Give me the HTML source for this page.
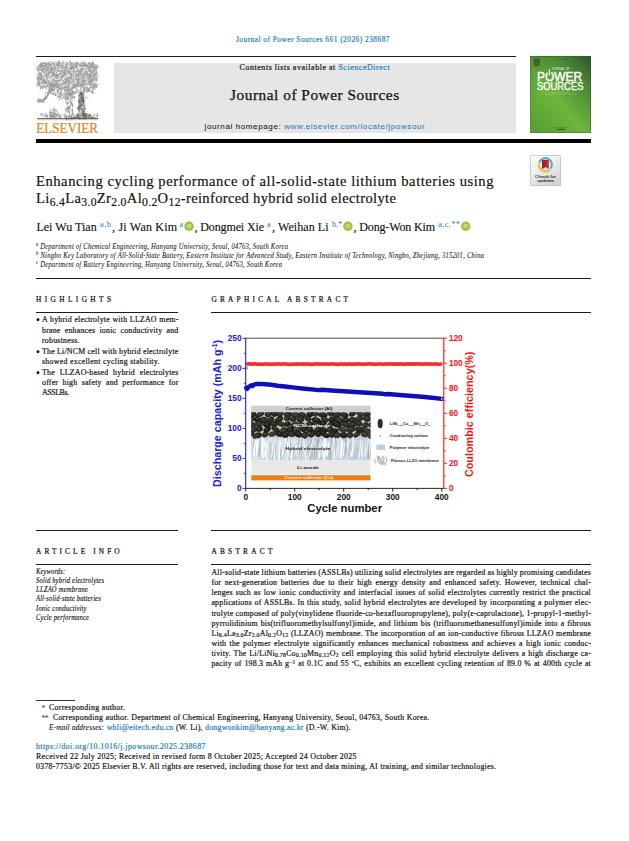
<!DOCTYPE html>
<html>
<head>
<meta charset="utf-8">
<title>Journal of Power Sources 661 (2026) 238687</title>
<style>
html,body{margin:0;padding:0;background:#fff;}
body{width:629px;height:841px;position:relative;overflow:hidden;color:#111;font-family:"Liberation Serif",serif;}
.l{position:absolute;white-space:nowrap;-webkit-text-stroke:0.18px;}
.n{font-family:"Liberation Sans",sans-serif;}
.r{position:absolute;background:#1b1b1b;}
.g{position:absolute;left:0;top:0;}
.orc{display:inline-block;width:0.86em;height:0.86em;border-radius:50%;background:#a6ce39;vertical-align:-0.09em;margin:0 0 0 0.12em;position:relative;}
.orc:after{content:"iD";position:absolute;left:0;top:0;width:100%;height:100%;font:bold 0.5em/1.75em "Liberation Sans",sans-serif;color:#fff;text-align:center;letter-spacing:0;}
</style>
</head>
<body>
<div class="r" style="left:36px;top:55.7px;width:480px;height:0.8px;background:#1b1b1b"></div>
<div class="r" style="left:114px;top:62.8px;width:402px;height:70.2px;background:#e6e6e6"></div>
<div class="r" style="left:36px;top:139.2px;width:555px;height:3.4px;background:#000"></div>
<div class="r" style="left:36px;top:278.0px;width:555.0px;height:0.7px;background:#1b1b1b"></div>
<div class="r" style="left:36px;top:312.0px;width:142.3px;height:0.9px;background:#1b1b1b"></div>
<div class="r" style="left:211.4px;top:312.0px;width:379.6px;height:0.9px;background:#1b1b1b"></div>
<div class="r" style="left:36px;top:529.8px;width:142.3px;height:0.9px;background:#1b1b1b"></div>
<div class="r" style="left:211.4px;top:529.8px;width:379.6px;height:0.9px;background:#1b1b1b"></div>
<div class="r" style="left:36px;top:564.0px;width:142.3px;height:0.9px;background:#1b1b1b"></div>
<div class="r" style="left:211.4px;top:564.0px;width:379.6px;height:0.9px;background:#1b1b1b"></div>
<div class="r" style="left:36px;top:699.9px;width:38.5px;height:0.5px;background:#333"></div>
<svg class="g" width="629" height="841" viewBox="0 0 629 841" font-family="'Liberation Sans', sans-serif">
<g><rect x="251.3" y="405.7" width="119.19999999999999" height="6.6" fill="#cfcfcf"/>
<rect x="251.3" y="412.3" width="119.19999999999999" height="25.4" fill="#c9c99a"/>
<rect x="251.3" y="437.7" width="119.19999999999999" height="22.2" fill="#b4cde8"/>
<rect x="251.3" y="459.9" width="119.19999999999999" height="14.5" fill="#e9e9e9"/>
<rect x="251.3" y="475.2" width="119.19999999999999" height="5.2" fill="#f07d14"/>
<clipPath id="cp1"><rect x="251.3" y="412.3" width="119.19999999999999" height="26.6"/></clipPath>
<g clip-path="url(#cp1)"><ellipse cx="252.9" cy="414.5" rx="3.2" ry="2.9" transform="rotate(-34 252.9 414.5)" fill="#262626" stroke="#0c0c0c" stroke-width="0.35"/><ellipse cx="252.3" cy="413.8" rx="1.5" ry="1.0" transform="rotate(-34 252.9 414.5)" fill="#4a4a4a" opacity="0.7"/><ellipse cx="260.1" cy="414.2" rx="4.5" ry="2.5" transform="rotate(-33 260.1 414.2)" fill="#303030" stroke="#0c0c0c" stroke-width="0.35"/><ellipse cx="259.5" cy="413.5" rx="2.0" ry="0.9" transform="rotate(-33 260.1 414.2)" fill="#4a4a4a" opacity="0.7"/><ellipse cx="268.5" cy="413.8" rx="3.7" ry="3.0" transform="rotate(-30 268.5 413.8)" fill="#2e2e2e" stroke="#0c0c0c" stroke-width="0.35"/><ellipse cx="267.9" cy="413.1" rx="1.7" ry="1.1" transform="rotate(-30 268.5 413.8)" fill="#4a4a4a" opacity="0.7"/><ellipse cx="274.8" cy="413.8" rx="3.1" ry="2.8" transform="rotate(-36 274.8 413.8)" fill="#1f1f1f" stroke="#0c0c0c" stroke-width="0.35"/><ellipse cx="274.2" cy="413.1" rx="1.4" ry="1.0" transform="rotate(-36 274.8 413.8)" fill="#4a4a4a" opacity="0.7"/><ellipse cx="280.3" cy="414.0" rx="3.5" ry="2.4" transform="rotate(-31 280.3 414.0)" fill="#2e2e2e" stroke="#0c0c0c" stroke-width="0.35"/><ellipse cx="279.7" cy="413.3" rx="1.6" ry="0.9" transform="rotate(-31 280.3 414.0)" fill="#4a4a4a" opacity="0.7"/><ellipse cx="287.9" cy="414.5" rx="3.9" ry="2.9" transform="rotate(-10 287.9 414.5)" fill="#2b2b2b" stroke="#0c0c0c" stroke-width="0.35"/><ellipse cx="287.3" cy="413.8" rx="1.8" ry="1.0" transform="rotate(-10 287.9 414.5)" fill="#4a4a4a" opacity="0.7"/><ellipse cx="295.3" cy="415.0" rx="4.0" ry="2.7" transform="rotate(3 295.3 415.0)" fill="#383838" stroke="#0c0c0c" stroke-width="0.35"/><ellipse cx="294.7" cy="414.3" rx="1.8" ry="1.0" transform="rotate(3 295.3 415.0)" fill="#4a4a4a" opacity="0.7"/><ellipse cx="302.4" cy="414.8" rx="3.7" ry="2.6" transform="rotate(24 302.4 414.8)" fill="#303030" stroke="#0c0c0c" stroke-width="0.35"/><ellipse cx="301.8" cy="414.1" rx="1.7" ry="0.9" transform="rotate(24 302.4 414.8)" fill="#4a4a4a" opacity="0.7"/><ellipse cx="310.0" cy="414.3" rx="3.5" ry="2.7" transform="rotate(-13 310.0 414.3)" fill="#1f1f1f" stroke="#0c0c0c" stroke-width="0.35"/><ellipse cx="309.4" cy="413.6" rx="1.6" ry="1.0" transform="rotate(-13 310.0 414.3)" fill="#4a4a4a" opacity="0.7"/><ellipse cx="315.4" cy="413.7" rx="3.2" ry="2.7" transform="rotate(21 315.4 413.7)" fill="#383838" stroke="#0c0c0c" stroke-width="0.35"/><ellipse cx="314.8" cy="413.0" rx="1.4" ry="0.9" transform="rotate(21 315.4 413.7)" fill="#4a4a4a" opacity="0.7"/><ellipse cx="322.9" cy="415.0" rx="4.5" ry="2.4" transform="rotate(5 322.9 415.0)" fill="#262626" stroke="#0c0c0c" stroke-width="0.35"/><ellipse cx="322.3" cy="414.3" rx="2.0" ry="0.8" transform="rotate(5 322.9 415.0)" fill="#4a4a4a" opacity="0.7"/><ellipse cx="330.8" cy="413.5" rx="3.6" ry="2.7" transform="rotate(24 330.8 413.5)" fill="#2b2b2b" stroke="#0c0c0c" stroke-width="0.35"/><ellipse cx="330.2" cy="412.8" rx="1.6" ry="1.0" transform="rotate(24 330.8 413.5)" fill="#4a4a4a" opacity="0.7"/><ellipse cx="337.0" cy="414.8" rx="3.8" ry="2.9" transform="rotate(-35 337.0 414.8)" fill="#2e2e2e" stroke="#0c0c0c" stroke-width="0.35"/><ellipse cx="336.4" cy="414.1" rx="1.7" ry="1.0" transform="rotate(-35 337.0 414.8)" fill="#4a4a4a" opacity="0.7"/><ellipse cx="344.3" cy="415.2" rx="4.1" ry="2.7" transform="rotate(17 344.3 415.2)" fill="#262626" stroke="#0c0c0c" stroke-width="0.35"/><ellipse cx="343.7" cy="414.5" rx="1.8" ry="0.9" transform="rotate(17 344.3 415.2)" fill="#4a4a4a" opacity="0.7"/><ellipse cx="352.6" cy="413.5" rx="3.7" ry="2.5" transform="rotate(-31 352.6 413.5)" fill="#262626" stroke="#0c0c0c" stroke-width="0.35"/><ellipse cx="352.0" cy="412.8" rx="1.7" ry="0.9" transform="rotate(-31 352.6 413.5)" fill="#4a4a4a" opacity="0.7"/><ellipse cx="360.0" cy="413.6" rx="3.4" ry="2.7" transform="rotate(30 360.0 413.6)" fill="#383838" stroke="#0c0c0c" stroke-width="0.35"/><ellipse cx="359.4" cy="412.9" rx="1.5" ry="0.9" transform="rotate(30 360.0 413.6)" fill="#4a4a4a" opacity="0.7"/><ellipse cx="366.6" cy="414.5" rx="3.4" ry="2.4" transform="rotate(-6 366.6 414.5)" fill="#2e2e2e" stroke="#0c0c0c" stroke-width="0.35"/><ellipse cx="366.0" cy="413.8" rx="1.6" ry="0.8" transform="rotate(-6 366.6 414.5)" fill="#4a4a4a" opacity="0.7"/><ellipse cx="373.3" cy="413.7" rx="3.6" ry="3.1" transform="rotate(37 373.3 413.7)" fill="#303030" stroke="#0c0c0c" stroke-width="0.35"/><ellipse cx="372.7" cy="413.0" rx="1.6" ry="1.1" transform="rotate(37 373.3 413.7)" fill="#4a4a4a" opacity="0.7"/><ellipse cx="251.0" cy="419.0" rx="3.0" ry="3.0" transform="rotate(-25 251.0 419.0)" fill="#303030" stroke="#0c0c0c" stroke-width="0.35"/><ellipse cx="250.4" cy="418.3" rx="1.4" ry="1.1" transform="rotate(-25 251.0 419.0)" fill="#4a4a4a" opacity="0.7"/><ellipse cx="257.4" cy="419.8" rx="3.6" ry="2.8" transform="rotate(36 257.4 419.8)" fill="#1f1f1f" stroke="#0c0c0c" stroke-width="0.35"/><ellipse cx="256.8" cy="419.1" rx="1.6" ry="1.0" transform="rotate(36 257.4 419.8)" fill="#4a4a4a" opacity="0.7"/><ellipse cx="263.8" cy="420.1" rx="4.0" ry="3.0" transform="rotate(-3 263.8 420.1)" fill="#2e2e2e" stroke="#0c0c0c" stroke-width="0.35"/><ellipse cx="263.2" cy="419.4" rx="1.8" ry="1.0" transform="rotate(-3 263.8 420.1)" fill="#4a4a4a" opacity="0.7"/><ellipse cx="270.6" cy="419.7" rx="3.6" ry="2.7" transform="rotate(-32 270.6 419.7)" fill="#2b2b2b" stroke="#0c0c0c" stroke-width="0.35"/><ellipse cx="270.0" cy="419.0" rx="1.6" ry="0.9" transform="rotate(-32 270.6 419.7)" fill="#4a4a4a" opacity="0.7"/><ellipse cx="278.9" cy="419.6" rx="4.6" ry="2.7" transform="rotate(-31 278.9 419.6)" fill="#2b2b2b" stroke="#0c0c0c" stroke-width="0.35"/><ellipse cx="278.3" cy="418.9" rx="2.1" ry="0.9" transform="rotate(-31 278.9 419.6)" fill="#4a4a4a" opacity="0.7"/><ellipse cx="287.2" cy="418.5" rx="3.2" ry="2.4" transform="rotate(-11 287.2 418.5)" fill="#303030" stroke="#0c0c0c" stroke-width="0.35"/><ellipse cx="286.6" cy="417.8" rx="1.5" ry="0.8" transform="rotate(-11 287.2 418.5)" fill="#4a4a4a" opacity="0.7"/><ellipse cx="293.1" cy="419.1" rx="3.2" ry="2.5" transform="rotate(-12 293.1 419.1)" fill="#2b2b2b" stroke="#0c0c0c" stroke-width="0.35"/><ellipse cx="292.5" cy="418.4" rx="1.5" ry="0.9" transform="rotate(-12 293.1 419.1)" fill="#4a4a4a" opacity="0.7"/><ellipse cx="300.4" cy="419.0" rx="3.8" ry="3.2" transform="rotate(-2 300.4 419.0)" fill="#303030" stroke="#0c0c0c" stroke-width="0.35"/><ellipse cx="299.8" cy="418.3" rx="1.7" ry="1.1" transform="rotate(-2 300.4 419.0)" fill="#4a4a4a" opacity="0.7"/><ellipse cx="308.1" cy="418.7" rx="3.5" ry="2.5" transform="rotate(26 308.1 418.7)" fill="#2b2b2b" stroke="#0c0c0c" stroke-width="0.35"/><ellipse cx="307.5" cy="418.0" rx="1.6" ry="0.9" transform="rotate(26 308.1 418.7)" fill="#4a4a4a" opacity="0.7"/><ellipse cx="316.3" cy="420.2" rx="4.5" ry="2.6" transform="rotate(15 316.3 420.2)" fill="#1f1f1f" stroke="#0c0c0c" stroke-width="0.35"/><ellipse cx="315.7" cy="419.5" rx="2.0" ry="0.9" transform="rotate(15 316.3 420.2)" fill="#4a4a4a" opacity="0.7"/><ellipse cx="324.8" cy="419.4" rx="4.0" ry="2.4" transform="rotate(28 324.8 419.4)" fill="#303030" stroke="#0c0c0c" stroke-width="0.35"/><ellipse cx="324.2" cy="418.7" rx="1.8" ry="0.8" transform="rotate(28 324.8 419.4)" fill="#4a4a4a" opacity="0.7"/><ellipse cx="332.0" cy="419.7" rx="3.4" ry="2.8" transform="rotate(0 332.0 419.7)" fill="#1f1f1f" stroke="#0c0c0c" stroke-width="0.35"/><ellipse cx="331.4" cy="419.0" rx="1.5" ry="1.0" transform="rotate(0 332.0 419.7)" fill="#4a4a4a" opacity="0.7"/><ellipse cx="339.0" cy="420.0" rx="4.6" ry="3.1" transform="rotate(24 339.0 420.0)" fill="#2e2e2e" stroke="#0c0c0c" stroke-width="0.35"/><ellipse cx="338.4" cy="419.3" rx="2.1" ry="1.1" transform="rotate(24 339.0 420.0)" fill="#4a4a4a" opacity="0.7"/><ellipse cx="345.9" cy="420.4" rx="3.3" ry="2.7" transform="rotate(18 345.9 420.4)" fill="#262626" stroke="#0c0c0c" stroke-width="0.35"/><ellipse cx="345.3" cy="419.7" rx="1.5" ry="1.0" transform="rotate(18 345.9 420.4)" fill="#4a4a4a" opacity="0.7"/><ellipse cx="352.2" cy="420.0" rx="3.3" ry="2.8" transform="rotate(-12 352.2 420.0)" fill="#2e2e2e" stroke="#0c0c0c" stroke-width="0.35"/><ellipse cx="351.6" cy="419.3" rx="1.5" ry="1.0" transform="rotate(-12 352.2 420.0)" fill="#4a4a4a" opacity="0.7"/><ellipse cx="358.8" cy="418.9" rx="4.5" ry="2.6" transform="rotate(-22 358.8 418.9)" fill="#303030" stroke="#0c0c0c" stroke-width="0.35"/><ellipse cx="358.2" cy="418.2" rx="2.0" ry="0.9" transform="rotate(-22 358.8 418.9)" fill="#4a4a4a" opacity="0.7"/><ellipse cx="367.0" cy="418.4" rx="3.8" ry="3.2" transform="rotate(9 367.0 418.4)" fill="#2e2e2e" stroke="#0c0c0c" stroke-width="0.35"/><ellipse cx="366.4" cy="417.7" rx="1.7" ry="1.1" transform="rotate(9 367.0 418.4)" fill="#4a4a4a" opacity="0.7"/><ellipse cx="374.7" cy="419.2" rx="4.0" ry="3.1" transform="rotate(-30 374.7 419.2)" fill="#2e2e2e" stroke="#0c0c0c" stroke-width="0.35"/><ellipse cx="374.1" cy="418.5" rx="1.8" ry="1.1" transform="rotate(-30 374.7 419.2)" fill="#4a4a4a" opacity="0.7"/><ellipse cx="252.2" cy="425.2" rx="3.3" ry="3.0" transform="rotate(-13 252.2 425.2)" fill="#2e2e2e" stroke="#0c0c0c" stroke-width="0.35"/><ellipse cx="251.6" cy="424.5" rx="1.5" ry="1.1" transform="rotate(-13 252.2 425.2)" fill="#4a4a4a" opacity="0.7"/><ellipse cx="258.9" cy="423.9" rx="3.6" ry="3.2" transform="rotate(18 258.9 423.9)" fill="#303030" stroke="#0c0c0c" stroke-width="0.35"/><ellipse cx="258.3" cy="423.2" rx="1.6" ry="1.1" transform="rotate(18 258.9 423.9)" fill="#4a4a4a" opacity="0.7"/><ellipse cx="266.9" cy="424.8" rx="3.9" ry="2.7" transform="rotate(12 266.9 424.8)" fill="#1f1f1f" stroke="#0c0c0c" stroke-width="0.35"/><ellipse cx="266.3" cy="424.1" rx="1.8" ry="1.0" transform="rotate(12 266.9 424.8)" fill="#4a4a4a" opacity="0.7"/><ellipse cx="273.7" cy="423.9" rx="4.1" ry="2.6" transform="rotate(4 273.7 423.9)" fill="#2b2b2b" stroke="#0c0c0c" stroke-width="0.35"/><ellipse cx="273.1" cy="423.2" rx="1.8" ry="0.9" transform="rotate(4 273.7 423.9)" fill="#4a4a4a" opacity="0.7"/><ellipse cx="281.0" cy="423.9" rx="4.2" ry="2.4" transform="rotate(20 281.0 423.9)" fill="#303030" stroke="#0c0c0c" stroke-width="0.35"/><ellipse cx="280.4" cy="423.2" rx="1.9" ry="0.8" transform="rotate(20 281.0 423.9)" fill="#4a4a4a" opacity="0.7"/><ellipse cx="287.5" cy="424.1" rx="3.3" ry="2.5" transform="rotate(-17 287.5 424.1)" fill="#1f1f1f" stroke="#0c0c0c" stroke-width="0.35"/><ellipse cx="286.9" cy="423.4" rx="1.5" ry="0.9" transform="rotate(-17 287.5 424.1)" fill="#4a4a4a" opacity="0.7"/><ellipse cx="294.6" cy="425.1" rx="3.9" ry="3.1" transform="rotate(-35 294.6 425.1)" fill="#383838" stroke="#0c0c0c" stroke-width="0.35"/><ellipse cx="294.0" cy="424.4" rx="1.7" ry="1.1" transform="rotate(-35 294.6 425.1)" fill="#4a4a4a" opacity="0.7"/><ellipse cx="302.1" cy="425.4" rx="4.3" ry="2.8" transform="rotate(26 302.1 425.4)" fill="#303030" stroke="#0c0c0c" stroke-width="0.35"/><ellipse cx="301.5" cy="424.7" rx="1.9" ry="1.0" transform="rotate(26 302.1 425.4)" fill="#4a4a4a" opacity="0.7"/><ellipse cx="309.8" cy="424.0" rx="3.8" ry="2.3" transform="rotate(-5 309.8 424.0)" fill="#2b2b2b" stroke="#0c0c0c" stroke-width="0.35"/><ellipse cx="309.2" cy="423.3" rx="1.7" ry="0.8" transform="rotate(-5 309.8 424.0)" fill="#4a4a4a" opacity="0.7"/><ellipse cx="315.9" cy="423.8" rx="3.2" ry="2.4" transform="rotate(10 315.9 423.8)" fill="#2b2b2b" stroke="#0c0c0c" stroke-width="0.35"/><ellipse cx="315.3" cy="423.1" rx="1.5" ry="0.8" transform="rotate(10 315.9 423.8)" fill="#4a4a4a" opacity="0.7"/><ellipse cx="322.9" cy="423.8" rx="3.8" ry="2.8" transform="rotate(23 322.9 423.8)" fill="#1f1f1f" stroke="#0c0c0c" stroke-width="0.35"/><ellipse cx="322.3" cy="423.1" rx="1.7" ry="1.0" transform="rotate(23 322.9 423.8)" fill="#4a4a4a" opacity="0.7"/><ellipse cx="330.5" cy="424.5" rx="3.3" ry="2.3" transform="rotate(-32 330.5 424.5)" fill="#2b2b2b" stroke="#0c0c0c" stroke-width="0.35"/><ellipse cx="329.9" cy="423.8" rx="1.5" ry="0.8" transform="rotate(-32 330.5 424.5)" fill="#4a4a4a" opacity="0.7"/><ellipse cx="337.4" cy="424.6" rx="4.5" ry="2.7" transform="rotate(9 337.4 424.6)" fill="#1f1f1f" stroke="#0c0c0c" stroke-width="0.35"/><ellipse cx="336.8" cy="423.9" rx="2.0" ry="0.9" transform="rotate(9 337.4 424.6)" fill="#4a4a4a" opacity="0.7"/><ellipse cx="345.4" cy="424.6" rx="3.4" ry="2.8" transform="rotate(25 345.4 424.6)" fill="#303030" stroke="#0c0c0c" stroke-width="0.35"/><ellipse cx="344.8" cy="423.9" rx="1.5" ry="1.0" transform="rotate(25 345.4 424.6)" fill="#4a4a4a" opacity="0.7"/><ellipse cx="352.5" cy="424.7" rx="4.4" ry="3.1" transform="rotate(-19 352.5 424.7)" fill="#303030" stroke="#0c0c0c" stroke-width="0.35"/><ellipse cx="351.9" cy="424.0" rx="2.0" ry="1.1" transform="rotate(-19 352.5 424.7)" fill="#4a4a4a" opacity="0.7"/><ellipse cx="359.1" cy="423.7" rx="3.2" ry="2.4" transform="rotate(-5 359.1 423.7)" fill="#303030" stroke="#0c0c0c" stroke-width="0.35"/><ellipse cx="358.5" cy="423.0" rx="1.4" ry="0.8" transform="rotate(-5 359.1 423.7)" fill="#4a4a4a" opacity="0.7"/><ellipse cx="365.4" cy="425.2" rx="3.3" ry="2.6" transform="rotate(-30 365.4 425.2)" fill="#2e2e2e" stroke="#0c0c0c" stroke-width="0.35"/><ellipse cx="364.8" cy="424.5" rx="1.5" ry="0.9" transform="rotate(-30 365.4 425.2)" fill="#4a4a4a" opacity="0.7"/><ellipse cx="371.7" cy="424.5" rx="3.6" ry="2.5" transform="rotate(-29 371.7 424.5)" fill="#2e2e2e" stroke="#0c0c0c" stroke-width="0.35"/><ellipse cx="371.1" cy="423.8" rx="1.6" ry="0.9" transform="rotate(-29 371.7 424.5)" fill="#4a4a4a" opacity="0.7"/><ellipse cx="253.1" cy="429.1" rx="3.8" ry="3.2" transform="rotate(27 253.1 429.1)" fill="#383838" stroke="#0c0c0c" stroke-width="0.35"/><ellipse cx="252.5" cy="428.4" rx="1.7" ry="1.1" transform="rotate(27 253.1 429.1)" fill="#4a4a4a" opacity="0.7"/><ellipse cx="259.2" cy="429.0" rx="3.6" ry="2.7" transform="rotate(-11 259.2 429.0)" fill="#262626" stroke="#0c0c0c" stroke-width="0.35"/><ellipse cx="258.6" cy="428.3" rx="1.6" ry="0.9" transform="rotate(-11 259.2 429.0)" fill="#4a4a4a" opacity="0.7"/><ellipse cx="267.2" cy="429.5" rx="3.9" ry="2.7" transform="rotate(-39 267.2 429.5)" fill="#1f1f1f" stroke="#0c0c0c" stroke-width="0.35"/><ellipse cx="266.6" cy="428.8" rx="1.7" ry="0.9" transform="rotate(-39 267.2 429.5)" fill="#4a4a4a" opacity="0.7"/><ellipse cx="275.6" cy="429.3" rx="4.5" ry="2.4" transform="rotate(33 275.6 429.3)" fill="#2b2b2b" stroke="#0c0c0c" stroke-width="0.35"/><ellipse cx="275.0" cy="428.6" rx="2.0" ry="0.8" transform="rotate(33 275.6 429.3)" fill="#4a4a4a" opacity="0.7"/><ellipse cx="283.9" cy="430.3" rx="3.4" ry="3.1" transform="rotate(-25 283.9 430.3)" fill="#383838" stroke="#0c0c0c" stroke-width="0.35"/><ellipse cx="283.3" cy="429.6" rx="1.5" ry="1.1" transform="rotate(-25 283.9 430.3)" fill="#4a4a4a" opacity="0.7"/><ellipse cx="290.4" cy="429.9" rx="4.1" ry="3.2" transform="rotate(-8 290.4 429.9)" fill="#1f1f1f" stroke="#0c0c0c" stroke-width="0.35"/><ellipse cx="289.8" cy="429.2" rx="1.8" ry="1.1" transform="rotate(-8 290.4 429.9)" fill="#4a4a4a" opacity="0.7"/><ellipse cx="298.1" cy="430.2" rx="4.1" ry="2.4" transform="rotate(-35 298.1 430.2)" fill="#383838" stroke="#0c0c0c" stroke-width="0.35"/><ellipse cx="297.5" cy="429.5" rx="1.9" ry="0.8" transform="rotate(-35 298.1 430.2)" fill="#4a4a4a" opacity="0.7"/><ellipse cx="304.5" cy="429.3" rx="3.4" ry="2.3" transform="rotate(-33 304.5 429.3)" fill="#1f1f1f" stroke="#0c0c0c" stroke-width="0.35"/><ellipse cx="303.9" cy="428.6" rx="1.5" ry="0.8" transform="rotate(-33 304.5 429.3)" fill="#4a4a4a" opacity="0.7"/><ellipse cx="310.0" cy="429.5" rx="3.1" ry="3.1" transform="rotate(-4 310.0 429.5)" fill="#1f1f1f" stroke="#0c0c0c" stroke-width="0.35"/><ellipse cx="309.4" cy="428.8" rx="1.4" ry="1.1" transform="rotate(-4 310.0 429.5)" fill="#4a4a4a" opacity="0.7"/><ellipse cx="317.4" cy="430.2" rx="4.5" ry="2.9" transform="rotate(-37 317.4 430.2)" fill="#2b2b2b" stroke="#0c0c0c" stroke-width="0.35"/><ellipse cx="316.8" cy="429.5" rx="2.0" ry="1.0" transform="rotate(-37 317.4 430.2)" fill="#4a4a4a" opacity="0.7"/><ellipse cx="324.0" cy="430.1" rx="3.4" ry="2.5" transform="rotate(35 324.0 430.1)" fill="#1f1f1f" stroke="#0c0c0c" stroke-width="0.35"/><ellipse cx="323.4" cy="429.4" rx="1.5" ry="0.9" transform="rotate(35 324.0 430.1)" fill="#4a4a4a" opacity="0.7"/><ellipse cx="330.0" cy="429.5" rx="3.5" ry="2.8" transform="rotate(-26 330.0 429.5)" fill="#2b2b2b" stroke="#0c0c0c" stroke-width="0.35"/><ellipse cx="329.4" cy="428.8" rx="1.6" ry="1.0" transform="rotate(-26 330.0 429.5)" fill="#4a4a4a" opacity="0.7"/><ellipse cx="335.2" cy="430.8" rx="3.1" ry="2.3" transform="rotate(0 335.2 430.8)" fill="#1f1f1f" stroke="#0c0c0c" stroke-width="0.35"/><ellipse cx="334.6" cy="430.1" rx="1.4" ry="0.8" transform="rotate(0 335.2 430.8)" fill="#4a4a4a" opacity="0.7"/><ellipse cx="342.4" cy="429.7" rx="4.5" ry="2.4" transform="rotate(26 342.4 429.7)" fill="#383838" stroke="#0c0c0c" stroke-width="0.35"/><ellipse cx="341.8" cy="429.0" rx="2.0" ry="0.8" transform="rotate(26 342.4 429.7)" fill="#4a4a4a" opacity="0.7"/><ellipse cx="350.9" cy="429.2" rx="4.4" ry="3.2" transform="rotate(-15 350.9 429.2)" fill="#303030" stroke="#0c0c0c" stroke-width="0.35"/><ellipse cx="350.3" cy="428.5" rx="2.0" ry="1.1" transform="rotate(-15 350.9 429.2)" fill="#4a4a4a" opacity="0.7"/><ellipse cx="359.5" cy="429.6" rx="4.3" ry="2.9" transform="rotate(11 359.5 429.6)" fill="#262626" stroke="#0c0c0c" stroke-width="0.35"/><ellipse cx="358.9" cy="428.9" rx="1.9" ry="1.0" transform="rotate(11 359.5 429.6)" fill="#4a4a4a" opacity="0.7"/><ellipse cx="366.9" cy="430.6" rx="4.3" ry="2.3" transform="rotate(10 366.9 430.6)" fill="#383838" stroke="#0c0c0c" stroke-width="0.35"/><ellipse cx="366.3" cy="429.9" rx="2.0" ry="0.8" transform="rotate(10 366.9 430.6)" fill="#4a4a4a" opacity="0.7"/><ellipse cx="374.6" cy="430.1" rx="3.1" ry="3.1" transform="rotate(30 374.6 430.1)" fill="#262626" stroke="#0c0c0c" stroke-width="0.35"/><ellipse cx="374.0" cy="429.4" rx="1.4" ry="1.1" transform="rotate(30 374.6 430.1)" fill="#4a4a4a" opacity="0.7"/><ellipse cx="250.9" cy="433.8" rx="3.1" ry="2.5" transform="rotate(-18 250.9 433.8)" fill="#262626" stroke="#0c0c0c" stroke-width="0.35"/><ellipse cx="250.3" cy="433.1" rx="1.4" ry="0.9" transform="rotate(-18 250.9 433.8)" fill="#4a4a4a" opacity="0.7"/><ellipse cx="257.3" cy="435.7" rx="4.6" ry="2.8" transform="rotate(-20 257.3 435.7)" fill="#262626" stroke="#0c0c0c" stroke-width="0.35"/><ellipse cx="256.7" cy="435.0" rx="2.1" ry="1.0" transform="rotate(-20 257.3 435.7)" fill="#4a4a4a" opacity="0.7"/><ellipse cx="265.3" cy="434.4" rx="3.3" ry="2.6" transform="rotate(-33 265.3 434.4)" fill="#2e2e2e" stroke="#0c0c0c" stroke-width="0.35"/><ellipse cx="264.7" cy="433.7" rx="1.5" ry="0.9" transform="rotate(-33 265.3 434.4)" fill="#4a4a4a" opacity="0.7"/><ellipse cx="272.5" cy="434.0" rx="3.8" ry="2.3" transform="rotate(-19 272.5 434.0)" fill="#383838" stroke="#0c0c0c" stroke-width="0.35"/><ellipse cx="271.9" cy="433.3" rx="1.7" ry="0.8" transform="rotate(-19 272.5 434.0)" fill="#4a4a4a" opacity="0.7"/><ellipse cx="279.4" cy="434.0" rx="3.6" ry="2.6" transform="rotate(10 279.4 434.0)" fill="#1f1f1f" stroke="#0c0c0c" stroke-width="0.35"/><ellipse cx="278.8" cy="433.3" rx="1.6" ry="0.9" transform="rotate(10 279.4 434.0)" fill="#4a4a4a" opacity="0.7"/><ellipse cx="285.2" cy="435.0" rx="3.2" ry="3.1" transform="rotate(23 285.2 435.0)" fill="#262626" stroke="#0c0c0c" stroke-width="0.35"/><ellipse cx="284.6" cy="434.3" rx="1.5" ry="1.1" transform="rotate(23 285.2 435.0)" fill="#4a4a4a" opacity="0.7"/><ellipse cx="291.5" cy="434.1" rx="3.8" ry="2.6" transform="rotate(9 291.5 434.1)" fill="#2e2e2e" stroke="#0c0c0c" stroke-width="0.35"/><ellipse cx="290.9" cy="433.4" rx="1.7" ry="0.9" transform="rotate(9 291.5 434.1)" fill="#4a4a4a" opacity="0.7"/><ellipse cx="298.2" cy="434.1" rx="4.0" ry="3.0" transform="rotate(25 298.2 434.1)" fill="#1f1f1f" stroke="#0c0c0c" stroke-width="0.35"/><ellipse cx="297.6" cy="433.4" rx="1.8" ry="1.0" transform="rotate(25 298.2 434.1)" fill="#4a4a4a" opacity="0.7"/><ellipse cx="305.2" cy="435.2" rx="3.9" ry="3.0" transform="rotate(-39 305.2 435.2)" fill="#2e2e2e" stroke="#0c0c0c" stroke-width="0.35"/><ellipse cx="304.6" cy="434.5" rx="1.8" ry="1.1" transform="rotate(-39 305.2 435.2)" fill="#4a4a4a" opacity="0.7"/><ellipse cx="312.5" cy="434.1" rx="4.1" ry="2.5" transform="rotate(-38 312.5 434.1)" fill="#262626" stroke="#0c0c0c" stroke-width="0.35"/><ellipse cx="311.9" cy="433.4" rx="1.8" ry="0.9" transform="rotate(-38 312.5 434.1)" fill="#4a4a4a" opacity="0.7"/><ellipse cx="319.0" cy="433.8" rx="3.6" ry="2.7" transform="rotate(-36 319.0 433.8)" fill="#1f1f1f" stroke="#0c0c0c" stroke-width="0.35"/><ellipse cx="318.4" cy="433.1" rx="1.6" ry="0.9" transform="rotate(-36 319.0 433.8)" fill="#4a4a4a" opacity="0.7"/><ellipse cx="325.6" cy="435.3" rx="3.8" ry="2.3" transform="rotate(24 325.6 435.3)" fill="#1f1f1f" stroke="#0c0c0c" stroke-width="0.35"/><ellipse cx="325.0" cy="434.6" rx="1.7" ry="0.8" transform="rotate(24 325.6 435.3)" fill="#4a4a4a" opacity="0.7"/><ellipse cx="331.5" cy="434.7" rx="3.1" ry="2.8" transform="rotate(20 331.5 434.7)" fill="#2b2b2b" stroke="#0c0c0c" stroke-width="0.35"/><ellipse cx="330.9" cy="434.0" rx="1.4" ry="1.0" transform="rotate(20 331.5 434.7)" fill="#4a4a4a" opacity="0.7"/><ellipse cx="337.0" cy="435.1" rx="3.4" ry="3.0" transform="rotate(-22 337.0 435.1)" fill="#383838" stroke="#0c0c0c" stroke-width="0.35"/><ellipse cx="336.4" cy="434.4" rx="1.5" ry="1.0" transform="rotate(-22 337.0 435.1)" fill="#4a4a4a" opacity="0.7"/><ellipse cx="343.6" cy="435.3" rx="3.6" ry="2.7" transform="rotate(15 343.6 435.3)" fill="#1f1f1f" stroke="#0c0c0c" stroke-width="0.35"/><ellipse cx="343.0" cy="434.6" rx="1.6" ry="1.0" transform="rotate(15 343.6 435.3)" fill="#4a4a4a" opacity="0.7"/><ellipse cx="349.9" cy="435.1" rx="3.3" ry="2.8" transform="rotate(-13 349.9 435.1)" fill="#2e2e2e" stroke="#0c0c0c" stroke-width="0.35"/><ellipse cx="349.3" cy="434.4" rx="1.5" ry="1.0" transform="rotate(-13 349.9 435.1)" fill="#4a4a4a" opacity="0.7"/><ellipse cx="357.0" cy="434.3" rx="3.9" ry="2.3" transform="rotate(-35 357.0 434.3)" fill="#2e2e2e" stroke="#0c0c0c" stroke-width="0.35"/><ellipse cx="356.4" cy="433.6" rx="1.8" ry="0.8" transform="rotate(-35 357.0 434.3)" fill="#4a4a4a" opacity="0.7"/><ellipse cx="364.6" cy="434.4" rx="3.3" ry="2.7" transform="rotate(17 364.6 434.4)" fill="#383838" stroke="#0c0c0c" stroke-width="0.35"/><ellipse cx="364.0" cy="433.7" rx="1.5" ry="1.0" transform="rotate(17 364.6 434.4)" fill="#4a4a4a" opacity="0.7"/><ellipse cx="370.8" cy="435.8" rx="3.2" ry="3.1" transform="rotate(-24 370.8 435.8)" fill="#383838" stroke="#0c0c0c" stroke-width="0.35"/><ellipse cx="370.2" cy="435.1" rx="1.4" ry="1.1" transform="rotate(-24 370.8 435.8)" fill="#4a4a4a" opacity="0.7"/></g>
<clipPath id="cp2"><rect x="251.3" y="437.7" width="119.19999999999999" height="22.2"/></clipPath>
<g clip-path="url(#cp2)" fill="none"><path d="M248.3 441.7 L248.0 455.2" stroke="#f4f4f4" stroke-width="1.10"/><path d="M248.8 442.5 L252.1 460.6" stroke="#fff" stroke-width="0.59"/><path d="M249.4 436.9 L253.0 456.1" stroke="#e0e0e0" stroke-width="0.67"/><path d="M249.8 439.5 L248.7 455.7" stroke="#f4f4f4" stroke-width="0.51"/><path d="M250.1 439.2 L250.0 459.2" stroke="#fff" stroke-width="0.75"/><path d="M250.6 438.3 L247.6 459.1" stroke="#fff" stroke-width="1.00"/><path d="M251.0 441.0 L254.4 455.6" stroke="#fff" stroke-width="0.65"/><path d="M251.4 442.1 L250.5 460.5" stroke="#f4f4f4" stroke-width="0.95"/><path d="M252.1 436.4 L250.3 457.0" stroke="#c4c4c4" stroke-width="1.06"/><path d="M252.5 439.6 L250.7 459.9" stroke="#fff" stroke-width="0.97"/><path d="M253.0 441.3 L249.3 458.6" stroke="#e0e0e0" stroke-width="0.83"/><path d="M253.7 441.1 L250.1 458.3" stroke="#a8a8a8" stroke-width="0.58"/><path d="M254.4 442.4 L254.3 457.7" stroke="#fff" stroke-width="0.78"/><path d="M254.9 441.2 L253.3 455.1" stroke="#fff" stroke-width="0.74"/><path d="M255.3 440.7 L255.2 460.3" stroke="#c4c4c4" stroke-width="0.60"/><path d="M255.7 439.5 L259.0 459.7" stroke="#fff" stroke-width="1.10"/><path d="M256.3 437.3 L253.4 460.5" stroke="#fff" stroke-width="0.83"/><path d="M256.8 441.7 L255.7 459.8" stroke="#fff" stroke-width="0.95"/><path d="M257.3 439.7 L256.6 458.7" stroke="#fff" stroke-width="0.95"/><path d="M257.8 438.5 L258.4 456.9" stroke="#e0e0e0" stroke-width="0.88"/><path d="M258.5 437.9 L256.2 459.5" stroke="#f4f4f4" stroke-width="0.89"/><path d="M259.0 441.7 L257.5 455.2" stroke="#fff" stroke-width="0.52"/><path d="M259.7 439.3 L262.8 457.5" stroke="#fff" stroke-width="0.54"/><path d="M260.4 439.7 L263.8 458.2" stroke="#f4f4f4" stroke-width="0.65"/><path d="M260.8 439.7 L258.0 456.9" stroke="#a8a8a8" stroke-width="0.93"/><path d="M261.4 439.2 L263.5 457.7" stroke="#fff" stroke-width="0.50"/><path d="M261.8 436.3 L262.4 456.7" stroke="#fff" stroke-width="0.88"/><path d="M262.4 441.3 L261.9 460.4" stroke="#fff" stroke-width="0.81"/><path d="M262.9 437.6 L262.0 457.4" stroke="#fff" stroke-width="0.82"/><path d="M263.7 438.2 L261.9 456.0" stroke="#fff" stroke-width="0.79"/><path d="M264.1 442.7 L262.1 456.8" stroke="#fff" stroke-width="0.53"/><path d="M264.6 440.5 L267.6 460.5" stroke="#fff" stroke-width="0.90"/><path d="M265.3 436.2 L263.1 459.0" stroke="#f4f4f4" stroke-width="0.72"/><path d="M265.8 438.0 L261.8 455.9" stroke="#fff" stroke-width="0.62"/><path d="M266.5 441.7 L265.0 459.6" stroke="#fff" stroke-width="0.66"/><path d="M267.2 440.4 L264.1 457.3" stroke="#fff" stroke-width="0.79"/><path d="M267.9 440.2 L264.4 455.5" stroke="#fff" stroke-width="0.63"/><path d="M268.7 436.4 L265.8 460.6" stroke="#f4f4f4" stroke-width="0.77"/><path d="M269.3 436.8 L267.8 460.5" stroke="#fff" stroke-width="0.70"/><path d="M269.7 441.2 L273.2 460.8" stroke="#c4c4c4" stroke-width="0.94"/><path d="M270.4 439.1 L274.3 460.3" stroke="#fff" stroke-width="0.67"/><path d="M270.9 436.9 L274.6 455.2" stroke="#fff" stroke-width="0.73"/><path d="M271.6 441.6 L270.1 460.5" stroke="#c4c4c4" stroke-width="0.78"/><path d="M272.1 437.4 L275.4 458.8" stroke="#f4f4f4" stroke-width="0.52"/><path d="M272.6 441.4 L275.1 460.8" stroke="#fff" stroke-width="0.78"/><path d="M273.3 437.4 L269.8 460.6" stroke="#e0e0e0" stroke-width="0.70"/><path d="M273.7 440.3 L277.4 459.4" stroke="#c4c4c4" stroke-width="0.91"/><path d="M274.4 441.1 L272.8 457.4" stroke="#a8a8a8" stroke-width="0.88"/><path d="M275.2 437.6 L271.4 458.1" stroke="#f4f4f4" stroke-width="1.07"/><path d="M275.7 439.0 L273.7 458.0" stroke="#f4f4f4" stroke-width="0.61"/><path d="M276.3 441.8 L278.3 456.4" stroke="#e0e0e0" stroke-width="0.64"/><path d="M277.0 441.5 L276.7 457.4" stroke="#e0e0e0" stroke-width="0.62"/><path d="M277.7 436.5 L275.7 460.8" stroke="#e0e0e0" stroke-width="0.83"/><path d="M278.1 436.7 L277.5 460.6" stroke="#e0e0e0" stroke-width="0.55"/><path d="M278.5 441.0 L278.5 458.3" stroke="#fff" stroke-width="0.58"/><path d="M279.0 437.6 L282.2 457.8" stroke="#a8a8a8" stroke-width="0.90"/><path d="M279.4 438.1 L282.2 457.6" stroke="#fff" stroke-width="0.65"/><path d="M279.9 437.3 L279.4 459.6" stroke="#fff" stroke-width="1.03"/><path d="M280.5 438.8 L279.1 455.0" stroke="#e0e0e0" stroke-width="0.82"/><path d="M281.1 439.2 L277.9 460.8" stroke="#fff" stroke-width="0.78"/><path d="M281.8 442.4 L284.5 460.8" stroke="#fff" stroke-width="0.64"/><path d="M282.1 441.8 L282.9 459.8" stroke="#fff" stroke-width="0.72"/><path d="M282.8 437.8 L282.4 456.3" stroke="#fff" stroke-width="0.56"/><path d="M283.4 437.5 L284.4 458.8" stroke="#fff" stroke-width="0.53"/><path d="M284.2 441.1 L280.5 455.5" stroke="#a8a8a8" stroke-width="0.51"/><path d="M284.6 437.3 L286.1 459.1" stroke="#fff" stroke-width="0.52"/><path d="M285.2 438.9 L285.1 456.2" stroke="#c4c4c4" stroke-width="0.83"/><path d="M285.8 437.1 L282.5 456.8" stroke="#f4f4f4" stroke-width="1.09"/><path d="M286.4 436.4 L285.8 456.5" stroke="#fff" stroke-width="0.75"/><path d="M286.8 441.6 L288.9 457.1" stroke="#f4f4f4" stroke-width="0.94"/><path d="M287.2 442.3 L283.2 458.5" stroke="#a8a8a8" stroke-width="0.55"/><path d="M287.8 441.4 L286.7 460.2" stroke="#fff" stroke-width="0.83"/><path d="M288.4 436.6 L291.7 457.3" stroke="#fff" stroke-width="0.94"/><path d="M288.8 437.1 L287.6 460.0" stroke="#fff" stroke-width="0.57"/><path d="M289.4 442.8 L291.8 459.8" stroke="#fff" stroke-width="1.00"/><path d="M289.7 438.2 L293.0 457.4" stroke="#c4c4c4" stroke-width="0.73"/><path d="M290.4 441.8 L291.4 460.0" stroke="#a8a8a8" stroke-width="1.01"/><path d="M291.0 437.4 L291.9 458.2" stroke="#e0e0e0" stroke-width="0.63"/><path d="M291.5 438.7 L291.7 460.3" stroke="#fff" stroke-width="1.08"/><path d="M292.2 442.2 L289.8 455.9" stroke="#c4c4c4" stroke-width="0.52"/><path d="M292.9 440.2 L289.8 457.7" stroke="#c4c4c4" stroke-width="0.97"/><path d="M293.5 437.7 L292.0 458.7" stroke="#fff" stroke-width="0.77"/><path d="M294.0 440.3 L290.2 458.1" stroke="#fff" stroke-width="0.77"/><path d="M294.6 441.9 L297.2 456.1" stroke="#f4f4f4" stroke-width="0.56"/><path d="M295.0 436.6 L294.5 458.3" stroke="#e0e0e0" stroke-width="0.89"/><path d="M295.4 442.5 L292.4 459.1" stroke="#c4c4c4" stroke-width="0.81"/><path d="M295.8 438.6 L295.8 455.3" stroke="#fff" stroke-width="0.52"/><path d="M296.1 440.8 L297.1 460.3" stroke="#fff" stroke-width="1.09"/><path d="M296.7 442.4 L300.3 460.0" stroke="#a8a8a8" stroke-width="0.93"/><path d="M297.1 440.3 L299.8 459.5" stroke="#fff" stroke-width="1.04"/><path d="M297.6 437.0 L300.1 458.0" stroke="#f4f4f4" stroke-width="0.62"/><path d="M298.0 438.2 L298.1 460.8" stroke="#fff" stroke-width="0.74"/><path d="M298.7 438.3 L296.9 458.7" stroke="#a8a8a8" stroke-width="0.97"/><path d="M299.0 440.5 L299.3 458.8" stroke="#a8a8a8" stroke-width="0.77"/><path d="M299.6 442.3 L301.1 459.5" stroke="#e0e0e0" stroke-width="0.88"/><path d="M300.1 437.9 L302.5 455.1" stroke="#e0e0e0" stroke-width="0.59"/><path d="M300.6 437.6 L297.2 457.3" stroke="#fff" stroke-width="0.68"/><path d="M301.2 442.8 L299.6 455.8" stroke="#c4c4c4" stroke-width="1.04"/><path d="M301.8 437.6 L303.8 459.3" stroke="#c4c4c4" stroke-width="0.76"/><path d="M302.4 436.9 L305.5 459.6" stroke="#c4c4c4" stroke-width="0.53"/><path d="M302.7 438.1 L303.3 457.9" stroke="#e0e0e0" stroke-width="0.63"/><path d="M303.3 437.4 L304.0 457.3" stroke="#f4f4f4" stroke-width="0.60"/><path d="M303.7 441.0 L306.1 458.3" stroke="#fff" stroke-width="0.88"/><path d="M304.4 438.8 L306.6 459.4" stroke="#fff" stroke-width="0.53"/><path d="M305.0 440.2 L308.2 457.5" stroke="#e0e0e0" stroke-width="1.06"/><path d="M305.7 442.3 L303.7 460.7" stroke="#e0e0e0" stroke-width="0.52"/><path d="M306.1 442.4 L303.4 460.4" stroke="#e0e0e0" stroke-width="0.83"/><path d="M306.8 437.4 L304.0 457.4" stroke="#e0e0e0" stroke-width="0.89"/><path d="M307.3 439.6 L308.3 460.6" stroke="#c4c4c4" stroke-width="0.53"/><path d="M308.1 441.0 L310.3 461.0" stroke="#a8a8a8" stroke-width="0.76"/><path d="M308.8 440.6 L305.4 459.9" stroke="#fff" stroke-width="0.66"/><path d="M309.4 442.2 L306.4 455.4" stroke="#a8a8a8" stroke-width="0.66"/><path d="M309.7 440.8 L310.8 456.9" stroke="#e0e0e0" stroke-width="1.08"/><path d="M310.2 442.3 L313.6 460.5" stroke="#e0e0e0" stroke-width="0.51"/><path d="M310.7 441.2 L308.6 455.3" stroke="#c4c4c4" stroke-width="1.05"/><path d="M311.1 440.2 L310.2 458.7" stroke="#a8a8a8" stroke-width="0.88"/><path d="M311.7 442.9 L313.0 458.2" stroke="#a8a8a8" stroke-width="0.82"/><path d="M312.1 442.7 L308.3 459.6" stroke="#fff" stroke-width="0.97"/><path d="M312.6 440.0 L313.3 460.0" stroke="#fff" stroke-width="0.52"/><path d="M313.0 438.4 L316.4 460.1" stroke="#fff" stroke-width="0.52"/><path d="M313.4 436.3 L314.5 460.6" stroke="#fff" stroke-width="0.54"/><path d="M314.0 441.7 L312.9 456.1" stroke="#c4c4c4" stroke-width="0.54"/><path d="M314.7 442.6 L318.0 460.4" stroke="#fff" stroke-width="0.62"/><path d="M315.0 442.4 L318.6 456.5" stroke="#fff" stroke-width="1.00"/><path d="M315.6 436.7 L313.9 460.4" stroke="#a8a8a8" stroke-width="0.89"/><path d="M316.1 437.8 L314.8 458.9" stroke="#fff" stroke-width="0.53"/><path d="M316.8 441.4 L320.0 457.4" stroke="#f4f4f4" stroke-width="1.01"/><path d="M317.4 438.9 L313.6 458.4" stroke="#a8a8a8" stroke-width="0.56"/><path d="M317.9 440.0 L314.3 456.7" stroke="#a8a8a8" stroke-width="0.55"/><path d="M318.6 436.0 L315.9 459.8" stroke="#a8a8a8" stroke-width="0.95"/><path d="M318.9 436.7 L317.7 456.8" stroke="#a8a8a8" stroke-width="0.61"/><path d="M319.5 441.8 L318.3 459.4" stroke="#fff" stroke-width="0.67"/><path d="M319.9 439.5 L321.5 460.3" stroke="#c4c4c4" stroke-width="0.96"/><path d="M320.5 439.9 L324.4 460.4" stroke="#fff" stroke-width="0.71"/><path d="M321.0 442.2 L320.1 460.5" stroke="#c4c4c4" stroke-width="0.52"/><path d="M321.4 442.3 L319.5 458.0" stroke="#f4f4f4" stroke-width="1.09"/><path d="M322.0 436.9 L325.6 457.4" stroke="#c4c4c4" stroke-width="0.95"/><path d="M322.6 438.3 L321.4 460.1" stroke="#a8a8a8" stroke-width="0.77"/><path d="M323.2 439.2 L321.8 456.9" stroke="#fff" stroke-width="0.85"/><path d="M323.6 442.2 L323.3 459.6" stroke="#fff" stroke-width="0.66"/><path d="M324.2 440.3 L326.9 456.7" stroke="#fff" stroke-width="0.93"/><path d="M324.8 437.7 L323.6 455.3" stroke="#fff" stroke-width="1.09"/><path d="M325.5 442.7 L322.3 460.4" stroke="#f4f4f4" stroke-width="0.59"/><path d="M325.9 438.1 L324.3 459.4" stroke="#fff" stroke-width="0.88"/><path d="M326.3 438.7 L323.9 460.8" stroke="#f4f4f4" stroke-width="1.01"/><path d="M326.8 442.9 L324.6 459.2" stroke="#fff" stroke-width="0.59"/><path d="M327.4 441.2 L326.6 455.6" stroke="#f4f4f4" stroke-width="0.92"/><path d="M328.0 441.9 L329.2 457.0" stroke="#c4c4c4" stroke-width="1.03"/><path d="M328.6 442.0 L330.2 456.9" stroke="#c4c4c4" stroke-width="0.57"/><path d="M329.2 440.9 L327.2 455.6" stroke="#fff" stroke-width="0.97"/><path d="M329.8 437.8 L330.8 458.5" stroke="#f4f4f4" stroke-width="0.51"/><path d="M330.5 440.6 L330.6 455.8" stroke="#c4c4c4" stroke-width="0.70"/><path d="M330.8 442.4 L333.5 460.4" stroke="#fff" stroke-width="0.83"/><path d="M331.3 442.6 L333.5 457.9" stroke="#fff" stroke-width="1.01"/><path d="M331.8 439.3 L329.4 460.9" stroke="#a8a8a8" stroke-width="1.00"/><path d="M332.4 442.6 L331.6 459.7" stroke="#c4c4c4" stroke-width="0.61"/><path d="M332.9 441.1 L336.4 457.3" stroke="#c4c4c4" stroke-width="0.53"/><path d="M333.4 436.1 L332.6 458.5" stroke="#f4f4f4" stroke-width="0.88"/><path d="M334.0 436.8 L334.6 459.2" stroke="#f4f4f4" stroke-width="1.06"/><path d="M334.5 441.6 L332.3 458.6" stroke="#fff" stroke-width="0.60"/><path d="M335.3 441.6 L331.8 459.8" stroke="#c4c4c4" stroke-width="0.84"/><path d="M335.7 438.5 L339.4 457.2" stroke="#a8a8a8" stroke-width="0.98"/><path d="M336.2 441.3 L340.2 457.1" stroke="#a8a8a8" stroke-width="1.00"/><path d="M336.7 437.9 L339.5 458.7" stroke="#fff" stroke-width="1.09"/><path d="M337.3 441.6 L337.2 456.2" stroke="#fff" stroke-width="0.65"/><path d="M337.8 439.0 L337.6 457.2" stroke="#c4c4c4" stroke-width="1.04"/><path d="M338.2 438.7 L336.6 460.5" stroke="#e0e0e0" stroke-width="1.04"/><path d="M338.9 441.8 L336.0 457.2" stroke="#fff" stroke-width="0.89"/><path d="M339.3 438.1 L335.9 457.4" stroke="#e0e0e0" stroke-width="0.59"/><path d="M339.8 438.4 L342.0 460.1" stroke="#f4f4f4" stroke-width="0.98"/><path d="M340.2 440.3 L343.3 456.3" stroke="#c4c4c4" stroke-width="1.04"/><path d="M340.7 438.1 L341.8 458.0" stroke="#fff" stroke-width="0.82"/><path d="M341.4 442.2 L340.9 457.7" stroke="#fff" stroke-width="0.75"/><path d="M342.1 439.9 L341.9 458.1" stroke="#fff" stroke-width="0.92"/><path d="M342.5 440.2 L339.8 456.6" stroke="#fff" stroke-width="1.00"/><path d="M343.1 440.7 L343.6 456.0" stroke="#fff" stroke-width="0.76"/><path d="M343.8 437.3 L345.2 458.8" stroke="#c4c4c4" stroke-width="0.52"/><path d="M344.4 442.5 L345.9 459.0" stroke="#fff" stroke-width="0.81"/><path d="M344.9 436.2 L348.1 456.7" stroke="#c4c4c4" stroke-width="0.58"/><path d="M345.3 438.4 L346.6 456.3" stroke="#e0e0e0" stroke-width="0.96"/><path d="M345.8 439.0 L345.3 457.7" stroke="#a8a8a8" stroke-width="0.67"/><path d="M346.3 438.3 L346.2 455.1" stroke="#a8a8a8" stroke-width="0.80"/><path d="M347.0 441.5 L348.2 459.0" stroke="#fff" stroke-width="0.93"/><path d="M347.4 436.6 L351.2 455.0" stroke="#f4f4f4" stroke-width="0.93"/><path d="M348.1 436.3 L348.5 459.2" stroke="#fff" stroke-width="0.53"/><path d="M348.8 441.4 L348.6 460.6" stroke="#e0e0e0" stroke-width="1.05"/><path d="M349.4 440.4 L350.3 456.8" stroke="#e0e0e0" stroke-width="1.03"/><path d="M349.8 440.4 L346.1 457.2" stroke="#fff" stroke-width="0.56"/><path d="M350.2 441.4 L346.5 455.5" stroke="#c4c4c4" stroke-width="0.51"/><path d="M350.9 438.2 L348.0 456.7" stroke="#a8a8a8" stroke-width="0.68"/><path d="M351.4 439.0 L350.0 457.1" stroke="#fff" stroke-width="0.80"/><path d="M352.0 441.4 L354.6 458.5" stroke="#c4c4c4" stroke-width="1.05"/><path d="M352.5 438.7 L348.6 457.4" stroke="#c4c4c4" stroke-width="1.09"/><path d="M353.0 436.7 L352.3 457.1" stroke="#fff" stroke-width="1.04"/><path d="M353.6 436.1 L353.1 457.0" stroke="#a8a8a8" stroke-width="0.55"/><path d="M354.3 436.1 L351.4 456.7" stroke="#fff" stroke-width="0.77"/><path d="M355.0 438.6 L358.4 456.5" stroke="#c4c4c4" stroke-width="1.01"/><path d="M355.6 440.4 L352.3 456.7" stroke="#f4f4f4" stroke-width="0.90"/><path d="M356.3 436.4 L359.6 460.8" stroke="#fff" stroke-width="0.51"/><path d="M356.9 436.6 L359.5 459.1" stroke="#c4c4c4" stroke-width="0.86"/><path d="M357.7 440.3 L360.4 459.1" stroke="#e0e0e0" stroke-width="0.94"/><path d="M358.2 442.8 L355.5 460.3" stroke="#c4c4c4" stroke-width="0.60"/><path d="M358.9 441.4 L358.7 458.3" stroke="#fff" stroke-width="0.97"/><path d="M359.5 436.4 L357.8 455.2" stroke="#c4c4c4" stroke-width="0.98"/><path d="M360.0 441.1 L363.0 460.9" stroke="#fff" stroke-width="0.86"/><path d="M360.5 442.2 L359.9 458.7" stroke="#c4c4c4" stroke-width="0.73"/><path d="M361.2 439.2 L359.1 456.9" stroke="#fff" stroke-width="0.66"/><path d="M361.7 441.7 L362.4 455.7" stroke="#fff" stroke-width="0.67"/><path d="M362.1 442.9 L365.2 460.1" stroke="#a8a8a8" stroke-width="0.98"/><path d="M362.7 439.5 L364.9 457.8" stroke="#e0e0e0" stroke-width="0.83"/><path d="M363.3 441.3 L360.9 455.4" stroke="#fff" stroke-width="0.69"/><path d="M363.7 441.0 L362.9 455.4" stroke="#e0e0e0" stroke-width="0.95"/><path d="M364.4 436.6 L364.1 456.2" stroke="#a8a8a8" stroke-width="0.54"/><path d="M364.9 437.8 L365.1 456.0" stroke="#fff" stroke-width="0.79"/><path d="M365.5 437.3 L363.0 459.9" stroke="#c4c4c4" stroke-width="0.67"/><path d="M366.1 441.5 L364.9 455.9" stroke="#fff" stroke-width="0.53"/><path d="M366.8 436.7 L365.8 457.2" stroke="#a8a8a8" stroke-width="0.55"/><path d="M367.3 438.0 L363.5 457.4" stroke="#fff" stroke-width="0.52"/><path d="M368.0 439.4 L371.0 457.6" stroke="#fff" stroke-width="1.06"/><path d="M368.5 439.1 L365.3 457.4" stroke="#e0e0e0" stroke-width="1.08"/><path d="M368.9 437.4 L365.2 459.9" stroke="#fff" stroke-width="0.52"/><path d="M369.3 440.9 L368.3 458.1" stroke="#a8a8a8" stroke-width="1.05"/><path d="M369.7 438.8 L370.5 460.3" stroke="#fff" stroke-width="0.65"/><path d="M370.3 442.7 L371.4 457.0" stroke="#f4f4f4" stroke-width="0.61"/><path d="M370.9 437.6 L369.9 456.7" stroke="#fff" stroke-width="0.52"/><path d="M371.4 442.3 L370.2 455.6" stroke="#a8a8a8" stroke-width="1.05"/><path d="M371.9 441.2 L372.0 456.4" stroke="#f4f4f4" stroke-width="0.53"/><path d="M372.3 442.6 L374.3 456.9" stroke="#fff" stroke-width="0.85"/><path d="M372.8 439.3 L374.0 458.8" stroke="#f4f4f4" stroke-width="0.57"/><path d="M373.3 437.7 L370.7 460.1" stroke="#c4c4c4" stroke-width="1.04"/></g>
<text x="308.9" y="410.4" font-size="3.9" font-weight="bold" fill="#222" text-anchor="middle" textLength="47" lengthAdjust="spacingAndGlyphs">Current collector (Al)</text>
<text x="311.9" y="427.4" font-size="4.4" font-weight="bold" fill="#e4e4e4" text-anchor="middle" textLength="37" lengthAdjust="spacingAndGlyphs">NCM cathode</text>
<text x="307.9" y="450.2" font-size="4.2" font-weight="bold" fill="#222" text-anchor="middle" textLength="45" lengthAdjust="spacingAndGlyphs">Hybrid electrolyte</text>
<text x="307.9" y="468.8" font-size="4.2" font-weight="bold" fill="#222" text-anchor="middle" textLength="22" lengthAdjust="spacingAndGlyphs">Li anode</text>
<text x="308.9" y="479.2" font-size="3.9" font-weight="bold" fill="#fff3e0" text-anchor="middle" textLength="49" lengthAdjust="spacingAndGlyphs">Current collector (Cu)</text>
<ellipse cx="380.2" cy="423.6" rx="2.3" ry="4.6" fill="#2b2b2b" stroke="#111" stroke-width="0.4"/>
<circle cx="380.2" cy="436" r="0.6" fill="#111"/>
<rect x="376.4" y="444.6" width="8.6" height="5.2" fill="#b4cde8"/>
<path d="M377.6 458.9 l-0.3 3.6" stroke="#888" stroke-width="0.5"/><path d="M382.4 455.8 l-1.2 3.6" stroke="#888" stroke-width="0.5"/><path d="M377.8 456.9 l1.2 3.6" stroke="#888" stroke-width="0.5"/><path d="M381.4 459.0 l-0.2 3.6" stroke="#aaa" stroke-width="0.5"/><path d="M377.5 456.4 l1.0 3.6" stroke="#888" stroke-width="0.5"/><path d="M383.9 459.8 l-1.0 3.6" stroke="#999" stroke-width="0.5"/><path d="M378.4 455.6 l0.9 3.6" stroke="#888" stroke-width="0.5"/><path d="M382.0 461.4 l-0.3 3.6" stroke="#888" stroke-width="0.5"/><path d="M379.5 460.6 l-0.1 3.6" stroke="#aaa" stroke-width="0.5"/><path d="M385.6 456.0 l-0.9 3.6" stroke="#aaa" stroke-width="0.5"/><path d="M377.8 459.8 l0.7 3.6" stroke="#bbb" stroke-width="0.5"/><path d="M379.9 460.8 l0.2 3.6" stroke="#888" stroke-width="0.5"/><path d="M381.9 461.3 l0.4 3.6" stroke="#999" stroke-width="0.5"/><path d="M385.3 461.8 l0.4 3.6" stroke="#aaa" stroke-width="0.5"/><path d="M383.3 457.5 l0.1 3.6" stroke="#999" stroke-width="0.5"/><path d="M383.5 456.8 l0.8 3.6" stroke="#bbb" stroke-width="0.5"/><path d="M378.2 455.8 l0.8 3.6" stroke="#888" stroke-width="0.5"/><path d="M375.7 460.6 l-0.2 3.6" stroke="#aaa" stroke-width="0.5"/><path d="M374.9 458.2 l-0.2 3.6" stroke="#999" stroke-width="0.5"/><path d="M375.2 459.4 l-1.1 3.6" stroke="#bbb" stroke-width="0.5"/><path d="M381.5 461.4 l-0.5 3.6" stroke="#aaa" stroke-width="0.5"/><path d="M387.1 457.4 l-1.0 3.6" stroke="#999" stroke-width="0.5"/><path d="M386.5 461.7 l-0.5 3.6" stroke="#bbb" stroke-width="0.5"/><path d="M376.6 455.7 l0.9 3.6" stroke="#bbb" stroke-width="0.5"/><path d="M379.1 456.3 l0.9 3.6" stroke="#888" stroke-width="0.5"/><path d="M380.4 458.8 l0.3 3.6" stroke="#999" stroke-width="0.5"/><path d="M382.4 461.5 l0.0 3.6" stroke="#888" stroke-width="0.5"/><path d="M382.5 460.1 l1.0 3.6" stroke="#888" stroke-width="0.5"/><path d="M386.8 458.8 l0.1 3.6" stroke="#999" stroke-width="0.5"/><path d="M384.5 461.8 l-0.4 3.6" stroke="#888" stroke-width="0.5"/><path d="M382.3 459.5 l-1.1 3.6" stroke="#bbb" stroke-width="0.5"/><path d="M380.4 459.8 l-0.4 3.6" stroke="#bbb" stroke-width="0.5"/><path d="M383.8 455.5 l-1.1 3.6" stroke="#999" stroke-width="0.5"/><path d="M386.6 457.0 l-0.1 3.6" stroke="#bbb" stroke-width="0.5"/>
<text x="389.8" y="424.9" font-size="3.5" font-weight="bold" fill="#222" text-anchor="start" textLength="40" lengthAdjust="spacingAndGlyphs">LiNi<tspan font-size="2.4" dy="0.8">0.78</tspan><tspan dy="-0.8">Co</tspan><tspan font-size="2.4" dy="0.8">0.10</tspan><tspan dy="-0.8">Mn</tspan><tspan font-size="2.4" dy="0.8">0.12</tspan><tspan dy="-0.8">O</tspan><tspan font-size="2.4" dy="0.8">2</tspan></text>
<text x="389.8" y="437.3" font-size="3.5" font-weight="bold" fill="#222" text-anchor="start" textLength="38" lengthAdjust="spacingAndGlyphs">Conducting carbon</text>
<text x="389.8" y="448.6" font-size="3.5" font-weight="bold" fill="#222" text-anchor="start" textLength="39.5" lengthAdjust="spacingAndGlyphs">Polymer electrolyte</text>
<text x="390.9" y="461.6" font-size="3.5" font-weight="bold" fill="#222" text-anchor="start" textLength="48" lengthAdjust="spacingAndGlyphs">Fibrous LLZO membrane</text>
<path d="M246.7 364.1 L441.7 364.1" stroke="#ff6a6a" stroke-width="2.6"/>
<g fill="none" stroke="#f02222" stroke-width="0.62"><circle cx="246.2" cy="368.0" r="1.4"/><circle cx="247.2" cy="363.9" r="1.4"/><circle cx="248.1" cy="363.8" r="1.4"/><circle cx="249.1" cy="363.7" r="1.4"/><circle cx="250.1" cy="363.9" r="1.4"/><circle cx="251.1" cy="363.7" r="1.4"/><circle cx="252.1" cy="364.5" r="1.4"/><circle cx="253.0" cy="364.1" r="1.4"/><circle cx="254.0" cy="363.7" r="1.4"/><circle cx="255.0" cy="364.0" r="1.4"/><circle cx="256.0" cy="363.8" r="1.4"/><circle cx="257.0" cy="364.4" r="1.4"/><circle cx="257.9" cy="364.1" r="1.4"/><circle cx="258.9" cy="364.3" r="1.4"/><circle cx="259.9" cy="364.1" r="1.4"/><circle cx="260.9" cy="364.0" r="1.4"/><circle cx="261.9" cy="364.5" r="1.4"/><circle cx="262.8" cy="364.4" r="1.4"/><circle cx="263.8" cy="364.3" r="1.4"/><circle cx="264.8" cy="363.7" r="1.4"/><circle cx="265.8" cy="363.9" r="1.4"/><circle cx="266.8" cy="364.4" r="1.4"/><circle cx="267.8" cy="363.8" r="1.4"/><circle cx="268.7" cy="364.4" r="1.4"/><circle cx="269.7" cy="364.0" r="1.4"/><circle cx="270.7" cy="364.4" r="1.4"/><circle cx="271.7" cy="364.5" r="1.4"/><circle cx="272.6" cy="363.8" r="1.4"/><circle cx="273.6" cy="364.4" r="1.4"/><circle cx="274.6" cy="364.4" r="1.4"/><circle cx="275.6" cy="363.7" r="1.4"/><circle cx="276.6" cy="363.8" r="1.4"/><circle cx="277.6" cy="364.3" r="1.4"/><circle cx="278.5" cy="363.7" r="1.4"/><circle cx="279.5" cy="364.1" r="1.4"/><circle cx="280.5" cy="364.0" r="1.4"/><circle cx="281.5" cy="364.4" r="1.4"/><circle cx="282.4" cy="363.7" r="1.4"/><circle cx="283.4" cy="363.9" r="1.4"/><circle cx="284.4" cy="363.7" r="1.4"/><circle cx="285.4" cy="363.8" r="1.4"/><circle cx="286.4" cy="364.3" r="1.4"/><circle cx="287.3" cy="364.2" r="1.4"/><circle cx="288.3" cy="364.4" r="1.4"/><circle cx="289.3" cy="364.4" r="1.4"/><circle cx="290.3" cy="364.5" r="1.4"/><circle cx="291.3" cy="364.3" r="1.4"/><circle cx="292.2" cy="364.0" r="1.4"/><circle cx="293.2" cy="364.5" r="1.4"/><circle cx="294.2" cy="364.0" r="1.4"/><circle cx="295.2" cy="364.2" r="1.4"/><circle cx="296.2" cy="364.3" r="1.4"/><circle cx="297.1" cy="363.8" r="1.4"/><circle cx="298.1" cy="364.1" r="1.4"/><circle cx="299.1" cy="364.3" r="1.4"/><circle cx="300.1" cy="364.1" r="1.4"/><circle cx="301.1" cy="363.9" r="1.4"/><circle cx="302.1" cy="364.5" r="1.4"/><circle cx="303.0" cy="363.7" r="1.4"/><circle cx="304.0" cy="364.5" r="1.4"/><circle cx="305.0" cy="363.9" r="1.4"/><circle cx="306.0" cy="363.8" r="1.4"/><circle cx="306.9" cy="364.5" r="1.4"/><circle cx="307.9" cy="363.9" r="1.4"/><circle cx="308.9" cy="364.2" r="1.4"/><circle cx="309.9" cy="364.0" r="1.4"/><circle cx="310.9" cy="364.5" r="1.4"/><circle cx="311.9" cy="364.5" r="1.4"/><circle cx="312.8" cy="364.4" r="1.4"/><circle cx="313.8" cy="363.7" r="1.4"/><circle cx="314.8" cy="364.4" r="1.4"/><circle cx="315.8" cy="363.9" r="1.4"/><circle cx="316.8" cy="363.7" r="1.4"/><circle cx="317.7" cy="363.7" r="1.4"/><circle cx="318.7" cy="364.2" r="1.4"/><circle cx="319.7" cy="364.2" r="1.4"/><circle cx="320.7" cy="364.1" r="1.4"/><circle cx="321.6" cy="363.9" r="1.4"/><circle cx="322.6" cy="364.4" r="1.4"/><circle cx="323.6" cy="363.9" r="1.4"/><circle cx="324.6" cy="363.8" r="1.4"/><circle cx="325.6" cy="363.8" r="1.4"/><circle cx="326.5" cy="364.5" r="1.4"/><circle cx="327.5" cy="363.7" r="1.4"/><circle cx="328.5" cy="364.5" r="1.4"/><circle cx="329.5" cy="364.2" r="1.4"/><circle cx="330.5" cy="364.0" r="1.4"/><circle cx="331.4" cy="363.7" r="1.4"/><circle cx="332.4" cy="364.2" r="1.4"/><circle cx="333.4" cy="363.7" r="1.4"/><circle cx="334.4" cy="364.1" r="1.4"/><circle cx="335.4" cy="364.3" r="1.4"/><circle cx="336.3" cy="364.3" r="1.4"/><circle cx="337.3" cy="364.4" r="1.4"/><circle cx="338.3" cy="364.5" r="1.4"/><circle cx="339.3" cy="364.4" r="1.4"/><circle cx="340.3" cy="363.9" r="1.4"/><circle cx="341.2" cy="363.7" r="1.4"/><circle cx="342.2" cy="364.4" r="1.4"/><circle cx="343.2" cy="364.5" r="1.4"/><circle cx="344.2" cy="363.7" r="1.4"/><circle cx="345.2" cy="364.1" r="1.4"/><circle cx="346.1" cy="364.2" r="1.4"/><circle cx="347.1" cy="364.3" r="1.4"/><circle cx="348.1" cy="364.0" r="1.4"/><circle cx="349.1" cy="363.8" r="1.4"/><circle cx="350.1" cy="364.1" r="1.4"/><circle cx="351.0" cy="364.2" r="1.4"/><circle cx="352.0" cy="364.5" r="1.4"/><circle cx="353.0" cy="363.7" r="1.4"/><circle cx="354.0" cy="364.5" r="1.4"/><circle cx="355.0" cy="364.1" r="1.4"/><circle cx="355.9" cy="363.8" r="1.4"/><circle cx="356.9" cy="364.4" r="1.4"/><circle cx="357.9" cy="363.9" r="1.4"/><circle cx="358.9" cy="363.7" r="1.4"/><circle cx="359.9" cy="364.0" r="1.4"/><circle cx="360.8" cy="363.9" r="1.4"/><circle cx="361.8" cy="364.5" r="1.4"/><circle cx="362.8" cy="364.2" r="1.4"/><circle cx="363.8" cy="364.4" r="1.4"/><circle cx="364.8" cy="363.8" r="1.4"/><circle cx="365.8" cy="364.3" r="1.4"/><circle cx="366.7" cy="364.1" r="1.4"/><circle cx="367.7" cy="363.7" r="1.4"/><circle cx="368.7" cy="363.8" r="1.4"/><circle cx="369.7" cy="363.7" r="1.4"/><circle cx="370.6" cy="364.1" r="1.4"/><circle cx="371.6" cy="364.1" r="1.4"/><circle cx="372.6" cy="363.9" r="1.4"/><circle cx="373.6" cy="364.1" r="1.4"/><circle cx="374.6" cy="364.3" r="1.4"/><circle cx="375.5" cy="364.2" r="1.4"/><circle cx="376.5" cy="364.4" r="1.4"/><circle cx="377.5" cy="364.2" r="1.4"/><circle cx="378.5" cy="363.7" r="1.4"/><circle cx="379.5" cy="363.7" r="1.4"/><circle cx="380.4" cy="364.0" r="1.4"/><circle cx="381.4" cy="364.1" r="1.4"/><circle cx="382.4" cy="364.2" r="1.4"/><circle cx="383.4" cy="364.5" r="1.4"/><circle cx="384.4" cy="364.3" r="1.4"/><circle cx="385.4" cy="363.9" r="1.4"/><circle cx="386.3" cy="363.8" r="1.4"/><circle cx="387.3" cy="364.2" r="1.4"/><circle cx="388.3" cy="363.9" r="1.4"/><circle cx="389.3" cy="363.9" r="1.4"/><circle cx="390.2" cy="363.9" r="1.4"/><circle cx="391.2" cy="364.0" r="1.4"/><circle cx="392.2" cy="363.9" r="1.4"/><circle cx="393.2" cy="364.2" r="1.4"/><circle cx="394.2" cy="363.9" r="1.4"/><circle cx="395.1" cy="364.3" r="1.4"/><circle cx="396.1" cy="364.1" r="1.4"/><circle cx="397.1" cy="363.9" r="1.4"/><circle cx="398.1" cy="363.9" r="1.4"/><circle cx="399.1" cy="364.3" r="1.4"/><circle cx="400.0" cy="363.7" r="1.4"/><circle cx="401.0" cy="364.0" r="1.4"/><circle cx="402.0" cy="364.0" r="1.4"/><circle cx="403.0" cy="364.5" r="1.4"/><circle cx="404.0" cy="364.1" r="1.4"/><circle cx="404.9" cy="364.3" r="1.4"/><circle cx="405.9" cy="364.0" r="1.4"/><circle cx="406.9" cy="364.1" r="1.4"/><circle cx="407.9" cy="363.8" r="1.4"/><circle cx="408.9" cy="364.0" r="1.4"/><circle cx="409.9" cy="363.8" r="1.4"/><circle cx="410.8" cy="364.2" r="1.4"/><circle cx="411.8" cy="364.0" r="1.4"/><circle cx="412.8" cy="363.9" r="1.4"/><circle cx="413.8" cy="363.8" r="1.4"/><circle cx="414.8" cy="364.2" r="1.4"/><circle cx="415.7" cy="363.8" r="1.4"/><circle cx="416.7" cy="363.8" r="1.4"/><circle cx="417.7" cy="363.9" r="1.4"/><circle cx="418.7" cy="363.7" r="1.4"/><circle cx="419.6" cy="363.7" r="1.4"/><circle cx="420.6" cy="364.1" r="1.4"/><circle cx="421.6" cy="364.1" r="1.4"/><circle cx="422.6" cy="364.4" r="1.4"/><circle cx="423.6" cy="363.8" r="1.4"/><circle cx="424.5" cy="363.7" r="1.4"/><circle cx="425.5" cy="364.1" r="1.4"/><circle cx="426.5" cy="363.9" r="1.4"/><circle cx="427.5" cy="363.9" r="1.4"/><circle cx="428.5" cy="363.9" r="1.4"/><circle cx="429.4" cy="364.4" r="1.4"/><circle cx="430.4" cy="363.9" r="1.4"/><circle cx="431.4" cy="364.0" r="1.4"/><circle cx="432.4" cy="364.0" r="1.4"/><circle cx="433.4" cy="364.2" r="1.4"/><circle cx="434.4" cy="364.0" r="1.4"/><circle cx="435.3" cy="363.9" r="1.4"/><circle cx="436.3" cy="364.0" r="1.4"/><circle cx="437.3" cy="363.9" r="1.4"/><circle cx="438.3" cy="364.5" r="1.4"/><circle cx="439.2" cy="364.4" r="1.4"/><circle cx="440.2" cy="364.2" r="1.4"/><circle cx="441.2" cy="364.0" r="1.4"/></g>
<path d="M246.2 387.9 L247.2 388.8 L248.1 387.3 L249.6 386.4 L251.6 385.2 L252.6 386.1 L254.0 384.6 L256.5 384.0 L260.4 383.9 L265.3 384.2 L271.2 384.8 L277.6 385.7 L284.9 386.5 L294.7 387.6 L304.5 388.7 L314.3 389.6 L318.2 390.1 L322.1 389.8 L331.4 390.5 L343.7 391.3 L363.3 392.5 L382.9 393.8 L385.4 394.3 L387.8 394.0 L402.5 395.2 L422.1 396.8 L434.4 398.0 L441.7 398.9" fill="none" stroke="#0d10b6" stroke-width="4.4" stroke-linecap="round" stroke-linejoin="round"/>
<circle cx="441.7" cy="398.9" r="0.9" fill="#dfe2ff"/>
<path d="M245.7 338.2 H443.8" stroke="#222" stroke-width="0.8"/>
<path d="M245.7 488.4 H443.8" stroke="#111" stroke-width="0.9"/>
<path d="M245.7 337.8 V488.79999999999995" stroke="#2020d8" stroke-width="1.1"/>
<path d="M443.8 337.8 V488.79999999999995" stroke="#ff1010" stroke-width="1.1"/>
<path d="M245.7 488.40 h-3.2 M245.7 473.40 h-1.8 M245.7 458.40 h-3.2 M245.7 443.40 h-1.8 M245.7 428.40 h-3.2 M245.7 413.40 h-1.8 M245.7 398.40 h-3.2 M245.7 383.40 h-1.8 M245.7 368.40 h-3.2 M245.7 353.40 h-1.8 M245.7 338.40 h-3.2" stroke="#2020d8" stroke-width="0.9"/>
<path d="M443.8 488.40 h3.2 M443.8 475.88 h1.8 M443.8 463.37 h3.2 M443.8 450.85 h1.8 M443.8 438.33 h3.2 M443.8 425.81 h1.8 M443.8 413.30 h3.2 M443.8 400.78 h1.8 M443.8 388.26 h3.2 M443.8 375.75 h1.8 M443.8 363.23 h3.2 M443.8 350.71 h1.8 M443.8 338.20 h3.2" stroke="#ff1010" stroke-width="0.9"/>
<path d="M245.70 488.4 v3.2 M270.20 488.4 v1.8 M294.70 488.4 v3.2 M319.20 488.4 v1.8 M343.70 488.4 v3.2 M368.20 488.4 v1.8 M392.70 488.4 v3.2 M417.20 488.4 v1.8 M441.70 488.4 v3.2" stroke="#111" stroke-width="0.9"/>
<text x="241.6" y="491.4" font-size="8.3" font-weight="bold" fill="#2020d8" text-anchor="end">0</text>
<text x="241.6" y="461.4" font-size="8.3" font-weight="bold" fill="#2020d8" text-anchor="end">50</text>
<text x="241.6" y="431.4" font-size="8.3" font-weight="bold" fill="#2020d8" text-anchor="end">100</text>
<text x="241.6" y="401.4" font-size="8.3" font-weight="bold" fill="#2020d8" text-anchor="end">150</text>
<text x="241.6" y="371.4" font-size="8.3" font-weight="bold" fill="#2020d8" text-anchor="end">200</text>
<text x="241.6" y="341.4" font-size="8.3" font-weight="bold" fill="#2020d8" text-anchor="end">250</text>
<text x="448.9" y="491.4" font-size="8.3" font-weight="bold" fill="#ff1010">0</text>
<text x="448.9" y="466.4" font-size="8.3" font-weight="bold" fill="#ff1010">20</text>
<text x="448.9" y="441.3" font-size="8.3" font-weight="bold" fill="#ff1010">40</text>
<text x="448.9" y="416.3" font-size="8.3" font-weight="bold" fill="#ff1010">60</text>
<text x="448.9" y="391.3" font-size="8.3" font-weight="bold" fill="#ff1010">80</text>
<text x="448.9" y="366.2" font-size="8.3" font-weight="bold" fill="#ff1010">100</text>
<text x="448.9" y="341.2" font-size="8.3" font-weight="bold" fill="#ff1010">120</text>
<text x="245.7" y="500.1" font-size="8.3" font-weight="bold" fill="#111" text-anchor="middle">0</text>
<text x="294.7" y="500.1" font-size="8.3" font-weight="bold" fill="#111" text-anchor="middle">100</text>
<text x="343.7" y="500.1" font-size="8.3" font-weight="bold" fill="#111" text-anchor="middle">200</text>
<text x="392.7" y="500.1" font-size="8.3" font-weight="bold" fill="#111" text-anchor="middle">300</text>
<text x="441.7" y="500.1" font-size="8.3" font-weight="bold" fill="#111" text-anchor="middle">400</text>
<text x="344.7" y="511.6" font-size="11.3" font-weight="bold" fill="#111" text-anchor="middle">Cycle number</text>
<text transform="translate(220.7 413.5) rotate(-90)" font-size="10.5" font-weight="bold" fill="#2020d8" text-anchor="middle" textLength="147" lengthAdjust="spacingAndGlyphs">Discharge capacity (mAh g<tspan font-size="6.5" dy="-3.6">-1</tspan><tspan dy="3.6">)</tspan></text>
<text transform="translate(473.4 414.3) rotate(-90)" font-size="10.4" font-weight="bold" fill="#ff1010" text-anchor="middle" textLength="125.5" lengthAdjust="spacingAndGlyphs">Coulombic efficiency(%)</text></g>
<g><path d="M40.6 70.3 l-0.3 -0.1 l1.1 -0.0 l0.2 0.9 M66.2 65.4 l-0.7 0.5 l-0.6 0.8 l0.2 -0.5 M50.3 83.5 l-0.7 1.0 l0.6 -1.1 l-0.2 -0.6 M44.8 63.8 l1.2 -1.2 l0.3 -0.0 l0.6 -0.5 M92.3 90.1 l-0.4 0.5 l1.0 0.9 l-0.2 0.7 M49.4 78.0 l0.5 0.9 l0.3 -0.4 l0.8 -0.6 M74.0 87.9 l0.2 -0.5 l0.7 -1.2 l-0.9 -0.1 M57.8 65.6 l-0.0 -1.2 l0.8 -1.1 l0.7 -0.8 M54.1 89.8 l-0.5 -0.3 l0.9 1.0 l-0.7 0.9 M67.2 81.2 l0.5 0.5 l0.9 -1.2 l0.3 0.8 M91.5 67.5 l-0.3 -0.2 l1.1 0.1 l0.5 -0.7 M71.6 75.9 l0.0 0.5 l-0.8 -1.1 l-1.0 -1.2 M71.6 69.7 l-0.6 -1.0 l0.6 -0.8 l1.1 -0.9 M81.9 71.4 l-0.6 0.3 l0.6 0.5 l-0.8 -0.6 M62.5 72.2 l-0.5 0.6 l0.8 -0.8 l0.4 0.2 M83.8 74.8 l-0.3 -1.0 l0.5 0.2 l1.0 1.1 M93.1 78.9 l-0.7 1.2 l0.6 0.0 l-1.0 0.8 M72.6 92.4 l0.7 0.1 l0.8 0.2 l-0.8 0.6 M85.3 65.7 l-1.0 0.3 l-0.9 0.6 l0.4 -0.6 M55.5 83.1 l-0.0 -0.2 l1.1 0.4 l0.7 -1.0 M80.8 66.1 l-1.2 -0.8 l-0.8 0.5 l0.7 -0.1 M38.3 78.0 l-0.5 -0.2 l0.1 1.2 l0.4 -1.1 M93.6 85.9 l1.2 0.7 l0.4 0.3 l-1.2 -0.4 M91.0 64.4 l1.2 -0.6 l-0.2 0.9 l-0.4 1.1 M41.4 73.2 l0.6 -1.2 l0.7 -0.9 l1.0 0.3 M52.0 89.4 l-0.0 -0.7 l0.2 -0.0 l-1.2 0.2 M89.5 78.2 l-0.4 1.2 l0.3 -1.2 l-0.2 0.4 M60.6 97.1 l-1.0 -1.1 l0.6 0.7 l-0.9 -0.6 M66.8 80.9 l-0.7 1.1 l-0.7 0.7 l-0.4 0.5 M93.0 72.7 l-0.1 -0.4 l-0.6 -1.2 l-0.4 1.0 M61.0 74.6 l0.1 -0.9 l-1.2 0.7 l0.4 -1.2 M46.6 67.0 l-1.1 -0.1 l1.0 -1.1 l-0.3 0.7 M52.6 71.7 l0.8 0.8 l0.7 1.2 l-1.0 1.1 M55.5 65.0 l-0.4 0.6 l-0.7 0.6 l0.1 0.5 M60.4 97.0 l0.1 -1.2 l0.6 0.4 l1.0 -1.1 M94.2 68.2 l-0.8 -0.1 l0.1 -1.1 l1.2 0.6 M42.3 63.9 l-1.0 -0.8 l-0.3 0.9 l0.3 1.0 M77.0 70.7 l0.8 0.0 l-1.0 0.7 l-1.2 1.1 M85.8 66.6 l0.1 -1.2 l-1.0 -0.5 l1.2 0.4 M89.0 64.2 l0.1 0.4 l-0.2 1.0 l-0.7 1.2 M66.1 83.1 l-0.7 -0.4 l-0.8 -0.4 l0.2 0.0 M81.7 84.1 l-0.3 0.5 l-0.2 0.3 l0.1 1.2 M66.6 80.9 l0.8 -1.0 l0.7 -0.7 l-0.8 0.1 M74.1 67.0 l0.5 -0.3 l1.1 0.5 l-0.5 0.9 M81.4 72.4 l0.4 -0.5 l0.2 -0.6 l-1.1 -1.2 M44.2 65.9 l-0.5 -0.2 l0.7 0.4 l0.1 -0.0 M78.9 75.5 l0.2 -0.4 l-0.7 1.1 l-1.0 1.1 M57.0 75.5 l-1.1 -0.3 l0.6 0.1 l-0.4 0.4 M63.6 64.2 l-1.1 -1.1 l0.8 1.2 l-0.2 0.4 M74.7 76.4 l-0.8 -0.9 l0.2 0.3 l-0.2 0.2 M84.0 92.0 l1.1 0.3 l-0.0 -0.3 l-0.4 -1.2 M74.7 98.6 l-1.0 -0.7 l1.2 -1.1 l-1.0 0.5 M51.3 90.3 l1.1 0.3 l-0.4 -1.2 l0.8 0.6 M64.3 74.3 l0.3 -1.0 l0.6 0.3 l0.1 0.4 M91.8 87.4 l1.0 1.2 l0.4 -1.0 l-1.1 -0.1 M89.7 70.4 l0.8 1.0 l0.9 0.5 l-1.2 1.0 M51.1 81.2 l1.2 1.1 l0.3 -1.2 l0.6 1.1 M51.8 66.9 l-0.3 1.1 l0.4 0.3 l-0.7 -1.2 M93.8 66.5 l-0.5 0.6 l0.7 0.5 l1.1 -0.8 M72.1 95.5 l1.2 0.8 l0.4 1.2 l-0.9 -0.2 M71.3 67.4 l-0.7 1.1 l-0.3 -0.6 l0.4 0.9 M37.9 69.5 l-0.8 0.1 l-0.4 -1.2 l-1.2 -1.2 M88.8 83.0 l1.2 -1.1 l-1.0 -1.2 l-0.1 0.8 M46.0 75.6 l1.0 -0.3 l0.4 -0.3 l-0.2 0.3 M62.5 65.3 l-0.1 1.0 l0.7 -0.7 l-1.1 0.3 M87.0 71.4 l-0.6 0.1 l-0.5 -0.8 l0.6 0.6 M61.4 86.8 l1.0 0.7 l-0.9 -0.6 l-0.1 0.2 M60.0 83.8 l0.2 0.3 l0.5 1.2 l0.1 0.3 M41.9 65.0 l1.1 0.8 l-0.5 -0.1 l-0.7 0.2 M38.2 78.3 l0.3 0.6 l0.5 -0.9 l-0.4 0.3 M40.9 79.5 l0.4 -0.9 l0.1 -0.2 l0.0 0.5 M44.8 68.8 l-1.0 -0.4 l-0.2 -0.0 l-0.3 1.0 M38.8 80.8 l1.1 -1.1 l-0.5 -0.4 l0.1 -1.0 M90.1 81.6 l0.8 -0.3 l-1.1 0.9 l-0.2 -0.2 M76.2 85.2 l0.4 -0.9 l1.1 1.2 l1.1 1.1 M77.1 66.2 l0.1 -0.1 l-0.6 1.0 l0.2 -0.9 M58.0 96.6 l0.6 -0.9 l-0.6 1.1 l-0.8 0.6 M43.2 63.9 l0.2 -1.1 l0.6 0.8 l0.8 -1.1 M74.4 86.4 l-0.3 -1.2 l0.8 0.3 l1.2 0.2 M71.6 74.4 l0.6 0.6 l-1.0 0.0 l-0.4 -1.1 M74.9 88.1 l-0.7 -1.2 l-0.5 1.0 l-0.5 -0.0 M68.7 72.5 l1.0 1.1 l0.7 0.8 l1.2 -0.9 M73.8 67.5 l-1.1 -0.1 l0.8 0.6 l-1.2 -1.0 M84.2 84.2 l0.9 0.5 l-0.5 -1.0 l-0.3 -0.7 M63.5 67.2 l-1.2 0.1 l0.1 0.5 l1.1 0.5 M83.3 95.6 l-0.5 0.1 l1.2 1.0 l0.2 0.3 M40.8 65.3 l1.0 0.3 l1.1 0.2 l0.1 -1.2 M54.7 72.6 l-0.3 -0.2 l0.6 0.5 l-0.8 1.1 M71.3 78.4 l-0.4 0.0 l0.2 1.0 l-0.7 -0.4 M66.9 79.1 l0.3 -0.6 l0.3 -0.1 l0.7 0.8 M66.2 70.0 l-0.7 -1.1 l0.3 -1.1 l-0.4 -0.3 M56.0 82.0 l0.1 -1.0 l-0.0 -0.6 l-0.5 1.1 M64.1 72.7 l-0.4 -1.1 l0.6 0.4 l1.0 0.8 M63.3 81.8 l-1.2 0.8 l-0.3 0.8 l-1.0 -0.2 M69.7 68.3 l1.2 0.1 l0.6 0.3 l-0.1 -0.8 M76.1 79.1 l0.2 0.7 l-0.3 -0.4 l-0.6 -0.5 M46.5 64.0 l0.6 0.4 l1.1 -0.9 l-1.0 0.1 M41.4 67.3 l-0.3 0.2 l0.4 -0.6 l0.3 -0.6 M82.6 70.2 l0.7 -0.4 l-0.6 0.3 l-0.9 -0.8 M65.1 68.9 l-1.0 0.7 l0.0 0.7 l0.3 0.2 M46.7 67.9 l0.6 0.3 l-0.2 -1.0 l-1.1 -0.1 M67.8 82.7 l-0.3 1.0 l-0.0 0.2 l-0.9 -0.3 M54.8 69.6 l0.3 -1.2 l-0.7 0.3 l-0.3 0.4 M55.1 68.2 l0.6 1.1 l0.6 -0.5 l-1.0 -0.8 M68.8 79.3 l0.0 -0.7 l0.7 -1.1 l-1.2 -0.4 M90.6 70.4 l-1.0 -0.2 l-0.7 -0.6 l1.2 0.5 M96.1 85.8 l0.6 -0.2 l1.2 -0.6 l0.6 -1.1 M91.8 91.8 l0.2 1.1 l0.7 -0.9 l-0.2 -0.3 M61.5 80.8 l-1.0 1.0 l-1.1 -0.7 l-0.4 -1.1 M79.2 80.1 l0.3 -1.0 l-0.3 0.2 l-0.4 0.9 M39.9 85.0 l1.0 -1.2 l-0.7 -1.0 l-0.3 1.0 M81.6 85.0 l-1.2 0.1 l1.1 0.1 l0.5 0.8 M43.8 82.6 l1.0 0.9 l-0.4 -0.0 l1.0 -0.0 M94.6 78.7 l0.4 -0.7 l0.3 -0.9 l0.9 -1.1 M58.0 89.7 l0.3 -0.9 l1.0 -0.7 l0.8 1.1 M37.7 83.6 l1.2 0.7 l0.9 0.0 l-0.9 -0.3 M41.2 77.5 l0.1 -0.8 l-0.8 0.4 l0.0 -0.2 M76.2 87.3 l0.0 -1.0 l0.6 -0.8 l-0.3 0.2 M63.7 93.7 l0.2 -0.2 l1.0 0.8 l-0.8 1.0 M94.7 76.7 l0.3 -1.0 l-1.0 -0.1 l0.5 -0.7 M93.3 79.1 l-1.0 0.5 l-1.1 0.1 l-0.4 1.1 M64.7 87.5 l0.2 -0.1 l-0.5 -0.3 l0.0 0.9 M64.9 89.6 l0.0 0.7 l1.2 -0.6 l-0.5 0.0 M50.3 83.9 l0.1 0.4 l-0.0 0.6 l0.4 -0.1 M53.5 94.4 l-0.5 -0.6 l0.7 0.4 l-0.9 0.5 M82.6 80.0 l-1.0 0.7 l0.4 0.4 l-0.9 1.2 M89.3 70.5 l-0.2 1.1 l0.2 0.1 l-0.3 -0.1 M52.9 79.2 l0.4 0.7 l-0.3 0.2 l-0.5 0.9 M72.1 90.6 l0.7 0.0 l0.9 0.8 l-0.2 -0.6 M87.5 91.9 l-0.7 -0.6 l0.6 -0.5 l1.0 0.0 M89.9 75.7 l0.5 1.0 l0.7 1.2 l-1.2 1.1 M38.8 76.2 l0.9 -1.2 l0.7 1.0 l0.8 0.6 M90.4 90.8 l-1.0 -0.6 l-0.0 0.6 l-1.1 1.0 M62.5 76.9 l0.5 1.0 l0.0 -1.1 l-1.2 -1.0 M66.3 97.3 l0.0 -0.6 l0.7 0.9 l-0.8 0.3 M44.4 72.7 l0.2 -0.4 l-0.4 -0.4 l-0.0 0.1 M97.2 79.2 l-0.2 -0.1 l0.5 -1.2 l-1.2 -0.5 M91.8 92.0 l-0.3 0.3 l1.2 1.0 l0.6 -0.3 M67.2 64.2 l0.6 -1.0 l-1.0 1.1 l-1.0 0.5 M76.2 63.1 l-1.2 1.0 l-0.5 -0.3 l0.7 0.1 M74.6 71.0 l-0.7 0.5 l0.4 1.2 l-0.0 -0.3 M86.3 80.2 l-0.9 0.9 l-0.8 0.5 l0.5 -1.0 M71.2 76.5 l0.9 -0.5 l-1.2 0.9 l1.1 -0.3 M69.7 70.7 l0.3 0.2 l-0.2 0.4 l-0.9 -0.5 M48.3 74.6 l-0.3 0.7 l-0.0 0.2 l0.8 0.4 M47.1 86.4 l0.4 -1.2 l-0.7 0.4 l-0.4 0.0 M37.2 69.7 l0.0 0.5 l0.8 0.8 l0.5 -0.6 M39.8 76.7 l-1.0 1.0 l-0.4 -0.8 l0.5 -0.9 M39.2 82.0 l0.4 1.2 l0.1 -0.1 l-0.5 1.2 M87.0 87.7 l-0.5 1.2 l0.1 0.4 l0.9 0.3 M63.5 97.8 l0.6 0.0 l0.3 1.0 l0.8 0.5 M48.3 62.9 l0.8 -0.6 l-0.8 0.6 l-0.4 0.7 M78.1 80.6 l-0.9 -0.1 l0.3 0.7 l1.0 0.8 M42.1 77.7 l-0.8 0.6 l-0.2 0.7 l-1.0 0.8 M66.2 73.2 l-0.1 -0.7 l-1.1 -0.2 l-1.0 -0.7 M84.2 80.9 l-0.1 0.3 l-0.6 1.1 l0.4 0.8 M59.1 84.2 l-0.6 0.7 l-0.5 0.0 l-0.9 -0.2 M91.4 63.6 l0.5 0.5 l0.5 0.3 l-0.9 0.1 M48.2 72.3 l0.8 -0.7 l0.9 0.5 l-0.2 0.5 M57.2 84.8 l-1.0 0.9 l0.9 0.7 l0.6 -0.8 M87.0 74.8 l0.5 1.2 l0.4 0.3 l0.3 -1.1 M44.7 80.1 l-0.7 -0.7 l0.0 1.2 l1.2 -0.7 M88.7 77.9 l0.2 -0.0 l0.7 -0.8 l-0.3 0.3 M69.6 73.4 l0.9 -0.2 l-0.7 0.7 l-0.3 -0.3 M63.2 84.6 l1.0 0.4 l-0.2 -0.8 l-1.1 0.2 M89.8 82.8 l-0.9 -0.6 l0.4 0.3 l1.0 -0.1 M39.8 65.3 l-0.4 -0.0 l-1.2 0.3 l1.0 -0.9 M64.1 76.7 l-0.8 -0.4 l1.1 -0.8 l-0.7 0.4 M71.5 69.6 l0.7 -0.5 l-0.4 0.2 l-0.1 -0.1 M54.8 88.2 l1.0 1.2 l1.1 1.2 l0.8 -1.0 M37.3 80.1 l0.4 -0.9 l-1.1 -1.0 l1.2 -1.1 M52.7 89.1 l0.6 0.8 l0.1 0.7 l-0.1 -1.1 M86.9 65.2 l-0.4 1.0 l-0.9 0.0 l1.2 0.1 M42.7 65.1 l-0.9 0.5 l-0.8 0.8 l0.3 -1.2 M83.8 85.9 l0.5 -1.1 l-1.0 0.8 l-0.4 0.5 M66.4 71.6 l0.7 -0.8 l-0.1 -1.0 l-0.8 -0.4 M60.3 92.7 l0.9 -1.1 l0.1 0.4 l-0.3 1.2 M73.2 85.2 l1.1 0.6 l-0.1 -0.1 l0.6 -1.1 M58.2 80.5 l0.2 1.2 l-0.3 -0.5 l0.7 -0.6 M90.8 81.2 l0.9 -1.1 l0.3 0.3 l0.6 -0.9 M55.4 95.7 l0.3 -0.5 l0.3 0.7 l-0.5 -0.7 M46.6 64.4 l0.5 0.6 l-0.7 0.5 l-1.1 -0.9 M70.4 77.5 l1.2 0.9 l0.0 0.8 l0.1 -0.8 M51.4 68.1 l0.2 0.9 l-0.7 1.1 l-0.3 -1.1 M59.7 63.0 l-0.7 -0.8 l0.0 -0.1 l0.3 1.0 M54.9 66.6 l-1.2 0.8 l-1.0 -0.5 l-0.2 1.0 M44.3 81.6 l0.9 -0.6 l0.1 -0.4 l-0.1 1.1 M92.3 72.9 l1.2 0.5 l0.2 0.7 l-0.9 1.2 M84.0 94.9 l-1.2 -0.6 l-0.9 -1.1 l0.1 -1.1 M51.2 70.9 l0.7 -1.1 l-0.0 1.2 l0.8 -0.9 M81.1 67.4 l-0.5 -0.9 l-0.1 -1.1 l-0.5 0.0 M89.4 84.6 l1.0 -0.4 l-0.8 0.5 l0.6 -0.2 M82.8 68.7 l-0.9 -0.2 l-1.2 1.2 l0.3 -0.4 M71.4 64.1 l-0.7 -1.1 l0.1 -0.7 l-1.2 -1.0 M96.4 68.9 l-0.5 -1.1 l1.1 -0.5 l-1.0 -0.2 M83.7 76.4 l0.2 -1.0 l0.4 -0.6 l0.8 1.0 M68.2 86.4 l-0.4 -0.3 l1.0 -1.2 l0.7 0.2 M52.9 73.2 l-0.2 -0.9 l1.1 0.5 l-1.2 1.2 M51.3 85.6 l-0.9 -0.9 l-0.4 -0.1 l0.7 1.1 M50.6 65.5 l0.6 -1.1 l1.0 1.2 l-1.1 -0.4 M45.2 83.2 l-0.2 -1.0 l0.5 -0.4 l0.0 -0.6 M83.9 88.8 l0.6 -0.3 l-0.4 1.1 l1.0 -0.7 M48.5 75.4 l-0.6 0.6 l-0.6 -0.5 l-0.1 -1.2 M68.3 63.5 l0.9 -1.1 l1.2 -1.0 l0.5 -0.4 M66.5 81.8 l-0.8 -0.8 l-0.9 1.2 l-1.2 -1.2 M78.8 78.6 l-0.9 -0.1 l0.0 0.7 l-0.5 1.1 M81.2 85.8 l0.7 -0.4 l1.1 -0.4 l1.1 0.2 M94.2 74.0 l1.0 0.4 l-0.3 1.1 l-0.2 -1.0 M93.1 76.4 l0.2 -0.3 l0.5 1.0 l-0.3 -0.7 M39.5 66.3 l1.1 -0.8 l1.0 1.1 l-0.1 0.0 M93.6 80.3 l-1.0 1.1 l-0.4 1.2 l-1.2 -0.3 M61.3 70.9 l0.7 0.7 l-0.5 -0.6 l0.0 0.6 M45.3 82.6 l0.2 1.0 l1.1 -0.4 l-0.9 0.4 M65.8 87.3 l0.8 0.4 l0.9 0.4 l0.4 -0.6 M65.4 79.9 l-0.6 0.2 l0.4 -0.8 l0.6 0.9 M68.8 84.2 l-0.2 0.1 l-0.3 0.2 l1.2 -0.7 M78.2 78.5 l1.2 1.0 l0.7 -1.1 l0.7 0.8 M84.8 64.3 l0.8 0.1 l-1.0 1.1 l-0.8 0.8 M52.8 73.8 l-1.0 -1.1 l-0.5 0.4 l0.3 -0.8 M97.1 66.7 l-0.1 -0.7 l-0.8 1.2 l0.9 -0.2 M50.7 76.9 l0.9 -0.6 l1.1 -0.6 l0.1 -0.8 M92.0 77.5 l0.2 -0.4 l-0.8 -0.2 l1.2 1.2 M40.6 64.7 l0.1 1.2 l1.1 -0.0 l-1.1 -1.1 M96.1 80.1 l0.1 -1.1 l-0.8 0.7 l1.2 -1.2 M85.2 90.2 l-0.5 -0.1 l1.0 -0.8 l1.1 -0.3 M57.5 75.5 l-0.8 0.2 l0.4 0.1 l-0.7 -0.1 M87.4 70.0 l0.8 -0.8 l-0.9 -0.7 l-0.4 -0.5 M84.1 69.0 l-0.9 0.3 l0.6 0.2 l-1.2 0.2 M90.6 80.1 l-1.1 0.6 l-0.4 -0.2 l1.0 -0.7 M72.0 64.4 l0.1 1.0 l0.2 0.8 l-1.2 -0.3 M57.6 70.8 l-1.0 -0.9 l-0.6 0.7 l-1.1 1.1 M91.4 76.2 l-0.8 -0.2 l-1.0 1.2 l-0.7 0.9 M44.9 76.1 l0.7 0.3 l1.2 -0.3 l0.9 -0.8 M68.3 71.5 l-0.1 -0.5 l0.6 -1.2 l0.0 -1.0 M37.7 70.5 l1.2 0.9 l1.0 -1.0 l-1.0 0.2 M44.0 87.0 l-0.8 0.8 l-0.1 0.3 l-0.7 -0.1 M64.2 82.0 l0.3 -0.5 l1.1 -1.0 l0.3 0.1 M76.1 74.7 l0.0 1.0 l0.3 0.5 l-0.0 -0.4 M69.1 83.3 l0.8 0.1 l-0.5 0.8 l-0.2 -0.5 M68.1 78.8 l-0.3 0.2 l-0.6 -0.4 l-0.8 0.6 M45.0 65.5 l1.1 -0.4 l-0.5 0.6 l0.9 -1.0 M82.9 64.7 l1.2 0.4 l1.1 1.1 l-0.9 -0.2 M75.8 77.2 l0.1 -0.5 l1.2 -1.0 l0.9 -0.5 M79.3 66.3 l0.8 -1.0 l0.7 -1.1 l0.9 -1.2 M90.6 71.1 l0.1 0.7 l0.0 1.0 l1.2 -1.0 M76.7 67.2 l-1.0 -0.7 l-0.4 -0.2 l1.2 -1.0 M45.8 74.7 l-0.9 -0.8 l-0.1 -0.7 l0.9 1.2 M56.2 74.5 l-0.5 0.9 l0.6 0.3 l1.2 -0.4 M49.7 86.7 l1.1 -0.2 l-0.9 1.1 l1.0 -0.5 M48.5 82.4 l-0.8 0.9 l1.0 -0.4 l-0.4 -0.9 M46.7 77.1 l-0.3 0.7 l0.7 -0.8 l-0.8 1.0 M49.8 84.7 l0.1 0.1 l-0.5 0.8 l0.7 -0.5 M45.7 81.9 l-0.0 0.1 l-0.5 0.1 l0.6 -0.0 M88.9 66.6 l0.8 -0.4 l0.5 0.9 l-0.9 -0.7 M92.4 66.7 l-0.1 -0.9 l0.5 0.3 l1.0 0.5 M66.2 64.7 l1.1 -1.1 l-0.2 0.3 l0.7 0.6 M40.5 75.4 l1.1 0.7 l-1.1 -1.1 l1.0 -0.2 M57.8 90.1 l-0.5 0.4 l-0.1 0.5 l0.2 1.1 M62.3 63.1 l-0.1 -1.2 l0.6 0.3 l0.4 -0.9 M95.9 68.8 l-0.1 0.3 l0.6 -0.7 l-0.3 -0.2 M52.3 85.2 l-0.4 0.3 l-0.5 -0.4 l1.0 1.2 M75.9 82.8 l-1.1 -1.2 l-1.0 -1.1 l-0.1 0.4 M96.6 69.3 l-1.1 -0.1 l-1.0 0.3 l-0.7 -0.9 M57.8 84.0 l0.2 -1.1 l-0.5 -0.3 l-0.7 0.9 M91.5 67.1 l1.1 -0.5 l-1.0 0.1 l-0.4 0.5 M77.3 86.1 l-0.9 -0.2 l-1.2 -0.3 l0.5 -0.0 M85.2 87.4 l1.1 0.4 l0.5 -0.0 l0.3 0.4 M92.6 85.5 l0.8 -1.2 l1.1 0.5 l1.1 -0.7 M63.2 73.4 l0.7 0.3 l1.1 1.0 l-0.6 0.9 M74.7 64.2 l0.2 1.1 l-0.8 -0.1 l-1.0 0.9 M90.7 75.7 l-0.4 1.0 l-0.2 -1.1 l-0.5 0.6 M87.2 64.8 l0.9 0.0 l-0.9 -0.6 l-1.0 -1.1 M43.1 86.4 l-0.8 0.6 l-0.8 -0.0 l0.9 -1.2 M64.8 71.4 l-0.6 -0.3 l-0.1 -0.5 l-0.5 -0.0 M43.3 81.9 l0.9 1.1 l0.8 -0.9 l0.9 -0.6 M49.4 64.0 l1.1 1.1 l-0.3 -0.4 l0.5 -0.5 M91.7 74.1 l0.6 1.1 l-1.1 -0.6 l-0.8 0.2 M93.5 76.4 l0.8 0.2 l-0.0 -1.0 l0.3 -1.2 M78.3 75.0 l0.1 -1.1 l0.8 0.7 l-0.8 -0.3 M95.1 73.9 l0.7 -0.2 l0.1 1.1 l0.1 1.2 M39.2 82.3 l-1.0 -0.7 l-0.9 0.2 l1.2 1.0 M48.1 74.4 l-0.7 -0.6 l-1.2 -0.3 l0.7 -0.5 M40.9 69.9 l0.4 0.5 l0.6 -0.2 l0.7 0.4 M89.6 63.5 l-0.5 -0.3 l-0.8 -0.4 l-0.3 0.9 M71.9 84.9 l1.1 -0.1 l-0.1 1.1 l0.9 -1.1 M82.6 81.2 l1.1 -0.7 l0.1 0.9 l-0.2 -0.8 M53.6 76.0 l0.3 0.3 l0.1 -0.5 l0.2 0.9 M37.7 79.4 l-0.2 -0.1 l0.3 -1.0 l0.1 0.9 M61.2 66.1 l-0.9 -0.6 l0.7 -0.8 l0.3 0.9 M50.7 76.6 l-0.3 -0.9 l-0.5 0.0 l0.3 -0.2 M96.4 70.3 l-0.3 1.2 l0.9 0.8 l-1.1 -0.7 M56.1 85.4 l-0.2 0.3 l-1.1 0.3 l-0.7 1.0 M93.3 69.8 l0.5 -0.5 l0.9 0.1 l0.6 -0.2 M53.3 63.2 l-0.3 -0.4 l0.9 0.3 l0.6 -0.1 M66.8 65.9 l0.8 0.5 l0.2 1.2 l-1.1 -1.1 M54.1 85.6 l-0.7 0.8 l0.5 1.1 l-0.5 -0.5 M90.7 67.8 l-0.7 0.4 l0.3 -0.0 l-0.4 0.6 M75.7 63.0 l0.8 0.4 l-0.2 0.9 l0.4 -0.6 M44.4 63.7 l-0.1 -0.9 l-0.4 -0.4 l1.0 0.1 M76.9 89.9 l1.1 -0.6 l-0.1 0.9 l0.4 0.2 M92.5 63.9 l-0.7 0.7 l0.3 0.5 l-0.3 -0.5 M88.7 74.8 l-0.0 0.8 l-0.3 0.0 l0.9 -0.6 M59.8 63.4 l-0.2 -0.5 l-0.6 -0.7 l-1.2 -1.1 M84.9 88.6 l-0.8 -0.3 l-0.4 0.7 l-0.3 0.8 M91.9 64.5 l0.7 -1.1 l1.1 0.1 l1.0 1.0 M48.9 65.5 l-0.4 1.2 l-0.7 -0.6 l0.2 0.1 M38.5 68.5 l0.7 -0.8 l-0.4 0.8 l0.8 0.8 M78.5 71.7 l-0.5 -0.3 l0.7 -0.3 l-0.3 0.4 M87.2 72.1 l1.0 1.0 l-1.1 1.2 l0.1 -0.3 M60.1 67.8 l0.7 -0.5 l-1.0 0.7 l-0.4 0.6 M37.7 85.1 l0.5 0.8 l0.9 -0.5 l0.1 1.1 M59.7 76.0 l1.2 1.2 l0.6 1.1 l-1.2 0.0 M53.0 84.2 l0.3 1.1 l0.4 1.2 l1.0 -0.2 M41.4 86.3 l-0.2 0.6 l-0.8 -0.9 l0.0 0.6 M56.7 81.6 l-0.6 -0.2 l-0.2 -0.4 l-0.9 -0.3 M51.8 71.3 l-0.8 0.9 l-1.0 0.7 l0.5 -1.0 M49.5 84.7 l-0.9 -1.1 l-0.9 0.3 l0.4 0.1 M73.3 68.9 l-1.1 -0.6 l-0.5 -0.2 l0.1 0.3 M73.7 73.5 l-1.0 -0.5 l0.6 -0.0 l1.0 1.0 M59.9 79.7 l-0.3 0.5 l-0.3 0.6 l0.8 -0.4 M70.4 66.6 l-0.2 0.9 l0.4 1.0 l0.4 1.2 M67.0 117.6 l-0.3 2.2 M69.2 108.2 l0.1 1.4 M67.5 96.9 l0.3 1.8 M67.7 107.4 l0.1 1.4 M72.4 109.9 l0.5 1.9 M71.0 92.8 l-0.3 2.5 M72.3 108.1 l-0.1 2.2 M70.8 89.5 l0.2 2.3 M72.1 104.6 l0.4 1.7 M68.1 106.0 l0.1 1.7 M68.5 117.8 l0.3 2.3 M72.2 95.1 l-0.2 1.8 M72.4 104.8 l0.3 1.8 M71.4 103.4 l0.5 1.4 M69.3 111.8 l0.0 2.0 M71.5 116.2 l0.4 2.4 M67.9 101.8 l0.4 1.3 M69.7 93.1 l-0.0 1.2 M70.5 106.1 l0.0 1.2 M69.8 106.1 l-0.5 2.4 M66.0 102.1 l0.2 1.5 M70.6 100.8 l0.3 1.4 M71.0 95.2 l-0.3 1.6 M65.8 111.5 l0.1 1.2 M70.2 98.3 l0.1 1.8 M66.6 94.9 l0.1 2.2 M72.0 91.1 l-0.1 2.4 M65.7 108.6 l-0.3 1.8 M71.8 98.5 l0.4 2.4 M67.8 98.0 l0.2 2.0 M66.3 116.7 l-0.4 2.1 M69.3 93.4 l0.4 1.5 M67.4 110.4 l0.2 1.8 M66.1 98.6 l-0.1 2.1 M68.6 106.9 l0.2 2.6 M69.4 89.9 l0.0 1.3 M70.9 102.2 l0.1 1.5 M70.4 117.4 l0.4 2.4 M67.5 88.6 l-0.5 2.1 M72.4 103.4 l0.4 1.9 M66.2 108.1 l0.3 1.4 M68.9 88.7 l-0.3 2.2 M68.2 92.5 l-0.8 0.8 l-0.4 -0.4 M66.9 92.0 l0.4 -0.1 l-0.7 0.2 M65.7 90.4 l0.5 0.1 l0.3 0.8 M64.9 90.2 l0.3 -0.0 l-0.7 -1.0 M64.0 89.3 l0.4 -0.4 l1.0 0.5 M62.3 89.2 l0.1 0.2 l0.9 -0.4 M61.2 88.7 l-0.5 0.1 l1.0 0.1 M60.1 88.5 l0.5 0.1 l-0.6 -0.5 M59.6 88.0 l-0.7 -0.3 l-0.8 -1.0 M58.5 86.8 l0.7 0.9 l-0.2 0.1 M56.7 86.3 l-0.2 -0.8 l0.9 -0.9 M56.3 86.0 l1.0 1.0 l1.0 1.0 M54.8 85.2 l-0.1 -0.4 l0.7 0.1 M54.3 85.0 l0.9 -0.3 l-0.8 -0.0 M53.2 84.2 l-0.2 0.8 l0.6 -0.5 M51.6 83.6 l0.6 0.0 l-0.9 -0.5 M68.5 90.1 l0.1 0.5 l-0.1 0.2 M69.8 89.0 l0.8 0.8 l-0.6 0.3 M71.3 88.4 l0.6 -0.2 l-0.7 0.1 M72.4 88.4 l0.9 -0.6 l0.6 -0.7 M73.5 88.4 l-0.5 0.5 l-0.6 -0.9 M73.4 87.6 l-0.9 0.1 l-0.1 -0.7 M75.1 86.5 l0.7 -0.6 l0.0 0.8 M76.4 85.9 l0.4 -0.6 l0.9 -0.7 M76.5 85.7 l-0.0 -0.1 l-0.2 -1.0 M78.3 85.4 l-0.4 0.7 l-0.4 -0.7 M78.5 84.1 l0.4 -0.9 l-0.8 0.5 M80.2 83.6 l-0.3 0.9 l0.8 -0.1 M81.2 84.1 l-0.1 0.0 l0.5 -0.3 M82.6 83.1 l0.0 0.2 l-0.4 1.0 M82.6 82.9 l-0.7 -0.0 l0.8 0.4 M84.1 81.7 l-0.2 -0.6 l-0.1 0.3 M67.4 94.7 l0.9 0.8 l-0.5 0.4 M66.9 95.2 l-0.1 -0.9 l0.3 -0.1 M65.0 95.0 l-0.4 -0.1 l0.8 0.4 M64.0 94.3 l-0.1 -0.1 l0.8 -0.1 M61.8 94.9 l-0.5 -0.7 l-0.6 -0.3 M60.6 94.1 l0.5 0.4 l-0.7 0.6 M59.7 93.7 l0.6 0.1 l-0.3 0.8 M58.3 93.6 l0.7 -1.0 l-0.1 -0.7 M55.7 94.1 l-0.8 -0.7 l-0.1 -0.2 M55.1 93.3 l0.3 0.8 l0.7 0.1 M53.0 94.2 l0.6 -0.1 l-0.2 -0.7 M52.2 93.9 l-0.9 -0.9 l-0.3 -0.4 M50.8 93.0 l0.5 0.6 l-0.3 0.3 M48.5 93.6 l0.7 0.5 l-0.8 0.5 M47.6 93.6 l0.5 0.8 l-0.9 -0.3 M45.8 93.0 l-0.3 -0.5 l0.1 0.8 M70.1 94.5 l-0.3 -0.8 l0.1 0.4 M71.7 93.6 l0.0 0.8 l-0.5 -0.7 M72.3 93.5 l0.6 0.7 l-0.6 -0.3 M73.7 93.3 l0.8 -0.8 l0.3 0.5 M74.9 93.1 l0.6 -0.8 l0.2 -0.8 M77.0 92.4 l-0.6 -0.9 l-0.9 0.8 M78.3 91.9 l-0.0 -0.3 l-0.3 0.3 M79.2 92.1 l0.8 0.7 l-0.2 0.6 M80.4 92.3 l0.5 -0.2 l0.9 0.3 M81.6 91.8 l-1.0 0.5 l0.4 0.3 M83.2 91.2 l0.7 0.6 l0.2 -1.0 M84.9 91.6 l-0.2 -0.1 l-0.8 -0.6 M86.4 90.9 l0.2 0.7 l0.8 0.8 M87.6 90.3 l0.7 0.4 l0.4 0.4 M88.1 89.8 l0.3 -0.8 l0.4 -0.6 M89.5 90.5 l-0.9 -0.5 l-0.2 0.4 M80.1 94.3 l0.1 1.6 M84.4 107.7 l-0.3 1.9 M79.8 117.2 l0.0 2.4 M84.2 117.4 l0.2 2.3 M79.0 101.8 l-0.3 2.4 M79.0 112.1 l0.2 1.8 M80.5 100.9 l-0.2 1.5 M79.6 95.5 l-0.2 1.4 M83.3 98.7 l0.2 1.9 M84.5 117.7 l-0.2 1.3 M79.9 114.7 l-0.3 1.1 M81.0 93.5 l0.0 1.5 M85.2 113.3 l0.2 1.2 M80.1 97.0 l0.1 1.1 M82.8 100.3 l-0.2 1.3 M78.6 104.2 l0.1 1.4 M86.4 117.3 l-0.1 1.3 M80.9 106.2 l-0.3 1.8 M79.4 101.5 l0.1 2.1 M83.1 102.3 l0.1 2.1 M83.2 107.5 l0.3 2.3 M80.6 97.9 l0.1 2.1 M83.7 103.6 l0.2 2.0 M82.4 94.5 l0.1 1.3 M83.0 96.2 l0.2 1.9 M77.9 107.5 l-0.1 2.2 M79.9 100.3 l-0.4 1.6 M80.9 92.7 l0.4 2.0 M81.8 111.3 l0.1 2.0 M78.4 114.5 l-0.3 2.2 M83.8 100.2 l-0.2 1.7 M79.3 101.3 l0.1 2.2 M86.5 114.3 l0.3 2.4 M82.2 95.1 l-0.3 1.2 M82.1 114.0 l0.1 1.4 M79.1 98.8 l0.0 1.8 M82.6 114.2 l0.2 1.8 M77.2 115.9 l0.1 2.2 M76.9 116.2 l-0.1 1.3 M81.2 97.0 l0.0 2.1 M81.7 109.0 l0.1 1.3 M82.5 105.1 l0.3 1.6 M84.6 115.0 l0.3 2.4 M83.2 115.9 l0.1 2.0 M85.4 114.8 l0.2 1.8 M82.7 117.2 l0.1 1.8 M81.2 111.8 l-0.1 1.4 M79.5 101.2 l0.1 1.3 M79.3 105.4 l-0.3 1.5 M79.7 100.3 l-0.1 1.2 M81.3 102.6 l-0.2 1.2 M80.8 92.5 l-0.3 1.6 M79.9 113.9 l0.3 1.5 M79.4 106.7 l0.2 2.3 M80.9 104.0 l0.2 1.7 M42.3 100.6 l-0.4 -0.2 l-0.9 -0.2 M50.7 89.5 l1.0 0.6 l0.4 0.8 M54.8 84.9 l-0.7 -0.5 l0.7 -0.5 M58.8 87.4 l0.2 1.1 l0.3 0.7 M43.8 101.6 l0.2 0.4 l0.1 0.4 M51.9 88.2 l0.9 0.1 l0.4 -0.2 M57.2 85.1 l0.8 -0.6 l-1.0 0.2 M41.0 100.8 l0.2 -0.7 l-0.9 -0.0 M51.6 87.1 l0.9 -0.2 l-0.8 -1.0 M37.2 100.7 l0.3 0.5 l-0.4 0.3 M41.0 100.4 l0.8 0.8 l0.8 1.0 M46.1 95.5 l0.2 1.0 l-0.6 -0.5 M46.0 97.3 l0.5 0.4 l0.2 -0.1 M45.7 98.2 l-0.6 0.4 l0.7 0.2 M50.7 87.1 l0.0 -0.9 l-0.4 -0.5 M50.8 91.0 l0.2 1.0 l0.9 -0.6 M40.3 101.8 l0.6 0.3 l0.8 -0.8 M49.1 92.3 l-0.9 -0.8 l0.7 0.6 M39.3 101.5 l-0.1 0.2 l-0.6 0.8 M42.8 100.0 l0.8 -0.7 l-0.5 -0.4 M52.6 86.4 l0.5 -0.5 l0.8 -0.1 M53.8 84.5 l0.1 -0.5 l-0.1 0.3 M45.6 97.0 l-0.5 -0.3 l-0.0 -0.7 M58.5 87.4 l-0.0 -0.5 l-1.0 0.5 M55.4 85.9 l-0.9 0.8 l0.0 -0.1 M47.0 96.4 l0.0 -0.3 l0.9 -0.1 M45.9 96.9 l0.2 0.6 l0.4 0.6 M39.5 101.8 l-0.6 -0.7 l0.7 0.4 M50.0 91.1 l0.5 0.2 l-0.7 -0.6 M50.4 89.8 l1.0 1.0 l-0.8 -0.5 M54.6 85.3 l0.8 -0.7 l0.3 0.7 M48.5 93.7 l-0.4 -1.1 l-1.0 -0.5 M51.0 89.0 l0.9 0.4 l-0.2 -0.9 M57.9 86.3 l-0.5 1.0 l-0.4 0.7 M50.4 92.2 l-0.6 -0.4 l0.8 0.7 M46.7 96.1 l0.7 -0.5 l0.1 -1.1 M42.5 100.7 l-0.1 1.0 l0.2 -0.7 M44.1 99.3 l-0.3 -1.0 l1.0 -0.6 M50.2 91.4 l1.0 -0.4 l-0.7 0.0 M38.8 101.8 l0.3 0.1 l-0.9 -0.1 M40.7 101.3 l0.3 -0.5 l-0.8 -0.2 M44.6 98.7 l0.2 0.1 l0.2 0.8 M50.8 89.6 l0.9 -0.1 l-0.4 0.0 M44.5 99.6 l0.1 0.5 l-1.0 -0.7 M47.9 94.5 l0.2 0.9 l0.2 0.3 M53.2 113.7 l-0.8 0.5 l0.6 0.1 M52.4 115.7 l1.0 1.0 l0.4 1.0 M51.7 115.6 l0.3 -0.3 l-0.5 -0.2 M52.7 111.0 l0.9 0.3 l-0.0 -0.9 M51.4 111.8 l-0.3 -0.3 l-0.6 0.8 M50.9 112.9 l-0.7 -0.4 l0.0 0.5 M55.1 110.5 l0.1 -0.9 l-0.2 -0.7 M55.4 110.9 l1.0 0.2 l0.5 0.0 M57.8 113.8 l-0.5 0.7 l-0.9 0.6 M54.5 115.3 l-0.6 0.7 l-0.5 -0.6 M54.2 117.2 l0.2 -0.2 l-1.0 0.1 M54.3 109.9 l-0.1 -0.3 l-0.6 0.4 M51.6 112.5 l-0.2 0.3 l-0.8 -0.1 M53.9 112.4 l-0.1 0.1 l-0.1 1.0 M56.2 111.0 l0.4 -0.4 l0.6 -0.4 M51.0 117.3 l-0.8 1.0 l0.0 0.5 M56.4 114.3 l0.9 -0.6 l0.1 -0.4 M54.0 113.1 l0.3 0.4 l0.6 0.8 M50.8 109.9 l-0.2 -0.6 l0.3 -0.0 M56.1 117.0 l-1.0 0.3 l0.4 -1.0 M57.1 115.2 l-0.5 -0.1 l0.5 -0.5 M55.0 116.9 l0.0 -0.9 l-0.9 -0.6 M54.5 114.1 l0.7 -0.5 l-0.9 0.5 M51.7 112.8 l-0.1 -0.8 l0.2 0.4 M52.6 115.0 l-0.2 -0.4 M59.5 118.1 l-0.2 -1.6 M76.1 115.2 l0.1 -0.8 M88.7 115.7 l-0.2 -0.8 M70.2 117.6 l0.3 -0.8 M59.8 115.0 l0.7 -0.5 M74.2 115.7 l-0.4 -1.3 M47.2 116.8 l-0.3 -1.4 M46.3 116.5 l-0.7 -0.9 M46.4 114.8 l-0.7 -1.8 M41.5 114.9 l-0.6 -1.5 M44.3 116.0 l-0.6 -0.4 M91.5 116.9 l0.8 -0.9 M85.4 115.5 l-0.5 -1.1 M47.3 118.5 l-0.1 -1.7 M46.2 116.2 l-0.5 -0.6 M46.7 116.1 l0.7 -1.0 M97.7 115.1 l-0.1 -1.7 M70.4 117.7 l-0.4 -1.5 M40.9 115.4 l0.7 -1.3 M51.5 116.1 l-0.6 -1.8 M72.9 114.9 l0.1 -1.4 M86.5 118.1 l0.6 -0.8 M70.9 115.7 l0.5 -1.1 M97.4 116.5 l0.5 -0.9 M95.5 115.2 l-0.8 -0.6 M47.1 114.7 l-0.8 -0.6 M50.5 116.7 l-0.5 -1.4 M73.6 118.6 l0.7 -1.2 M73.7 116.9 l-0.0 -0.8 M59.2 117.3 l-0.7 -1.4 M82.0 114.9 l0.3 -1.5 M52.1 116.8 l0.3 -1.7 M74.1 118.1 l0.2 -1.2 M58.8 115.5 l0.2 -1.3 M93.5 117.7 l-0.6 -0.9 M89.5 118.2 l1.7 0.3 M72.0 118.3 l0.8 0.3 M91.0 118.0 l1.7 -0.0 M80.6 116.0 l1.2 0.0 M76.4 118.2 l0.6 -0.3 M84.4 116.9 l1.8 -0.3 M80.3 118.1 l1.3 0.2 M90.5 117.1 l1.2 0.1 M74.2 117.1 l1.6 -0.2 M88.5 117.6 l0.9 -0.2 M88.1 116.6 l0.7 -0.3 M74.1 118.2 l1.5 -0.2 M83.9 114.0 l1.1 -0.5 M72.2 118.0 l0.9 0.2 M83.5 115.7 l0.9 0.3 M82.3 117.8 l0.7 -0.2 M85.5 115.9 l1.6 -0.3 M85.6 117.7 l0.6 -0.2 M85.0 117.2 l0.7 -0.0 M73.9 118.0 l0.8 0.2 M89.3 117.5 l1.4 -0.3 M82.6 116.7 l1.7 -0.4 M86.1 114.0 l0.9 0.1 M89.1 114.9 l1.5 0.1 M85.1 114.9 l1.2 -0.2 M78.9 116.1 l1.2 -0.1 M73.1 117.5 l1.7 -0.1 M83.5 114.4 l1.7 0.0 M83.7 113.6 l0.9 -0.1 M78.6 117.8 l1.6 -0.1 M77.2 117.0 l0.9 -0.3 M83.6 115.0 l1.7 -0.1" fill="none" stroke="#6f6f6f" stroke-width="0.55" stroke-linecap="round"/>
<path d="M80.2 74.3 l0.2 -1.0 l-1.0 -0.5 l-1.1 -1.2 M41.4 75.0 l-0.9 0.5 l-1.2 -0.1 l-0.0 0.5 M38.9 73.1 l-0.3 1.0 l1.2 0.4 l0.5 0.2 M90.0 84.0 l0.3 -1.0 l0.3 1.2 l0.9 0.6 M49.1 67.5 l0.5 1.1 l-0.6 -0.8 l-0.1 -0.6 M87.5 72.1 l-0.8 -0.6 l-0.4 0.5 l0.1 0.3 M83.3 77.3 l-0.2 1.0 l-0.3 -0.1 l-0.8 1.0 M87.2 75.4 l0.6 0.8 l0.4 0.5 l-0.7 1.0 M96.5 82.2 l0.0 0.3 l-1.2 1.2 l0.0 -0.2 M86.1 83.6 l1.1 -0.1 l1.1 0.8 l-0.2 -0.6 M82.2 77.7 l-0.4 -1.0 l0.9 0.9 l1.0 1.1 M58.2 86.5 l-0.7 1.1 l0.4 -0.4 l0.4 0.2 M69.3 77.1 l0.7 1.2 l-1.2 0.3 l0.6 -0.6 M61.1 64.4 l-0.6 -0.6 l-0.4 0.1 l-0.2 0.1 M88.9 66.2 l-0.3 1.1 l-0.3 1.2 l0.9 0.1 M80.8 73.6 l0.3 -0.2 l0.5 -1.1 l-0.5 -0.3 M87.6 87.5 l0.8 0.8 l1.0 1.1 l0.4 0.1 M40.6 67.8 l0.4 -1.2 l-0.3 0.5 l-0.7 0.2 M57.4 86.9 l0.1 -0.7 l-0.4 -0.5 l-1.0 0.5 M64.9 67.2 l0.2 -0.6 l1.0 1.2 l0.8 0.3 M51.1 84.0 l-0.1 -0.2 l0.7 1.1 l1.2 -0.9 M83.3 94.3 l-0.9 -0.2 l-1.2 0.1 l-1.0 -0.2 M57.0 67.4 l0.4 -1.2 l0.4 -0.9 l1.1 0.3 M59.5 74.6 l-0.6 0.9 l-0.6 0.9 l1.2 -0.1 M71.2 68.7 l1.0 -1.0 l0.7 -0.9 l0.1 1.1 M87.0 77.4 l-0.5 -0.1 l-0.5 -0.4 l-0.9 0.7 M55.7 94.7 l-0.8 0.9 l1.2 -0.7 l0.3 -0.8 M84.7 78.1 l0.5 -0.8 l-0.8 -0.7 l0.4 0.7 M59.3 87.3 l0.2 -0.7 l-0.5 1.1 l0.4 -0.6 M76.0 65.9 l0.1 -1.1 l0.2 -0.5 l-0.6 0.8 M93.3 84.4 l-0.8 0.1 l0.4 -0.4 l0.4 0.7 M41.7 83.4 l0.4 0.5 l1.2 0.3 l-0.5 -1.0 M47.3 80.8 l0.5 -0.3 l-0.6 -1.2 l-0.8 -0.6 M40.7 64.3 l-0.6 0.8 l0.9 -0.3 l1.0 -1.2 M44.5 81.5 l-0.9 -0.8 l-0.7 0.5 l-0.7 -1.2 M70.0 77.3 l0.3 0.2 l0.8 1.2 l-0.4 -0.4 M53.9 89.9 l-0.2 1.0 l0.8 0.9 l-0.8 -1.1 M83.6 63.3 l0.2 -0.4 l-0.1 1.1 l-0.0 0.7 M77.6 78.2 l0.0 -1.2 l0.3 -0.1 l0.2 0.2 M80.5 71.9 l0.9 -0.8 l-0.6 0.4 l-1.1 0.1 M85.2 80.9 l0.7 0.1 l1.0 0.7 l-0.9 -0.3 M92.0 63.4 l0.7 -1.0 l1.2 0.2 l-1.1 -0.7 M71.0 67.7 l-0.3 -0.5 l0.6 -0.6 l-0.3 -0.2 M65.8 75.9 l-0.5 0.1 l-0.8 -0.3 l-0.4 0.8 M55.7 81.2 l0.9 -0.7 l0.2 0.8 l1.1 0.4 M76.1 64.6 l0.1 1.1 l0.3 -1.2 l1.1 0.6 M82.1 78.2 l-0.8 -1.0 l0.5 -0.9 l0.6 0.4 M86.1 79.2 l1.1 -0.4 l0.8 0.5 l0.5 -0.3 M79.2 87.0 l1.1 -0.7 l-0.2 0.1 l0.8 -0.9 M92.9 79.6 l0.4 0.0 l-0.9 1.2 l-0.4 -0.9 M77.1 65.2 l-0.8 -0.3 l-0.4 -0.9 l1.1 0.4 M44.8 78.0 l-0.2 0.4 l-1.0 0.5 l0.3 1.1 M79.0 82.0 l-1.2 -1.1 l0.7 1.2 l0.8 -0.2 M81.3 87.9 l-0.5 -0.8 l-0.9 0.1 l0.1 0.2 M96.3 86.4 l-0.5 0.7 l1.2 -0.1 l0.3 0.9 M65.1 69.7 l-0.2 0.2 l0.1 -0.5 l-1.1 -0.2 M62.5 98.6 l-0.1 -0.8 l-1.2 -0.5 l-1.1 -0.6 M70.7 77.6 l0.3 -1.2 l-0.1 -1.0 l0.6 0.8 M66.1 86.5 l-0.5 -0.1 l-1.0 0.7 l-0.7 0.8 M86.9 73.9 l1.1 0.4 l-0.1 0.4 l0.4 -0.3 M50.3 87.0 l0.5 0.0 l-0.5 -0.6 l-0.8 0.4 M95.2 84.5 l-0.8 0.7 l-1.1 -0.9 l0.1 -0.6 M83.9 86.8 l-0.1 -0.2 l-1.0 -0.1 l1.1 1.0 M78.4 81.4 l0.6 -0.5 l0.6 1.1 l0.4 0.4 M45.8 63.4 l-0.6 0.2 l0.1 -0.0 l-0.8 0.3 M59.8 72.8 l0.1 -0.3 l-0.2 0.7 l0.3 0.8 M74.2 70.2 l0.6 -0.6 l-0.0 0.5 l-1.2 0.8 M58.8 71.1 l0.7 0.5 l1.1 -1.2 l-0.4 0.2 M83.6 80.9 l-0.2 1.0 l0.3 0.1 l-1.1 -0.9 M78.4 64.5 l-0.4 -0.4 l-0.6 -0.5 l-0.6 -1.2 M55.4 84.7 l-0.1 0.0 l-0.5 1.0 l0.6 0.3 M73.8 71.6 l1.2 -0.8 l-0.8 0.7 l-0.7 -0.8 M93.3 87.8 l-0.6 0.5 l-0.3 1.1 l0.4 -0.9 M41.4 64.2 l0.2 -0.7 l-0.8 -0.1 l-0.2 -1.1 M60.6 94.5 l0.1 -0.9 l-0.2 0.5 l0.2 0.4 M56.5 72.8 l-0.2 1.0 l0.8 -0.8 l-0.1 -0.1 M78.7 83.0 l-1.1 0.4 l-0.1 -1.0 l0.2 0.9 M66.2 67.5 l0.2 -0.9 l-0.4 -0.8 l1.2 -0.5 M65.4 73.8 l-0.2 -0.9 l-0.1 -0.8 l-1.1 -0.2 M84.7 81.1 l0.7 0.3 l-1.2 -0.1 l0.2 -0.5 M47.0 87.1 l-0.8 0.3 l-0.5 -0.5 l-0.5 -0.5 M79.1 83.9 l0.8 0.6 l0.9 1.2 l0.7 -1.0 M61.2 84.9 l-0.5 -0.6 l-0.5 1.1 l0.1 -0.3 M64.5 64.2 l-0.6 -1.1 l-0.5 -0.5 l-1.0 -1.2 M89.6 64.5 l0.2 -0.9 l-1.2 0.2 l1.0 -0.6 M61.6 80.2 l1.1 1.0 l0.8 -0.7 l-0.6 -0.1 M55.4 76.7 l0.8 1.2 l0.7 -0.9 l0.2 0.3 M40.7 66.2 l0.8 -0.9 l0.9 0.7 l0.6 0.9 M67.0 79.3 l1.1 0.4 l-1.0 0.6 l0.5 -0.4 M54.5 71.2 l-0.9 0.2 l-0.2 0.1 l1.0 -0.5 M47.8 78.6 l-0.6 -0.9 l-0.4 0.9 l0.8 -0.7 M50.0 70.0 l0.0 -0.4 l0.9 0.1 l-1.1 0.3 M57.7 66.1 l-0.6 -1.1 l0.1 -0.2 l1.1 -0.7 M72.4 72.1 l0.7 0.2 l-0.6 -1.1 l-0.8 0.4 M92.0 80.0 l0.8 0.8 l1.2 0.3 l1.1 0.3 M43.3 67.6 l0.4 0.1 l0.1 -0.7 l-0.9 -0.2 M77.7 83.5 l-0.2 1.2 l-0.0 -0.8 l0.0 -0.4 M42.4 62.9 l-0.4 1.2 l-0.1 0.0 l-0.8 -1.0 M76.3 66.4 l-0.8 -0.6 l0.7 -0.1 l-0.9 0.4 M75.3 66.9 l-0.9 0.1 l-0.5 0.6 l0.7 -0.0 M46.7 83.1 l0.7 0.7 l-0.7 0.0 l0.8 0.3 M44.6 80.0 l0.7 0.8 l0.6 1.2 l-0.1 -0.1 M85.4 73.0 l1.1 -0.4 l0.4 0.1 l0.3 1.1 M56.9 76.1 l-0.5 0.7 l-0.6 -0.8 l1.1 -0.7 M40.7 78.4 l-0.9 0.4 l-0.7 0.3 l-0.2 1.1 M75.6 91.8 l0.3 0.3 l-0.3 -0.7 l-0.2 0.5 M83.0 75.2 l-0.3 0.7 l-0.5 1.2 l-1.1 0.8 M90.9 84.2 l0.4 -0.4 l0.4 -0.7 l-0.0 -0.2 M80.4 77.1 l-0.8 0.0 l-0.1 -0.8 l-0.6 -0.8 M66.1 93.7 l0.6 -0.3 l-0.7 -0.2 l-0.9 -0.1 M48.8 63.0 l0.4 0.3 l0.1 1.2 l-0.0 -0.2 M65.6 86.8 l1.1 1.2 l-1.0 0.3 l0.3 0.6 M82.3 75.7 l-0.5 -1.2 l-0.1 0.7 l-1.1 0.1 M65.3 66.7 l0.1 -0.1 l0.8 -0.8 l0.3 -0.6 M46.2 70.8 l-1.1 -1.1 l-0.9 -1.2 l-0.0 0.0 M52.2 83.9 l-0.3 -0.1 l-0.7 0.9 l-1.2 -0.6 M41.1 87.3 l-1.2 0.9 l0.7 0.6 l-0.4 -0.0 M73.4 65.5 l-1.1 -0.8 l1.1 0.2 l0.2 -1.2 M59.7 69.2 l-1.2 -0.4 l-0.2 -1.2 l-0.4 -0.9 M78.6 74.3 l0.1 1.0 l0.8 -0.3 l0.9 -0.8 M57.8 74.5 l0.6 -0.2 l0.7 -0.9 l1.2 0.7 M55.7 74.9 l-0.6 -1.1 l1.0 0.4 l-0.6 0.6 M83.9 64.0 l-0.1 -1.1 l0.6 -1.1 l0.1 -1.2 M73.3 87.0 l-0.2 0.2 l1.1 0.2 l-1.2 -0.1 M93.2 79.1 l-0.4 1.0 l-1.2 1.0 l-1.2 0.6 M95.4 74.6 l0.1 -0.1 l0.8 -0.4 l-0.1 -1.1 M37.8 68.5 l-0.3 0.9 l0.9 -0.7 l0.6 -0.4 M83.9 87.2 l-1.0 0.3 l0.4 -0.6 l-0.1 -0.5 M66.9 77.9 l-0.7 0.1 l0.8 -0.9 l0.6 0.1 M93.6 71.0 l0.9 0.8 l0.3 0.0 l-0.5 -0.8 M38.4 82.5 l-0.7 0.6 l1.1 1.0 l-1.1 1.0 M93.7 67.9 l-0.3 0.8 l1.0 -0.8 l0.4 0.2 M69.7 86.8 l-0.6 0.2 l0.2 0.9 l-0.0 0.9 M87.5 90.1 l0.6 -0.9 l0.8 -0.2 l1.1 1.1 M60.7 62.9 l-1.2 1.1 l-0.6 0.4 l0.7 0.1 M90.1 77.8 l0.7 -0.0 l-0.9 0.1 l0.6 -0.8 M82.1 63.3 l-0.8 -0.7 l-0.3 -0.4 l-0.7 0.6 M67.8 88.8 l-0.1 1.1 l-0.1 1.1 l-0.5 0.0 M41.1 75.0 l-0.3 -0.3 l-0.2 -1.1 l-0.9 1.1 M46.3 64.3 l0.7 1.0 l-1.2 -0.8 l-0.9 0.5 M77.3 83.7 l0.7 1.2 l0.9 0.9 l1.2 -0.7 M82.0 67.9 l-0.5 0.7 l-0.7 0.8 l0.7 0.3 M54.3 72.8 l-0.0 1.0 l0.1 0.4 l-0.2 0.5 M52.6 75.8 l0.6 -1.1 l-1.0 -0.3 l-1.0 0.3 M44.1 69.5 l1.1 -0.8 l0.8 0.5 l0.1 -0.1 M77.3 62.9 l0.5 -0.4 l-0.8 0.0 l0.9 0.1 M70.7 74.5 l-0.9 -1.1 l-1.2 0.1 l-0.7 -1.2 M84.8 72.9 l0.5 0.7 l0.1 -0.4 l-1.2 -0.4 M56.6 65.3 l0.2 -1.1 l-0.1 -0.7 l-0.1 1.2 M90.1 63.2 l-0.6 -0.7 l0.4 -0.2 l-0.4 0.9 M78.7 72.4 l0.9 0.8 l1.0 0.5 l-0.2 1.1 M73.8 79.2 l-0.7 0.2 l0.4 -0.7 l0.7 -0.4 M53.0 70.7 l-0.6 -0.1 l-0.6 -0.7 l0.5 -1.1 M69.3 72.7 l-1.1 0.2 l0.0 0.2 l1.0 0.7 M47.7 80.2 l0.5 0.9 l-0.2 1.1 l-1.1 -0.7 M97.3 66.6 l0.8 -1.0 l0.0 -0.0 l0.7 1.0 M65.2 91.0 l-0.8 0.2 l0.4 1.2 l0.5 -0.5 M66.5 87.4 l1.2 -1.2 l0.2 1.1 l-0.5 -0.3 M41.6 86.5 l0.1 -0.6 l-0.7 0.7 l0.5 0.1 M64.1 78.7 l1.1 0.3 l-0.4 -0.5 l-0.3 0.7 M83.3 65.8 l-1.1 -0.5 l-0.8 0.8 l0.9 0.2 M67.3 87.7 l0.6 -0.6 l0.5 -0.8 l1.2 0.2 M74.9 76.1 l0.9 -0.3 l0.6 -0.4 l1.2 0.3 M77.2 82.7 l0.0 0.2 l1.2 -0.0 l0.6 1.0 M80.0 65.7 l0.1 0.5 l0.9 -0.7 l1.0 0.5 M63.2 75.4 l-1.0 0.8 l0.4 0.4 l0.6 -0.7 M65.6 96.7 l-0.2 0.8 l1.1 1.0 l-1.2 0.8 M67.6 87.0 l0.2 0.0 l-0.7 -0.4 l-0.3 -0.6 M58.5 78.3 l-0.3 0.3 l0.6 -0.2 l0.6 -0.7 M54.5 85.8 l1.2 1.2 l0.8 0.0 l-0.9 -0.0 M83.1 79.5 l0.4 -0.0 l-0.9 -0.0 l-0.2 0.4 M42.6 81.7 l-0.1 0.5 l0.4 -0.2 l0.3 0.3 M93.3 88.0 l0.4 0.3 l-0.1 -1.0 l0.2 -0.4 M61.5 70.6 l1.2 -0.2 l-1.0 -0.3 l-0.0 -0.6 M76.7 85.3 l0.3 0.1 l0.0 -0.9 l0.3 -1.0 M44.5 68.6 l-1.1 1.1 l-0.4 -0.5 l-1.1 -0.0 M79.5 70.5 l-1.1 0.7 l-0.5 0.0 l0.3 -0.7 M60.6 89.7 l1.1 -0.7 l0.1 0.9 l-0.7 0.9 M55.8 84.1 l-1.2 0.8 l0.6 -0.6 l-1.1 -1.1 M66.9 68.4 l0.3 -0.8 l-0.2 1.0 l-1.1 -0.3 M63.3 73.9 l-0.2 0.4 l0.1 0.2 l-0.7 -0.1 M87.3 86.7 l-1.1 -0.3 l0.2 0.7 l-0.2 -0.2 M89.4 66.6 l0.1 -0.7 l-0.3 1.1 l1.0 -0.8 M71.5 62.8 l-0.3 1.2 l-1.2 -0.0 l1.1 -0.4 M90.6 69.5 l-0.1 -0.2 l0.6 0.9 l-0.2 -1.0 M39.9 68.9 l0.6 0.3 l0.8 -0.7 l-1.2 -1.0 M66.0 78.5 l0.2 0.5 l-0.4 -0.2 l-0.4 -0.0 M71.9 87.2 l0.8 0.0 l-0.6 0.1 l1.2 -0.3 M56.0 83.9 l-1.2 1.0 l-0.5 0.6 l0.7 0.7 M56.7 63.7 l-0.1 0.7 l1.0 0.0 l-0.5 0.4 M95.8 85.5 l1.2 0.6 l-0.5 -0.1 l-0.1 -1.0 M76.4 80.6 l-0.2 -0.7 l-0.6 -1.1 l-0.3 0.8 M64.2 66.9 l-0.6 -0.7 l-0.8 0.6 l0.9 0.9 M70.5 65.9 l-0.2 -0.2 l0.8 -0.9 l-1.2 -1.1 M52.2 82.9 l-0.6 0.7 l0.2 0.6 l0.6 -0.9 M82.3 64.9 l0.3 -0.5 l-0.2 -0.6 l0.2 0.8 M72.3 67.7 l-1.2 -0.1 l1.1 1.1 l0.5 -0.7 M59.6 70.5 l-0.6 1.0 l0.8 -1.0 l-0.1 -0.1 M48.8 70.6 l-0.5 -0.0 l0.7 -0.3 l-0.2 -1.0 M96.5 73.2 l-0.5 0.8 l-1.0 -0.6 l0.6 0.8 M89.4 75.3 l1.1 -0.2 l-1.1 -0.3 l0.5 -0.7 M77.1 71.1 l-0.7 -0.3 l1.2 -1.0 l-1.1 1.2 M86.9 74.4 l0.2 -1.0 l-0.9 0.6 l-0.3 0.4 M67.6 78.0 l-0.2 0.4 l0.8 -1.0 l0.1 -0.8 M94.7 85.1 l-0.5 -0.3 l0.4 -1.1 l-0.5 -0.8 M84.4 63.3 l0.3 0.7 l-0.5 -0.5 l-1.1 -0.3 M48.2 71.5 l-0.7 -0.7 l-0.6 0.0 l-0.9 -0.1 M59.8 92.0 l1.0 0.8 l0.1 0.5 l-0.7 0.9 M57.9 91.2 l-0.6 1.0 l1.0 -0.9 l-1.1 0.6 M48.7 73.0 l-0.5 -0.1 l0.9 0.8 l0.0 -0.8 M64.6 74.1 l-0.6 0.4 l0.6 -0.1 l0.1 0.4 M48.9 63.8 l-0.0 0.5 l-0.8 -0.6 l-0.0 -1.0 M92.3 80.2 l0.5 0.8 l0.1 -0.9 l1.2 -0.4 M91.2 81.7 l0.8 1.0 l-1.2 -0.1 l-0.9 -0.5 M64.5 83.4 l0.8 -0.4 l-0.5 -0.8 l-0.7 0.4 M67.6 82.1 l1.0 -0.7 l-0.4 0.4 l-0.9 0.1 M38.2 67.3 l-0.5 -1.0 l0.0 1.0 l1.1 0.2 M92.9 72.3 l0.1 -1.2 l-0.3 -0.9 l0.2 1.2 M48.4 74.0 l-0.1 -0.8 l0.5 0.8 l-0.1 -1.1 M88.7 73.5 l-0.6 0.9 l-0.4 0.1 l-0.1 0.1 M86.4 68.6 l-0.9 -0.3 l0.7 0.8 l-0.8 0.5 M46.7 66.7 l-0.1 0.6 l1.0 1.2 l1.0 -1.0 M38.0 83.8 l-0.3 0.0 l-0.7 -0.2 l0.9 -0.6 M43.0 66.4 l0.3 -0.9 l-1.1 -0.9 l-1.1 0.7 M41.6 68.7 l1.0 -0.8 l0.3 1.1 l0.7 1.0 M78.2 96.4 l1.1 -0.5 l-0.8 -0.2 l1.1 1.0 M55.1 76.9 l1.2 -0.2 l0.0 0.7 l1.2 -1.0 M87.0 66.3 l-0.1 0.7 l0.9 0.3 l-0.4 -1.0 M49.3 73.3 l1.1 -1.1 l1.0 -1.0 l-0.5 -0.5 M41.6 79.9 l1.1 -0.6 l0.8 0.3 l-0.7 0.0 M53.8 74.7 l0.7 -0.2 l-1.0 -0.6 l1.2 0.7 M59.7 99.0 l-0.7 0.7 l-0.0 0.3 l1.1 -1.1 M54.3 65.2 l-0.5 -1.1 l-0.3 0.4 l0.1 -0.9 M46.0 88.0 l-0.1 -0.5 l-1.1 -0.2 l0.6 -1.2 M57.1 85.8 l0.0 -1.2 l1.0 -0.1 l-1.2 0.3 M92.6 64.7 l0.1 1.2 l1.2 0.6 l-0.7 -0.4 M69.1 72.6 l-1.2 -0.8 l0.8 0.2 l-0.1 1.0 M55.2 77.8 l0.5 0.3 l0.9 -0.0 l1.1 -1.2 M40.2 73.4 l-0.3 0.3 l-1.0 -0.2 l-0.6 0.3 M69.9 80.6 l1.0 1.1 l1.0 0.9 l-0.6 -1.2 M58.2 78.7 l0.5 0.7 l0.7 1.2 l0.6 -0.5 M56.9 78.3 l0.7 -0.6 l-1.0 0.5 l0.3 0.9 M68.6 71.5 l-1.2 -0.1 l-0.9 0.5 l-0.7 -1.2 M93.1 63.9 l-0.2 0.4 l-1.2 0.9 l1.0 -0.1 M72.5 81.5 l1.0 0.2 l-0.2 -1.1 l-1.2 -0.8 M46.5 69.0 l0.5 1.1 l0.3 0.7 l-1.0 -1.1 M72.9 83.4 l0.2 0.6 l0.7 -1.0 l0.0 -1.2 M90.0 87.9 l0.9 -1.2 l0.0 0.5 l-0.5 1.0 M62.4 86.5 l0.6 1.1 l-1.1 0.2 l-1.2 0.1 M44.8 65.5 l-0.1 0.7 l-0.4 0.1 l-1.2 0.1 M70.1 80.8 l-0.1 -0.2 l-1.1 -1.2 l-0.1 0.3 M42.1 70.1 l0.1 0.8 l0.5 0.3 l0.2 -0.7 M50.4 86.7 l-0.3 0.9 l-0.9 -1.1 l0.1 0.5 M86.7 84.7 l-1.2 -0.6 l0.4 -0.7 l-0.3 0.6 M81.8 87.6 l0.9 0.4 l0.8 0.5 l1.1 0.3 M80.7 64.8 l-0.1 0.4 l-0.9 0.7 l0.3 0.1 M53.2 85.9 l0.6 0.6 l-0.7 1.1 l0.3 0.2 M77.3 73.3 l-0.1 1.0 l0.8 -1.0 l0.7 0.1 M90.5 75.6 l-0.4 0.2 l0.4 -0.7 l0.4 -0.2 M48.2 74.8 l-0.5 -0.8 l1.1 -1.2 l-0.3 1.0 M73.3 67.7 l-0.7 -0.5 l-0.5 -1.1 l0.4 -0.0 M69.5 80.7 l-0.4 0.6 l-0.3 -1.2 l-0.3 0.5 M42.3 75.1 l-1.1 -0.9 l1.1 0.8 l1.1 0.3 M90.4 87.7 l0.1 0.3 l-0.7 -0.7 l-0.5 1.1 M47.5 67.7 l0.7 0.7 l-0.5 1.1 l0.1 1.0 M42.3 87.6 l1.0 0.5 l-0.8 0.3 l-0.8 -0.2 M71.2 63.7 l-0.2 0.2 l-0.9 0.3 l0.8 -0.5 M51.6 68.3 l-0.3 -0.2 l1.1 1.2 l1.0 -1.1 M75.5 63.4 l-0.2 -0.5 l0.0 0.0 l-0.2 -0.4 M54.3 64.1 l0.3 -0.6 l-1.2 1.0 l-0.2 0.1 M79.5 73.2 l0.9 -0.3 l0.5 1.2 l0.7 -0.9 M58.8 64.0 l1.2 0.9 l0.5 0.7 l-1.1 -0.4 M41.3 79.2 l0.7 -0.5 l-0.9 -0.8 l-0.1 1.1 M58.1 81.9 l-0.2 0.9 l1.1 0.9 l-0.6 -0.3 M52.2 74.9 l0.8 0.7 l-0.7 0.1 l1.0 0.1 M52.3 80.1 l-1.2 -0.8 l0.2 -1.0 l-0.3 -0.4 M92.5 91.5 l0.8 1.2 l1.2 0.3 l0.4 0.1 M51.2 85.3 l0.8 -0.7 l0.8 0.2 l-0.1 -0.3 M75.5 84.6 l0.2 0.9 l0.2 0.5 l-0.2 -0.9 M60.0 66.6 l-0.4 -0.3 l-0.0 -0.1 l-0.9 -1.0 M49.1 83.6 l-0.7 -0.1 l0.8 -0.7 l0.9 1.2 M63.5 89.3 l-0.8 -0.9 l-1.2 0.0 l-0.5 0.6 M70.6 93.4 l-0.2 1.1 l0.5 0.9 l-0.9 -0.7 M43.5 70.0 l-0.7 -0.1 l0.4 -0.1 l0.2 -0.3 M74.2 93.4 l-0.1 -1.1 l-0.9 -0.2 l-0.7 -1.2 M88.5 79.0 l-0.3 -0.4 l-0.5 -0.3 l-1.0 -1.0 M95.4 86.9 l0.2 -1.0 l0.7 0.4 l-0.3 1.2 M52.0 79.8 l0.6 -0.3 l1.0 -0.7 l0.9 1.0 M61.0 76.5 l0.3 1.2 l0.2 0.4 l0.4 0.5 M67.2 87.1 l0.0 -0.4 l0.8 -1.2 l0.9 -1.1 M93.6 85.2 l0.9 0.5 l0.8 0.9 l-0.9 0.3 M46.3 70.5 l0.4 -0.3 l-0.3 -1.1 l0.9 -1.0 M39.9 73.4 l0.3 -1.0 l-0.7 1.1 l1.2 0.4 M82.9 82.0 l-0.7 -0.7 l0.8 0.3 l-0.7 1.0 M48.7 65.0 l-0.0 -0.9 l0.7 0.7 l-1.1 0.4 M48.3 89.7 l0.3 -0.8 l-0.7 1.0 l0.5 -0.4 M77.5 64.0 l0.6 0.0 l1.2 -0.8 l-0.2 -0.1 M52.8 67.7 l0.4 0.8 l-1.2 0.4 l-0.6 0.2 M82.9 90.9 l0.2 -0.5 l1.0 0.1 l-0.5 1.1 M53.4 73.6 l-0.8 -0.7 l1.1 0.6 l1.2 -1.0 M89.2 90.4 l-0.7 0.1 l-0.8 0.4 l0.0 -1.0 M63.8 86.9 l1.1 -0.5 l0.9 0.3 l-0.5 1.0 M81.4 69.2 l-0.3 1.0 l-1.0 0.1 l0.7 1.0 M82.2 84.6 l-0.4 -0.8 l0.1 -0.1 l-0.7 -0.4 M64.0 73.0 l-1.2 -1.1 l0.8 0.2 l-0.1 1.2 M83.9 85.2 l-0.0 0.1 l1.1 -0.8 l-0.5 -0.0 M49.4 64.3 l-0.2 -0.5 l0.6 0.2 l0.8 -0.1 M80.8 88.6 l0.3 1.1 l-0.9 0.1 l1.0 0.7 M41.5 85.8 l1.1 0.1 l0.8 0.3 l-0.5 0.5 M91.2 63.0 l1.0 1.2 l0.3 -0.6 l0.8 -0.3 M76.2 66.9 l0.9 -1.0 l-0.9 1.0 l0.5 -0.2 M85.2 73.1 l-0.9 -0.5 l0.9 0.9 l-0.8 0.3 M58.0 74.9 l0.6 -0.6 l-0.3 0.0 l-0.1 1.0 M39.9 78.9 l0.5 0.7 l0.8 -1.1 l-0.0 -0.1 M82.0 94.3 l0.1 1.1 l0.3 0.2 l0.2 1.0 M82.9 63.4 l0.2 -1.2 l-1.1 0.2 l-0.1 0.3 M89.1 67.1 l-1.1 -0.2 l-1.1 -0.9 l0.4 0.7 M50.1 80.9 l0.5 0.5 l-1.0 -0.4 l-1.1 -1.1 M64.3 97.3 l0.1 -0.6 l-0.5 -0.6 l-0.4 0.6 M58.0 64.0 l0.1 -0.4 l-1.2 -1.1 l1.2 -0.6 M62.7 83.9 l-0.4 0.5 l1.0 -0.0 l1.1 0.2 M77.0 83.9 l0.5 -0.5 l1.0 -0.5 l0.9 0.7 M80.4 77.7 l0.6 0.6 l-0.3 1.0 l0.4 0.5 M54.6 67.7 l0.2 -0.1 l0.6 -0.3 l-0.7 0.0 M69.2 73.2 l0.3 -0.2 l0.5 1.1 l0.3 -1.2 M54.7 85.3 l0.3 0.1 l-0.8 0.2 l-0.8 -0.8 M90.3 75.3 l-0.9 -1.1 l0.1 -0.0 l0.2 -0.3 M61.5 76.9 l-0.0 -0.7 l1.0 -1.0 l0.5 0.9 M53.2 85.3 l-0.6 1.0 l1.2 -1.2 l0.6 1.0 M71.5 66.2 l-0.6 1.2 l-0.8 1.1 l1.2 -0.0 M63.2 92.5 l-1.1 -0.6 l-0.4 -1.2 l0.2 -0.2 M66.3 84.9 l-0.9 -1.1 l0.6 -1.1 l1.2 -1.1 M77.8 86.5 l-0.2 -1.1 l-0.2 -0.3 l1.0 1.1 M74.0 94.2 l0.3 -0.0 l-0.9 0.6 l1.2 -1.2 M42.3 82.0 l1.0 1.0 l-0.9 -0.3 l-0.5 0.2 M62.2 75.7 l0.8 -0.9 l-1.0 0.5 l0.4 -0.2 M76.4 79.5 l1.2 0.2 l-0.4 -0.9 l-0.6 -0.7 M47.3 86.8 l0.6 -0.9 l-1.0 -0.1 l1.1 -0.5 M48.7 72.2 l1.1 -1.2 l0.7 0.1 l0.4 -0.8 M54.0 70.5 l0.2 -0.6 l1.2 0.1 l1.0 0.5 M86.1 62.8 l-1.2 0.5 l-0.2 -0.1 l-0.4 -0.1 M71.9 67.0 l0.6 -0.1 l0.5 0.9 l0.5 1.0 M67.9 108.8 l0.3 1.3 M70.4 95.3 l-0.1 2.0 M72.0 109.4 l-0.3 1.6 M67.0 88.5 l-0.0 1.4 M66.8 91.4 l-0.1 1.7 M70.4 92.5 l-0.1 2.4 M72.7 111.4 l0.0 2.4 M68.8 91.5 l-0.2 2.4 M67.3 107.4 l-0.0 2.5 M65.5 116.7 l0.4 1.9 M71.4 116.2 l0.1 2.3 M72.5 112.8 l-0.1 2.1 M69.1 115.9 l0.3 1.8 M69.0 89.0 l-0.1 1.5 M67.9 102.3 l-0.2 1.6 M69.0 92.0 l-0.2 1.5 M69.3 95.7 l-0.4 2.4 M72.4 97.1 l-0.4 1.9 M72.9 117.9 l-0.0 1.3 M71.8 90.4 l0.2 1.6 M71.8 113.2 l-0.4 2.0 M66.9 117.2 l-0.1 2.3 M68.5 90.1 l0.3 1.2 M71.0 103.7 l-0.2 1.7 M68.2 97.2 l-0.1 2.3 M68.9 109.2 l-0.2 2.3 M66.9 92.0 l0.1 1.4 M70.0 111.5 l-0.4 1.4 M71.8 101.3 l-0.5 2.0 M67.1 93.0 l0.4 1.3 M70.5 92.8 l-0.2 2.0 M67.6 94.3 l0.3 1.6 M69.4 101.0 l-0.5 1.7 M66.7 115.0 l0.1 1.5 M69.0 111.4 l-0.3 1.2 M67.2 96.6 l-0.0 1.9 M70.1 116.6 l0.3 1.8 M71.2 88.3 l-0.2 1.2 M66.3 118.0 l-0.2 1.8 M64.9 114.0 l-0.1 2.2 M66.0 96.1 l0.1 1.4 M76.4 115.1 l0.3 2.3 M79.8 107.7 l0.3 1.7 M80.5 99.9 l0.4 2.4 M83.3 101.8 l0.3 2.2 M81.1 99.1 l-0.3 2.2 M79.6 95.2 l-0.0 1.1 M82.4 108.5 l-0.0 1.7 M80.3 94.7 l0.2 1.5 M78.1 116.4 l-0.3 1.8 M80.7 93.3 l0.0 2.3 M84.0 106.0 l0.0 1.1 M79.2 100.6 l-0.0 1.3 M79.7 95.9 l-0.4 2.1 M80.7 113.2 l-0.1 2.3 M85.8 116.8 l0.2 2.4 M81.7 96.0 l0.3 1.6 M79.7 103.4 l0.1 1.7 M79.0 110.0 l0.3 1.1 M79.6 117.4 l0.2 2.3 M85.9 115.5 l-0.1 1.2 M80.0 104.6 l0.2 2.1 M82.0 94.2 l-0.3 2.4 M81.0 93.1 l0.4 1.8 M81.4 102.2 l0.3 2.0 M83.2 111.5 l-0.4 2.0 M78.0 107.6 l-0.2 1.3 M84.6 107.6 l0.3 2.1 M78.6 111.7 l-0.2 2.1 M82.2 96.2 l-0.2 2.3 M84.0 105.3 l0.2 2.2 M80.3 96.3 l0.3 1.6 M83.7 111.1 l0.2 2.4 M84.0 116.9 l-0.2 1.0 M82.3 114.9 l0.2 1.3 M78.8 100.7 l0.4 1.6 M77.3 114.2 l0.0 1.0 M84.1 100.4 l-0.1 1.9 M77.6 117.3 l0.3 1.4 M85.5 107.9 l-0.0 1.7 M80.9 93.3 l-0.3 2.1 M82.8 111.8 l0.0 1.7 M78.4 116.9 l-0.1 1.4 M78.6 106.5 l0.1 1.9 M79.0 105.3 l-0.4 1.7 M82.7 92.9 l0.2 1.7 M80.6 94.4 l0.2 2.1 M80.9 115.4 l-0.0 1.7 M84.5 110.7 l-0.2 2.3 M81.9 108.6 l0.2 2.1 M79.8 103.7 l0.2 1.2 M78.5 100.5 l0.1 1.8 M80.8 107.4 l0.1 1.3 M81.1 93.3 l0.2 1.2 M82.0 105.6 l0.0 1.3 M79.3 106.9 l-0.3 1.1 M81.9 94.8 l0.3 1.3 M81.6 101.0 l0.4 1.3 M83.6 95.9 l-0.1 2.1 M83.1 92.6 l0.3 2.3 M81.0 106.1 l-0.3 1.6 M81.7 100.5 l0.1 1.1 M83.3 110.5 l-0.2 1.6 M80.6 102.1 l0.2 1.3 M83.0 94.4 l0.3 1.0 M39.5 101.9 l-0.3 -0.4 l0.2 0.2 M58.4 86.6 l-1.0 0.5 l0.5 -0.6 M50.3 92.4 l-0.5 -1.0 l0.9 0.8 M38.8 101.6 l-0.5 -0.1 l0.6 -1.1 M54.9 85.7 l0.7 -0.2 l0.3 -0.5 M48.0 94.0 l0.4 -1.0 l1.1 0.3 M49.2 92.2 l-0.4 -0.5 l0.7 1.1 M39.0 99.4 l-0.2 0.3 l0.2 1.0 M45.6 98.7 l-0.8 0.1 l-0.2 0.7 M45.6 98.5 l0.7 -1.0 l-0.2 0.7 M45.6 98.5 l-0.6 -0.5 l0.5 -0.2 M53.5 85.5 l-0.0 -0.6 l1.0 0.7 M43.8 99.2 l-0.3 -0.3 l-0.7 0.5 M49.7 91.8 l0.7 0.7 l-0.1 -0.1 M39.1 101.6 l0.4 0.4 l-0.8 -0.8 M53.0 85.4 l-0.1 -0.8 l0.6 -1.0 M58.6 87.9 l0.8 1.0 l0.2 0.4 M55.2 86.7 l0.8 0.9 l1.0 0.4 M54.8 84.9 l0.5 0.8 l0.5 0.8 M46.1 97.8 l-0.0 0.1 l0.6 0.1 M45.0 98.7 l-0.7 -0.1 l0.7 0.8 M39.2 100.3 l-0.8 -0.7 l0.7 -0.8 M38.6 99.5 l0.5 0.6 l0.0 -1.0 M41.2 100.2 l-1.0 -0.6 l0.7 -0.3 M49.1 91.3 l-0.8 0.2 l0.9 0.1 M42.4 100.6 l0.8 0.3 l-0.1 -0.5 M49.6 92.4 l1.0 0.7 l-0.1 -1.0 M53.3 85.7 l-0.3 -0.4 l-1.1 1.1 M42.0 102.3 l-0.5 -0.8 l-0.3 -0.3 M56.1 85.4 l0.6 0.3 l0.2 -0.5 M44.8 99.0 l-0.6 0.8 l-1.1 -0.4 M53.2 109.0 l0.9 -0.6 l0.1 -1.0 M50.2 111.3 l0.6 -0.4 l-0.9 0.3 M53.9 111.1 l-0.2 0.7 l-0.3 0.6 M53.3 112.7 l-0.2 -0.4 l0.3 -0.3 M51.8 116.2 l-0.9 0.4 l0.5 -0.8 M54.4 116.4 l-0.9 0.7 l-0.2 -0.7 M50.1 115.8 l-0.8 -1.0 l-0.4 -0.7 M52.8 117.4 l-0.8 -0.0 l-0.8 0.8 M56.6 113.9 l-0.7 -0.7 l-0.9 0.1 M55.0 114.5 l-0.2 -0.8 l0.8 0.2 M52.6 115.4 l0.9 -0.5 l0.5 -0.9 M50.2 111.9 l0.4 0.4 l-1.0 0.3 M55.4 112.7 l-0.9 1.0 l-0.4 0.7 M57.6 112.2 l0.4 0.2 l0.3 0.0 M49.4 112.6 l0.6 -0.6 l0.0 0.2 M53.6 112.5 l-0.3 -0.4 l0.6 -0.4 M51.3 113.4 l0.2 0.2 l-0.9 -0.3 M53.4 116.3 l-0.9 0.6 l0.8 -0.1 M54.9 110.0 l-0.8 -0.4 l-0.6 -0.7 M50.3 113.8 l0.6 0.8 l-0.1 0.3 M56.6 116.0 l-0.2 0.5 l-1.0 -0.3 M50.4 115.2 l0.8 -0.9 l0.8 0.8 M53.4 110.3 l-0.6 -0.3 l1.0 0.8 M55.4 114.5 l-0.7 0.8 l0.5 -0.1 M97.2 116.7 l-0.2 -1.6 M83.5 118.2 l0.3 -0.8 M68.5 116.9 l-0.1 -1.0 M88.6 116.0 l0.7 -1.4 M64.4 114.7 l-0.3 -0.7 M78.1 116.4 l-0.2 -1.4 M97.7 118.2 l-0.1 -1.3 M65.6 116.3 l0.3 -1.1 M85.5 115.6 l-0.5 -1.6 M89.2 118.5 l-0.5 -0.7 M89.5 115.2 l0.1 -0.7 M50.8 116.9 l-0.6 -0.9 M94.0 115.9 l-0.1 -1.0 M57.9 116.8 l0.4 -1.8 M80.5 118.5 l0.6 -1.4 M72.2 115.3 l0.4 -0.6 M60.5 117.4 l-0.2 -1.5 M93.9 115.1 l-0.0 -0.7 M66.8 118.1 l-0.3 -1.2 M44.1 115.4 l-0.7 -0.5 M61.4 117.7 l-0.4 -0.7 M49.6 117.6 l-0.0 -1.7 M42.4 114.6 l0.1 -1.5 M52.9 117.2 l0.4 -0.7 M44.9 117.6 l-0.5 -0.8 M86.1 116.2 l-0.3 -0.8 M56.3 116.9 l0.4 -0.9 M69.2 117.0 l-0.1 -0.8 M97.6 117.2 l-0.5 -1.3 M88.9 115.3 l0.2 -1.5 M69.4 115.7 l0.1 -1.7 M77.1 115.2 l0.5 -0.6 M95.2 118.2 l0.5 -1.3 M50.7 117.3 l0.7 -0.4 M55.6 117.5 l0.5 -1.1 M51.0 116.1 l0.0 -0.6 M92.5 118.2 l-0.2 -0.9 M83.7 116.7 l0.1 -0.5 M84.2 117.3 l0.6 -1.3 M65.7 116.7 l0.3 -1.2 M68.4 116.7 l0.0 -1.3" fill="none" stroke="#8c8c8c" stroke-width="0.55" stroke-linecap="round"/>
<path d="M64.3 83.5 l-0.8 0.0 l0.3 0.7 l-1.0 -0.5 M79.3 64.1 l0.3 0.8 l-1.1 -1.2 l0.9 0.2 M84.6 74.7 l0.4 -0.0 l0.4 -0.1 l-0.6 1.2 M78.8 70.5 l1.2 -0.3 l-1.1 0.3 l0.7 -0.6 M47.8 81.6 l0.4 -1.0 l-0.2 -0.7 l-0.6 1.2 M86.2 73.9 l1.2 0.3 l0.2 -1.1 l-0.9 -0.1 M47.4 68.3 l0.6 -0.9 l0.3 0.1 l0.5 -0.3 M60.3 90.1 l-0.1 0.1 l0.0 0.0 l-0.5 -1.0 M77.3 80.7 l0.4 -0.7 l-0.8 1.0 l0.4 -0.1 M91.7 74.8 l0.8 0.6 l-0.7 -0.7 l-0.7 1.1 M50.8 67.8 l-1.0 0.1 l0.3 -0.3 l-1.1 -0.8 M45.3 81.9 l1.1 -0.0 l1.1 -1.0 l-0.7 0.1 M66.8 75.2 l0.1 -1.0 l-0.2 -1.2 l-0.6 0.5 M74.5 82.7 l0.1 0.9 l0.3 0.9 l-0.7 0.6 M70.5 81.8 l-1.0 -0.8 l-0.9 -0.5 l0.4 0.2 M42.0 77.2 l0.3 -1.2 l0.5 0.9 l-0.8 -0.1 M56.6 82.7 l-0.2 0.6 l-1.1 -0.4 l-0.1 -1.2 M73.3 78.6 l0.2 -0.3 l-0.5 0.4 l0.2 -0.5 M85.8 70.9 l-1.1 -1.0 l0.8 1.0 l-0.9 1.1 M62.1 66.9 l-0.9 -0.1 l0.4 -0.1 l-0.6 0.2 M67.4 87.0 l0.9 -1.2 l-1.1 -0.6 l-0.2 0.3 M42.4 82.8 l0.1 0.3 l-0.3 -0.1 l-0.7 -0.4 M64.9 74.7 l0.8 -0.1 l0.8 -1.2 l-0.5 1.0 M91.1 73.1 l0.2 1.2 l0.4 0.8 l-1.1 0.1 M83.8 77.3 l-0.0 0.1 l0.6 0.5 l1.0 -0.2 M62.3 68.0 l0.5 -0.4 l-0.3 0.1 l-0.6 1.0 M48.4 76.0 l0.2 -0.7 l-0.8 -0.5 l-0.8 0.6 M89.9 77.5 l1.2 0.7 l0.7 0.7 l-1.1 1.1 M92.6 79.4 l-0.2 0.7 l-0.9 1.0 l0.8 -0.9 M82.4 85.7 l-1.2 0.8 l0.9 0.8 l-1.0 -0.6 M64.6 62.9 l1.0 -0.9 l0.3 1.1 l0.6 1.1 M83.2 83.3 l0.6 -0.4 l1.1 0.2 l0.6 -0.4 M87.7 66.0 l-0.8 -0.2 l0.8 0.2 l-1.0 -0.7 M45.8 67.2 l1.1 -0.9 l-0.7 -0.9 l0.5 -0.0 M51.9 82.7 l0.2 -0.8 l1.1 1.2 l0.5 1.1 M71.5 63.5 l-0.6 0.2 l0.5 -0.4 l1.1 -0.3 M65.4 77.9 l0.6 -0.0 l1.2 0.8 l0.9 -0.2 M63.1 83.7 l-0.2 -1.2 l1.0 -0.5 l0.3 -0.2 M70.1 87.1 l0.9 1.2 l0.6 0.9 l-0.3 0.1 M68.3 81.5 l0.2 0.7 l-1.0 -0.2 l0.4 0.1 M80.7 84.0 l0.3 0.3 l0.8 0.0 l0.6 0.9 M37.9 66.8 l0.3 -1.1 l-0.2 0.5 l0.8 0.6 M76.6 81.6 l0.5 0.8 l0.7 -1.1 l-0.2 -0.3 M38.6 80.9 l0.6 0.1 l1.2 -1.2 l-0.2 0.1 M39.7 75.4 l-0.1 -0.3 l0.9 -0.3 l0.7 -0.7 M57.7 69.4 l-0.2 0.2 l0.6 -0.1 l-0.0 0.3 M88.5 67.0 l-1.0 1.0 l-0.4 0.7 l0.0 -1.1 M60.6 71.4 l-1.2 -0.5 l-0.2 0.1 l-0.9 0.5 M52.3 89.7 l1.0 0.8 l0.1 -0.1 l-0.9 0.0 M58.2 66.3 l-1.1 -1.2 l0.3 0.2 l0.8 1.2 M54.6 87.6 l0.1 -0.4 l-0.9 0.7 l-0.3 0.7 M68.5 90.4 l-0.1 -0.6 l0.9 -0.5 l1.0 1.0 M71.4 72.3 l-0.3 -0.4 l1.0 -1.2 l0.5 -0.7 M91.4 74.3 l1.2 0.8 l-0.9 0.3 l-0.0 0.2 M59.1 73.2 l0.4 -0.3 l0.5 1.0 l0.6 0.9 M91.4 74.1 l-1.1 0.3 l-0.2 -0.0 l-0.4 -0.3 M75.7 76.3 l0.9 0.8 l0.2 -0.2 l0.5 0.3 M59.6 87.6 l0.4 1.2 l-0.1 0.5 l0.7 1.1 M52.8 72.7 l1.1 1.2 l-1.1 0.5 l-1.0 -1.1 M63.4 95.1 l-0.3 0.3 l0.7 1.2 l-0.3 0.5 M46.9 66.5 l-0.2 -0.9 l1.0 -0.6 l0.2 -0.6 M57.0 67.7 l-0.0 -0.2 l0.8 -0.3 l-1.1 0.1 M77.1 85.9 l1.2 -0.1 l0.8 0.6 l-0.8 -1.2 M92.9 63.4 l0.6 0.0 l-0.6 1.2 l0.3 -0.1 M47.1 66.5 l-1.2 -0.3 l-1.1 -1.0 l1.1 0.8 M74.5 75.4 l0.0 0.2 l-1.0 0.8 l0.5 -0.1 M92.1 66.7 l0.8 0.7 l0.0 1.2 l-1.1 0.9 M48.9 86.1 l0.1 1.2 l-0.3 0.8 l0.5 0.9 M95.1 87.2 l0.5 -0.8 l-0.9 0.5 l-0.1 -0.9 M74.1 75.9 l0.6 -0.3 l-0.5 -0.2 l-0.9 0.3 M64.5 81.5 l-0.7 0.2 l-0.5 0.9 l-0.5 0.9 M78.3 79.6 l0.3 -0.1 l-1.1 -0.2 l-0.5 -0.1 M95.7 73.5 l-1.2 -0.3 l0.2 0.9 l-0.3 -0.6 M84.1 66.4 l-1.0 -0.3 l-0.3 0.6 l0.4 -0.4 M37.5 86.2 l-1.1 -0.8 l0.0 -0.1 l0.4 -1.1 M49.9 63.3 l0.4 0.5 l1.2 -1.1 l-0.1 -0.2 M79.5 92.0 l0.7 -1.0 l-0.1 -1.2 l0.9 1.1 M77.4 81.6 l-0.6 -0.2 l-1.1 -0.7 l-0.1 0.1 M89.1 68.3 l0.3 1.2 l0.5 -1.0 l0.8 -0.7 M73.1 66.4 l-0.3 0.2 l-0.3 -0.5 l0.3 0.2 M59.3 65.9 l1.2 0.8 l-0.4 -0.5 l0.8 0.7 M90.6 80.2 l-0.7 0.5 l-0.0 -0.2 l0.7 0.0 M60.3 84.0 l-0.0 1.2 l-0.4 0.5 l-0.7 -0.6 M91.0 66.3 l-1.2 1.1 l1.0 -1.0 l1.0 -0.6 M49.7 72.7 l0.9 1.1 l-1.2 -0.0 l0.2 0.5 M74.3 85.5 l1.1 -1.2 l-1.0 0.9 l1.1 -1.2 M94.2 78.0 l-0.1 0.7 l-0.4 -0.7 l0.4 -0.6 M68.7 72.1 l-1.1 0.0 l0.6 -0.7 l-1.2 -0.6 M45.9 65.0 l1.1 -0.4 l1.1 -0.9 l0.5 1.1 M48.0 67.6 l-0.3 0.6 l1.1 -0.9 l0.9 1.2 M83.6 82.3 l-1.2 1.1 l1.2 1.1 l0.4 -0.8 M66.7 87.9 l-0.1 0.2 l1.0 0.7 l1.1 -0.5 M76.7 88.2 l-0.6 0.2 l0.3 -0.1 l-1.0 -0.0 M85.9 72.0 l-0.4 -1.1 l-1.1 0.9 l-0.9 -0.5 M77.6 81.4 l0.8 1.2 l1.0 0.5 l0.7 0.5 M97.0 68.5 l-0.5 -0.8 l0.5 0.6 l1.2 0.3 M68.9 73.3 l-0.4 -1.1 l-1.1 -0.4 l0.1 1.1 M76.0 78.0 l1.0 -1.1 l-0.2 -0.1 l-0.2 0.3 M39.5 65.2 l0.9 1.2 l-0.0 0.7 l-0.6 0.8 M61.6 65.8 l-0.2 -0.3 l0.6 0.6 l0.3 -0.7 M72.1 90.2 l-0.6 0.7 l0.5 -0.1 l-0.3 -0.2 M63.2 87.0 l0.3 -1.0 l0.2 0.6 l0.2 -0.3 M88.5 75.4 l-0.7 -0.3 l1.2 -0.8 l1.0 -1.1 M72.4 93.3 l-1.1 1.2 l0.5 -0.4 l-0.3 -0.1 M70.8 79.0 l0.6 -1.1 l-0.5 0.5 l0.5 0.8 M85.3 73.1 l0.3 -0.5 l0.4 1.1 l0.7 1.0 M47.0 69.3 l-0.4 0.5 l-0.7 1.0 l0.9 -0.7 M61.8 77.1 l-0.5 -0.5 l-0.3 0.4 l-1.2 -0.1 M68.6 76.3 l0.5 0.6 l-0.1 -0.3 l0.1 1.0 M88.2 65.3 l0.0 -0.5 l0.9 0.0 l1.2 -1.1 M76.0 66.6 l0.2 0.1 l-1.1 0.5 l-1.1 0.6 M57.5 89.7 l0.3 0.6 l1.0 0.4 l1.2 0.8 M90.9 87.1 l0.5 -0.8 l-0.0 1.2 l-0.7 -0.6 M75.6 86.9 l1.1 -0.5 l-1.2 -0.2 l0.2 -0.9 M77.1 86.7 l-0.1 -0.0 l-1.1 0.1 l1.2 -0.9 M60.0 71.0 l0.7 0.6 l-1.1 0.8 l-0.9 -0.8 M68.6 65.1 l-0.9 0.2 l0.0 -0.3 l-0.1 -1.2 M74.4 69.8 l-0.5 -0.5 l0.4 -0.8 l0.8 1.0 M78.0 72.6 l0.1 0.3 l1.0 0.4 l1.1 -0.9 M51.1 64.5 l0.7 0.3 l-0.1 -1.2 l-0.1 -0.6 M73.6 81.6 l-0.4 -0.3 l-1.0 1.1 l0.6 -1.1 M74.0 78.3 l1.1 0.5 l0.9 -1.0 l-1.0 0.5 M69.3 98.6 l-0.9 -0.2 l0.3 0.7 l-0.1 -0.5 M57.0 78.3 l-1.1 0.0 l-0.7 -0.6 l-0.2 0.9 M66.4 69.9 l-0.9 0.5 l0.2 0.3 l0.7 0.3 M49.2 75.6 l-0.2 0.1 l-0.7 -0.1 l-0.6 0.4 M42.7 67.7 l-1.2 1.2 l0.8 -0.3 l-0.9 0.8 M94.6 70.3 l1.0 -1.0 l-1.2 0.9 l1.0 -1.0 M85.6 81.5 l-0.9 0.1 l0.2 1.1 l0.1 1.0 M77.8 70.9 l-0.3 -0.5 l-0.9 0.2 l0.8 -0.3 M47.0 66.4 l-0.8 0.8 l1.1 -0.8 l-0.3 -0.1 M89.3 74.8 l-0.5 -0.1 l0.8 0.5 l-0.7 1.0 M66.0 63.2 l0.1 -0.8 l-0.2 -0.2 l0.8 0.4 M42.1 77.0 l0.4 -0.1 l0.1 0.2 l0.1 0.8 M79.3 91.6 l0.5 0.6 l-1.1 1.1 l0.1 -1.2 M66.0 75.2 l-0.9 -0.1 l-0.6 0.4 l-1.0 -0.4 M66.5 96.0 l0.9 -0.8 l-0.5 -0.2 l-1.1 1.2 M83.6 76.7 l-0.9 -0.1 l0.8 0.5 l-0.9 1.2 M87.3 84.7 l0.6 0.3 l-0.4 -0.4 l-1.1 0.4 M92.9 87.5 l0.8 1.1 l0.8 1.2 l-0.1 -1.2 M89.3 91.5 l1.0 0.3 l0.5 0.1 l1.0 -1.1 M46.7 79.5 l1.0 1.1 l-0.6 0.8 l-1.0 0.2 M93.4 66.3 l-1.1 -0.8 l-1.1 0.3 l0.3 1.1 M54.5 81.4 l0.1 -1.1 l-0.3 1.0 l-1.1 -0.5 M58.1 65.6 l-0.7 0.9 l-0.7 -0.4 l-0.5 -0.9 M64.9 89.5 l-0.8 0.6 l1.1 -0.7 l-1.2 -0.9 M73.9 80.4 l-0.5 -1.2 l-0.6 1.0 l1.2 0.2 M72.6 79.4 l0.5 0.8 l-0.0 1.0 l0.8 0.8 M86.4 70.6 l-0.1 1.2 l-0.5 -0.2 l0.9 1.2 M70.7 82.6 l-0.1 -0.7 l-1.0 -0.3 l0.0 0.7 M95.2 67.1 l0.6 -0.9 l0.0 0.4 l-1.0 -1.0 M48.8 63.1 l-0.9 -1.2 l0.2 -0.6 l0.3 1.0 M82.7 73.0 l-0.6 0.9 l0.4 1.0 l-0.4 1.1 M72.4 74.6 l1.2 -0.3 l-0.8 0.9 l0.4 -0.6 M54.3 84.1 l1.1 0.3 l0.5 0.5 l0.8 -1.2 M77.3 69.2 l-0.1 -0.9 l0.0 0.1 l0.1 -0.6 M60.0 65.8 l0.7 -0.2 l0.6 0.3 l0.3 0.1 M92.8 79.3 l0.9 -0.3 l-0.5 0.7 l0.3 1.2 M70.2 75.1 l-0.0 1.2 l0.3 0.3 l-0.3 1.2 M60.6 78.4 l0.2 1.1 l0.6 -1.0 l1.2 -1.2 M53.2 63.6 l-1.2 -0.8 l-1.2 -1.1 l-0.5 -0.0 M96.5 86.8 l0.2 1.0 l0.4 -0.7 l-0.3 -0.1 M79.9 93.9 l-1.2 0.8 l0.9 -1.0 l-0.7 0.3 M59.2 97.0 l-0.6 -1.2 l1.2 -0.6 l-0.2 0.7 M56.4 77.8 l-0.7 -0.4 l0.7 -0.5 l0.8 -0.1 M68.8 69.4 l-0.1 0.3 l0.2 0.4 l-0.2 0.9 M69.2 95.5 l0.2 -1.1 l-0.5 0.3 l-0.9 -0.2 M76.7 74.3 l-0.3 -1.2 l-0.6 -0.1 l1.1 -0.9 M83.2 70.9 l-0.1 0.7 l1.2 0.3 l0.4 0.2 M66.0 76.7 l0.1 0.6 l-1.1 0.9 l-0.3 -0.0 M68.4 67.6 l-0.6 -1.1 l0.1 -0.2 l0.6 -0.8 M60.3 86.5 l0.6 -0.2 l1.0 0.3 l0.4 -0.5 M92.2 75.5 l0.5 -0.8 l0.6 -0.9 l-0.3 -0.3 M42.5 81.1 l-0.2 0.2 l-1.1 -0.3 l-0.4 0.3 M59.3 87.9 l0.4 1.1 l-0.0 0.1 l0.4 -0.9 M68.9 64.6 l1.2 1.2 l0.7 -0.4 l0.0 0.0 M82.7 76.8 l-0.8 1.0 l0.5 -0.9 l-1.0 0.3 M39.5 69.4 l0.3 -1.1 l-0.3 0.6 l-1.0 -1.2 M61.8 94.5 l-0.6 0.7 l0.9 -0.3 l0.8 -0.3 M41.0 72.2 l0.0 1.2 l-0.1 -0.1 l0.3 0.7 M57.6 63.6 l-0.8 0.4 l-0.2 -0.7 l-0.6 -0.3 M81.9 83.2 l0.7 -1.1 l-0.5 -0.1 l-0.5 0.8 M41.9 86.9 l0.7 0.1 l0.9 -0.0 l-0.3 1.2 M51.1 76.8 l1.2 -0.3 l0.7 -0.1 l1.2 -1.0 M62.3 71.4 l-0.4 -0.9 l0.5 -0.3 l0.3 0.8 M40.7 78.4 l-0.8 -0.1 l-1.2 0.0 l-1.1 -0.9 M79.5 98.1 l1.2 -0.8 l-0.8 0.1 l0.4 -0.9 M49.7 85.2 l0.9 0.8 l0.9 -0.7 l-0.5 0.3 M74.5 86.0 l-0.0 -0.6 l-0.5 -0.1 l0.4 -0.9 M53.5 79.4 l-0.3 -0.3 l-0.5 -1.1 l-0.6 -1.2 M64.0 80.6 l-0.0 0.8 l-0.4 0.6 l0.7 -0.4 M43.5 76.4 l1.0 0.2 l0.4 0.1 l0.1 1.1 M89.2 80.2 l-1.2 -0.3 l0.2 0.7 l0.2 1.0 M94.8 64.8 l0.1 1.2 l-1.2 -0.7 l-0.5 0.1 M83.0 94.5 l1.1 -0.9 l-0.2 -1.0 l0.2 -0.7 M79.7 75.8 l-1.0 -0.7 l-0.1 -1.0 l0.5 1.2 M66.1 86.5 l-0.1 0.2 l-0.6 -0.2 l0.6 -1.0 M64.4 72.0 l-0.4 -0.3 l-0.7 0.9 l0.4 0.6 M82.0 75.8 l0.1 -0.2 l-1.0 -0.6 l-0.8 0.3 M68.7 64.0 l0.4 1.2 l0.5 -0.5 l0.4 1.2 M93.2 82.9 l-0.9 1.0 l1.1 -0.4 l0.7 0.6 M71.4 77.0 l1.1 -1.1 l0.2 0.5 l-0.7 -1.2 M83.3 74.4 l-0.2 -0.5 l-0.0 0.6 l1.2 1.0 M63.7 65.5 l0.0 -0.2 l1.0 -1.1 l-0.7 0.7 M68.9 71.2 l0.4 -0.3 l1.2 1.0 l0.8 0.1 M79.1 92.4 l1.2 0.9 l0.1 0.6 l0.8 0.1 M78.5 94.5 l1.2 1.1 l0.6 -0.6 l-0.8 0.8 M97.0 80.3 l-0.9 -0.6 l1.1 -0.3 l0.9 1.2 M79.7 76.3 l0.9 -0.7 l0.1 0.2 l1.0 0.7 M65.0 74.6 l1.1 -0.1 l-0.3 0.6 l0.1 -0.6 M78.3 76.0 l1.1 1.0 l-0.0 -0.3 l0.5 0.4 M41.9 81.6 l0.1 0.7 l-0.9 -0.1 l0.7 -0.3 M50.0 67.4 l-1.1 0.7 l-0.6 1.1 l-0.8 -0.1 M96.0 73.3 l-0.9 -0.6 l0.3 -0.3 l-0.4 -0.9 M59.1 63.9 l-0.7 -1.2 l0.9 -1.1 l-0.4 -1.0 M96.7 64.7 l-0.9 0.1 l0.6 0.9 l1.1 -1.0 M48.5 63.7 l-0.2 0.5 l0.0 -1.0 l1.0 0.9 M91.8 71.3 l1.1 1.1 l1.0 -0.2 l-1.0 0.6 M38.4 84.8 l-0.5 -1.2 l-1.0 -0.6 l0.6 0.6 M90.9 65.0 l0.1 0.0 l-0.2 0.2 l1.0 0.2 M38.0 80.5 l0.5 -0.6 l0.4 -0.3 l0.0 -0.6 M93.8 77.8 l0.0 0.4 l-0.6 -0.3 l-1.2 0.6 M71.2 89.6 l-1.2 0.1 l-0.8 0.9 l0.1 -1.2 M43.2 71.7 l0.9 -0.4 l1.0 0.2 l0.3 0.0 M48.3 74.4 l0.1 -0.1 l-0.9 1.0 l-0.4 0.3 M44.2 87.4 l0.0 -0.1 l-0.7 -0.9 l1.0 -0.3 M91.2 85.1 l-1.1 0.4 l0.8 -0.1 l0.5 -1.1 M57.1 68.2 l0.9 0.0 l0.4 -1.0 l-0.1 -0.3 M61.9 70.9 l-1.0 0.9 l0.6 0.5 l-0.1 0.6 M43.2 68.2 l0.9 -1.2 l0.1 -0.2 l1.0 0.3 M50.1 64.9 l-0.6 -0.6 l-1.2 -0.1 l0.9 -0.3 M54.2 79.8 l0.3 0.9 l-0.3 -0.9 l0.4 -0.5 M71.0 83.1 l0.6 -0.8 l0.1 1.0 l0.9 0.7 M70.7 71.2 l-1.1 0.8 l-0.7 -0.6 l0.1 0.6 M44.0 69.1 l-0.4 -0.1 l0.7 -0.8 l0.0 -1.1 M60.9 86.3 l-0.8 -0.8 l0.9 -0.2 l-1.2 0.6 M48.7 76.1 l-0.9 -0.2 l-1.0 0.2 l-0.8 -0.3 M89.3 76.4 l-1.2 -0.4 l0.3 -0.7 l0.8 -1.2 M68.9 84.1 l-1.0 -1.1 l1.0 1.1 l-0.2 0.7 M39.7 76.9 l-1.0 1.0 l-1.2 -0.4 l-0.7 -0.7 M78.3 76.2 l1.2 -0.1 l0.6 -0.8 l-0.4 0.3 M80.9 72.7 l0.4 -1.2 l-0.3 -0.9 l-0.5 0.9 M58.2 76.8 l0.5 -1.0 l-0.8 -0.1 l0.1 -0.8 M96.5 72.6 l-1.0 -0.2 l-1.2 -0.7 l0.7 -1.0 M48.8 75.3 l-0.6 1.0 l0.0 1.1 l-0.2 -0.7 M81.8 66.1 l-0.5 -0.8 l-0.5 0.5 l-0.4 -0.7 M54.6 72.6 l-1.1 0.8 l0.7 -1.2 l-0.5 0.8 M65.7 69.1 l-0.3 -0.6 l-0.1 0.5 l-0.5 -0.2 M75.1 64.7 l0.4 0.4 l1.2 0.8 l0.5 -0.4 M40.0 64.1 l-0.7 1.2 l1.2 -1.1 l-0.6 -1.1 M40.8 67.1 l-0.4 -0.9 l-0.4 -0.3 l0.0 -0.1 M57.6 70.1 l0.6 0.9 l-0.8 -0.2 l0.8 0.4 M90.9 72.5 l0.6 1.2 l-0.7 0.7 l-0.4 -1.2 M51.9 73.3 l0.4 -1.1 l-0.8 -0.1 l-0.7 -1.2 M87.0 76.2 l-1.0 -0.7 l-0.7 1.2 l0.8 -1.2 M96.5 79.7 l0.1 -0.1 l-1.1 0.6 l0.9 0.1 M44.9 66.8 l0.7 -1.1 l-0.5 -0.0 l-0.1 0.5 M54.1 80.9 l-1.1 -0.6 l1.1 -0.1 l0.6 -0.0 M65.5 71.4 l0.4 -1.2 l-0.1 0.5 l0.6 0.8 M96.6 85.8 l-0.5 -0.5 l-0.6 1.0 l-0.5 -0.5 M59.8 63.4 l1.2 -0.2 l-1.0 -0.0 l1.1 0.1 M40.8 80.2 l-0.4 -0.0 l-0.6 -0.9 l0.2 -0.9 M45.2 73.4 l-0.6 -0.0 l0.9 0.9 l-1.2 -0.3 M43.6 69.6 l0.3 0.3 l1.1 0.8 l0.1 -0.6 M52.8 65.2 l-0.8 -0.0 l-1.2 -1.2 l-0.5 -0.3 M74.1 84.6 l0.5 0.1 l-1.1 0.8 l0.1 -1.2 M82.4 81.3 l0.2 0.8 l0.9 0.7 l1.2 -0.9 M50.7 63.7 l-0.5 -0.6 l1.2 -1.2 l-0.7 -0.7 M70.8 73.7 l0.8 0.1 l-0.4 0.6 l-1.1 -0.6 M94.8 65.0 l0.6 -0.0 l-1.1 1.2 l-0.3 0.7 M61.8 78.5 l0.2 1.1 l1.2 1.1 l-0.5 -0.2 M53.4 72.0 l0.3 -0.3 l0.8 -0.5 l-0.1 1.1 M68.1 86.2 l0.2 -0.2 l-0.0 -1.0 l-0.4 0.6 M94.2 77.0 l0.2 0.5 l-0.4 0.1 l-0.3 -0.9 M75.8 82.8 l0.1 0.9 l-0.7 0.4 l0.6 0.3 M38.9 80.0 l0.2 0.1 l-0.1 1.2 l-0.5 1.2 M59.7 67.9 l-0.7 -0.4 l-1.2 -0.4 l-0.5 -1.0 M96.1 74.1 l-1.1 1.0 l0.6 -0.6 l0.8 -0.8 M71.5 64.8 l0.2 -0.0 l0.7 0.5 l0.6 0.9 M73.9 96.5 l-1.0 0.6 l-0.8 0.9 l-0.2 -1.0 M75.6 73.4 l1.0 0.7 l0.3 -0.1 l-1.1 -0.1 M84.8 75.0 l-1.0 0.1 l0.7 -0.5 l-0.1 1.2 M91.4 72.3 l0.5 -0.0 l-0.8 -0.7 l-0.0 -0.9 M71.2 84.7 l0.1 -0.1 l-0.4 1.2 l0.4 -0.0 M95.1 70.1 l-0.1 0.7 l-0.6 -0.2 l0.4 1.0 M51.9 75.8 l1.0 -0.6 l-0.1 -0.4 l0.6 -0.2 M54.3 63.7 l-0.4 0.7 l-0.4 0.9 l1.0 -1.2 M43.8 77.0 l-0.6 0.6 l-0.8 -0.5 l0.1 0.1 M83.4 78.0 l0.6 0.7 l0.4 -0.5 l-1.2 1.0 M88.6 67.4 l0.8 -0.6 l-0.6 -0.9 l-0.3 0.5 M70.5 74.6 l0.7 0.1 l-0.7 1.2 l0.9 -0.9 M57.3 63.1 l-0.8 -0.9 l-1.2 -1.0 l-0.4 1.2 M83.2 69.3 l0.6 -0.9 l-0.6 -0.9 l-0.4 0.3 M58.1 95.2 l-0.2 1.1 l1.1 -0.6 l0.2 1.1 M49.3 67.2 l1.0 -0.8 l0.0 0.2 l0.5 1.2 M38.9 74.0 l-0.0 -0.4 l-0.5 -1.0 l0.0 0.6 M90.7 77.6 l0.6 0.5 l0.6 -0.7 l0.4 0.7 M82.6 69.2 l0.4 -0.6 l0.3 -0.5 l0.1 0.7 M84.1 85.6 l0.5 -0.9 l-0.4 0.6 l-0.7 -0.8 M65.9 68.9 l0.9 0.6 l-0.8 -0.4 l-0.0 -1.1 M48.7 90.7 l0.6 -0.9 l-0.1 -0.9 l0.5 1.2 M85.3 97.4 l1.1 0.5 l1.1 0.6 l0.8 0.0 M79.2 97.8 l0.2 0.1 l-0.1 0.1 l-0.4 -0.8 M72.6 92.3 l-0.7 0.1 l-0.8 0.9 l0.6 -0.3 M40.9 87.5 l-0.0 1.2 l-0.3 0.5 l-0.6 1.1 M84.5 89.2 l-0.7 1.1 l0.7 -0.6 l0.1 -0.8 M50.7 86.0 l1.0 -1.2 l-0.5 -1.0 l1.0 0.8 M45.5 80.2 l0.3 -0.6 l-0.6 0.6 l-0.1 1.2 M95.3 79.0 l0.8 0.0 l1.0 1.2 l-0.3 -0.1 M53.1 69.4 l0.1 -0.6 l0.2 -0.8 l0.6 0.6 M90.4 68.6 l-0.9 -1.2 l-1.0 0.9 l-0.4 0.2 M89.0 68.6 l1.1 -0.3 l-0.5 0.3 l1.1 0.5 M75.9 71.7 l-0.8 -0.3 l-0.9 0.8 l0.5 0.1 M84.4 81.1 l0.3 -1.2 l-0.3 -1.0 l0.3 -0.7 M77.9 71.7 l0.6 -0.5 l-0.6 -1.2 l0.2 -0.3 M60.4 63.7 l0.9 0.7 l1.1 -0.4 l-0.9 -0.2 M55.8 79.4 l-0.9 -0.8 l0.2 -0.4 l-0.5 -1.2 M65.9 70.4 l0.5 -0.1 l0.0 -1.1 l1.1 -0.7 M78.0 71.0 l-0.2 -0.3 l0.6 0.5 l1.2 1.2 M73.9 96.9 l0.2 -0.2 l0.9 0.5 l1.1 -0.9 M47.4 65.9 l-1.2 -0.4 l0.6 -0.4 l0.7 0.9 M66.0 65.7 l0.7 -0.2 l0.3 -0.4 l-1.2 0.1 M71.4 84.0 l0.2 -0.6 l1.0 -0.6 l0.4 0.7 M93.9 70.6 l0.3 1.1 l-0.7 0.0 l-0.4 0.9 M50.1 91.8 l-1.0 0.5 l0.0 -0.3 l1.2 -0.3 M58.2 70.8 l0.1 -1.1 l0.3 0.3 l1.1 1.2 M71.1 67.3 l0.9 -0.2 l-0.4 0.3 l-0.2 -0.1 M55.9 87.6 l0.9 0.4 l0.8 -1.0 l-0.5 -0.7 M68.0 72.3 l0.1 -0.6 l0.9 0.9 l0.5 -0.7 M80.2 64.0 l0.6 -0.2 l0.8 -0.2 l0.1 0.5 M90.6 68.6 l-0.8 1.1 l-0.2 -0.6 l-1.2 0.8 M90.6 64.1 l-0.8 0.9 l1.1 0.5 l-1.1 -0.2 M90.5 89.5 l-0.8 -0.7 l-0.2 1.2 l-0.5 0.8 M54.4 89.0 l0.2 0.2 l-0.8 0.9 l-0.7 -0.9 M89.8 82.1 l0.9 -0.3 l-0.0 0.0 l-1.0 -1.2 M73.2 75.9 l-0.6 -0.7 l-0.9 0.9 l0.0 0.9 M79.2 81.9 l0.3 -0.5 l0.8 0.1 l0.3 -0.2 M60.1 78.6 l0.3 0.2 l0.7 0.6 l0.7 0.2 M58.5 64.4 l-0.6 -0.4 l0.9 0.3 l-0.6 0.2 M94.6 64.6 l-1.2 -0.5 l-0.7 1.0 l-0.6 -0.3 M50.1 81.7 l1.0 0.3 l0.4 0.3 l0.2 -0.7 M88.8 67.2 l0.5 0.9 l0.8 0.2 l0.8 0.6 M77.1 67.6 l-0.2 0.5 l-0.8 -0.4 l-0.7 -1.1 M51.2 93.7 l1.2 -0.3 l1.0 -0.7 l0.8 0.9 M89.1 87.9 l0.5 -0.4 l1.1 -1.1 l1.2 0.6 M61.3 68.5 l0.7 -1.1 l-0.0 -0.2 l0.6 1.0 M89.2 89.2 l0.4 -0.5 l0.9 -0.1 l0.3 0.9 M37.4 79.7 l0.3 -1.2 l-0.5 -1.1 l-1.2 0.3 M81.9 65.8 l1.0 -1.1 l0.1 -0.1 l-0.3 -0.8 M78.6 68.6 l0.7 -0.6 l-1.1 0.0 l0.0 0.3 M83.6 75.0 l-0.2 1.1 l0.4 -0.6 l0.6 1.1 M61.5 69.4 l0.0 0.2 l0.9 -1.0 l0.0 1.1 M66.3 70.5 l-0.0 0.1 l-0.0 -0.7 l-0.1 -0.7 M96.1 81.3 l0.4 0.0 l0.3 -1.1 l-0.9 0.5 M96.0 83.7 l0.8 0.5 l-0.3 0.2 l-0.2 0.6 M86.8 83.8 l0.8 -0.9 l-0.4 0.0 l-0.9 -1.0 M42.9 67.3 l1.1 -0.8 l-0.8 0.1 l-0.7 -1.2 M92.8 66.6 l-0.6 -0.0 l0.0 -0.0 l-0.7 1.1 M96.0 72.9 l0.9 -0.1 l0.6 -0.6 l1.0 -0.6 M47.0 72.0 l0.9 0.2 l-0.7 1.2 l0.9 1.0 M41.5 79.6 l0.3 0.4 l-0.2 0.9 l-0.4 1.0 M68.3 70.9 l-0.4 1.1 l-0.0 0.7 l1.0 0.1 M42.4 65.6 l-0.5 -0.0 l0.3 0.9 l0.5 -1.1 M71.7 63.6 l0.5 -0.6 l1.0 0.3 l-0.4 -1.0 M48.7 67.3 l-0.7 0.4 l-0.5 -0.2 l-0.6 -1.0 M81.1 79.7 l-1.0 1.1 l-0.7 0.1 l-0.1 0.7 M90.9 72.5 l-0.5 -0.7 l-0.6 0.1 l0.9 -0.6 M43.6 71.2 l-0.4 0.0 l-0.0 -0.3 l-0.8 0.2 M93.8 69.0 l-0.1 -1.1 l0.5 -1.2 l-0.2 -0.2 M44.0 81.6 l-0.8 -0.2 l0.8 -0.5 l-0.2 -0.2 M56.7 94.7 l-0.8 -0.1 l1.2 -0.8 l0.2 -0.6 M82.1 69.0 l-0.4 0.1 l-1.0 -0.2 l-0.5 -0.8 M88.3 84.0 l-0.6 0.2 l-0.6 -0.7 l0.5 -0.2 M47.8 79.5 l0.8 1.2 l0.3 -0.8 l-1.1 0.2 M60.4 80.2 l-0.4 0.2 l-0.4 0.6 l0.9 0.3 M88.2 79.9 l-0.6 1.1 l1.2 1.2 l0.6 1.1 M73.3 63.0 l0.2 -0.6 l-1.2 0.8 l0.4 1.0 M65.1 98.4 l-0.4 0.1 l0.3 0.6 l-0.7 -0.8 M37.3 82.7 l1.2 -1.1 l-0.1 -1.0 l1.2 1.0 M43.2 75.7 l0.5 -0.8 l1.2 1.2 l-0.2 -0.1 M91.9 81.5 l0.9 1.1 l-0.9 0.6 l-0.2 -0.7 M89.9 84.6 l-0.5 1.0 l-0.3 -0.0 l-1.2 -0.1 M93.3 75.9 l1.2 -0.4 l-1.0 -0.9 l0.8 -0.4 M45.9 67.6 l-1.2 -1.2 l-0.5 0.1 l0.6 -0.7 M52.6 69.4 l-0.1 0.1 l0.7 -1.2 l-0.9 -1.0 M64.6 70.4 l0.9 -0.7 l0.7 0.5 l0.9 0.1 M59.2 76.1 l0.3 0.2 l-1.0 0.8 l-1.0 -0.0 M53.6 67.6 l-0.9 0.8 l1.0 0.2 l1.0 -1.0 M69.1 74.7 l-1.1 -1.1 l-0.8 0.8 l0.8 -0.4 M67.9 86.7 l-0.0 -0.2 l1.1 -0.3 l0.3 1.1 M54.3 67.4 l1.0 1.2 l-0.7 -0.7 l0.1 -0.9 M49.7 88.1 l0.9 -0.3 l-0.6 0.8 l-0.7 1.2 M88.7 68.1 l-0.2 0.2 l1.1 1.0 l-0.5 1.2 M80.9 87.9 l0.6 -0.2 l0.0 0.9 l-1.1 1.0 M48.2 68.4 l0.2 0.5 l0.8 -1.0 l-0.3 -0.6 M49.6 85.9 l-0.3 0.7 l0.7 0.7 l0.7 -1.2 M92.0 63.1 l-0.5 0.4 l0.7 -1.1 l0.3 -0.9 M81.2 79.9 l0.9 0.7 l0.5 0.3 l-1.1 -1.1 M58.5 98.6 l-0.5 -0.5 l1.1 -0.2 l0.8 -0.3 M43.1 84.7 l1.2 0.2 l0.0 -1.1 l-1.1 1.0 M68.2 76.9 l-0.3 -0.6 l-0.9 -0.9 l-1.0 1.1 M73.4 78.3 l-0.8 1.0 l-0.7 -0.9 l0.3 -0.8 M88.7 67.8 l0.9 1.1 l-0.2 0.3 l0.2 0.2 M43.5 72.3 l-0.8 -0.1 l1.1 0.7 l-1.2 0.2 M50.0 70.0 l-0.6 0.0 l1.2 1.1 l0.2 -0.6 M78.8 63.1 l-0.6 0.9 l-0.8 0.1 l0.5 -1.2 M89.2 83.0 l-1.0 -0.1 l0.6 0.2 l-1.2 -0.3 M87.6 78.9 l-1.1 0.6 l-0.5 -0.0 l0.8 0.8 M68.2 80.7 l-0.5 0.4 l0.9 0.3 l-0.9 1.0 M70.0 81.8 l1.1 -0.5 l-0.4 1.2 l-0.5 1.2 M49.9 81.6 l-0.5 -1.1 l-0.7 0.7 l0.6 -0.9 M90.5 67.9 l-0.3 -0.0 l-1.2 -0.2 l-0.7 0.5 M94.6 78.7 l-0.4 0.7 l-0.4 -0.4 l0.7 0.9 M38.7 76.1 l0.7 -0.2 l0.6 -0.8 l0.3 0.2 M39.6 67.0 l0.9 -0.0 l0.4 -0.7 l-0.5 -0.3 M95.1 87.7 l0.7 0.2 l-0.2 0.9 l-0.5 0.8 M88.8 71.7 l0.0 -0.9 l0.7 1.1 l0.5 -0.0 M83.8 84.8 l0.1 -0.0 l-0.6 -0.3 l-0.4 0.2 M44.7 71.8 l1.2 -0.7 l-1.1 0.1 l-0.4 1.2 M77.6 83.8 l0.4 0.5 l-1.1 -0.3 l0.3 0.8 M82.1 81.0 l0.4 -0.9 l1.1 0.0 l0.3 -0.7 M92.0 69.2 l-0.2 1.1 l0.7 -1.1 l0.2 0.1 M36.7 75.1 l1.1 0.1 l0.5 0.8 l0.7 -0.3 M46.0 66.6 l-0.5 1.0 l0.2 0.7 l-1.2 1.2 M43.5 78.5 l0.5 0.4 l0.5 -0.5 l0.5 0.5 M44.4 85.7 l1.1 0.9 l0.2 -1.2 l1.1 0.9 M77.5 75.1 l-1.1 0.9 l-0.2 0.3 l-0.5 -0.4 M79.9 71.1 l0.9 -0.9 l0.8 -0.1 l0.7 1.0 M48.3 64.7 l-0.5 0.4 l1.2 0.9 l0.4 -1.2 M96.4 73.8 l1.1 -0.1 l0.1 0.2 l-0.3 -1.0 M88.3 69.9 l0.2 0.9 l-1.2 0.9 l0.3 -0.2 M71.8 65.3 l-0.9 0.0 l-1.2 0.1 l1.1 -0.8 M55.1 67.0 l0.7 -0.6 l-1.0 0.6 l-0.2 0.3 M91.3 79.6 l0.6 -1.2 l-0.5 -0.4 l1.2 0.3 M54.6 75.4 l-1.0 0.1 l-0.1 0.8 l-0.1 0.1 M79.3 72.5 l-0.4 0.6 l-1.2 0.3 l-0.4 0.6 M82.9 83.4 l0.3 -0.8 l0.2 1.2 l-0.5 -0.5 M75.5 88.3 l-0.1 0.6 l0.7 1.1 l1.1 -0.9 M82.6 64.6 l0.3 0.9 l0.9 -0.5 l-1.0 -0.7 M94.0 88.3 l-0.7 0.6 l0.4 0.7 l-0.3 1.0 M68.3 82.7 l0.5 -1.2 l-0.9 -0.6 l0.7 -1.1 M56.0 84.4 l0.1 -0.7 l-0.4 0.6 l1.0 -1.1 M87.9 77.2 l-0.0 0.5 l0.8 0.0 l0.6 0.7 M71.3 75.9 l-0.8 -0.2 l0.6 0.5 l-0.8 0.1 M58.3 84.3 l1.1 1.2 l1.1 -1.0 l1.2 0.9 M82.5 73.5 l0.1 -0.1 l1.2 -0.8 l-0.0 0.9 M80.8 64.4 l0.8 0.1 l-0.4 0.2 l-0.7 -0.4 M78.7 74.1 l-0.4 0.7 l0.1 0.1 l0.5 -0.8 M78.0 68.2 l-1.1 1.1 l1.1 -0.2 l-0.5 -0.5 M40.5 76.0 l1.2 -0.9 l-0.9 1.1 l0.8 -0.4 M39.4 75.2 l1.2 1.2 l-0.7 0.8 l0.5 -0.7 M68.8 70.7 l1.1 -0.3 l-0.7 -0.5 l-0.7 1.0 M55.1 63.9 l0.5 0.3 l-0.1 0.8 l0.9 0.0 M69.3 70.8 l-0.3 0.4 l1.1 0.5 l1.2 1.0 M39.5 72.6 l-1.2 0.4 l-0.9 0.8 l-0.3 0.1 M65.6 84.8 l-0.5 0.7 l-0.4 0.5 l-0.3 0.6 M64.7 68.1 l-0.1 -0.3 l-0.3 -0.9 l0.9 1.1 M56.5 71.9 l-0.4 -0.3 l0.1 -0.1 l0.4 -0.2 M68.4 81.0 l-0.2 -0.7 l-0.6 -0.4 l1.0 -0.7 M91.7 89.3 l0.3 0.3 l0.5 -0.7 l0.9 -0.2 M90.3 80.2 l0.6 0.8 l-0.7 0.9 l0.7 -0.9 M75.7 78.9 l0.8 1.0 l0.4 -0.9 l-1.1 -0.9 M74.7 92.9 l0.8 -0.9 l1.1 1.0 l-0.7 1.2 M41.3 73.8 l-0.7 0.7 l-0.5 0.7 l-0.2 0.0 M80.1 82.0 l-0.4 0.9 l-0.6 0.0 l-0.9 0.0 M46.3 73.9 l-1.1 -1.0 l1.2 -0.4 l1.2 -1.2 M76.4 65.5 l1.0 1.2 l0.5 0.4 l-0.7 1.0 M58.8 67.5 l-1.1 -0.9 l-0.2 1.1 l1.1 -1.0 M87.0 69.3 l-0.7 -0.6 l0.6 -0.2 l-0.6 -1.1 M38.9 77.9 l0.0 0.3 l-0.4 -0.3 l-1.1 0.2 M46.7 70.7 l1.0 -0.5 l-1.0 0.9 l-0.3 -0.4 M84.6 64.0 l-1.1 0.9 l0.9 -0.6 l-0.7 0.9 M59.7 70.9 l-1.2 -0.9 l-1.0 -0.9 l0.8 -0.1 M62.7 73.5 l-0.5 0.7 l-0.4 -0.5 l-0.4 0.8 M58.6 86.0 l0.8 0.1 l-1.0 -0.6 l0.7 -1.0 M90.5 80.3 l0.2 -0.4 l-0.4 -1.2 l0.2 -1.1 M64.7 87.2 l1.2 -0.5 l0.5 -1.0 l-0.1 -0.1 M61.8 70.7 l0.3 1.1 l0.6 0.7 l1.2 -0.6 M90.8 65.8 l-1.0 -0.9 l1.0 -1.2 l-0.8 0.3 M67.5 82.8 l-0.3 1.0 l-0.4 -0.1 l-0.3 -0.8 M46.1 87.9 l-0.7 -0.7 l-0.5 -0.8 l0.2 -0.8 M45.9 88.2 l0.1 0.6 l1.1 0.4 l-0.5 -0.6 M44.6 81.2 l0.5 -0.6 l-0.8 -1.0 l-0.3 0.7 M87.4 97.9 l-0.9 1.1 l-1.1 0.3 l0.6 0.6 M56.9 64.4 l-1.2 -0.4 l0.9 1.0 l1.2 0.1 M84.6 80.5 l-0.7 -0.7 l-0.9 0.9 l0.7 0.8 M81.2 65.1 l-0.6 -0.1 l1.1 1.2 l0.1 -0.0 M74.0 70.4 l0.1 1.1 l1.2 -0.3 l0.3 -0.3 M83.3 74.8 l1.0 0.6 l0.5 0.4 l-1.2 0.5 M73.7 68.8 l-0.5 0.4 l-0.3 -1.2 l-0.9 -1.2 M61.3 80.0 l-0.1 0.2 l1.0 -1.2 l-0.6 -1.0 M80.1 70.7 l-0.2 -1.0 l1.0 -0.7 l-0.1 -0.4 M79.8 77.7 l0.4 1.2 l-0.4 0.1 l-0.8 0.7 M84.5 80.9 l-0.2 -0.3 l1.2 -0.7 l1.2 -0.5 M56.2 75.3 l0.2 -1.0 l0.5 0.8 l-0.6 -0.8 M92.5 68.7 l0.6 -0.2 l-0.8 -0.8 l-0.3 -0.4 M50.2 85.1 l-0.6 -1.2 l-0.2 -1.0 l0.4 -1.1 M73.6 69.3 l1.0 -0.6 l-0.8 0.5 l0.5 -0.3 M96.3 67.5 l-0.3 1.2 l-0.3 -1.2 l-0.7 0.5 M92.9 85.8 l1.1 0.2 l-0.2 1.2 l1.1 0.8 M63.4 84.0 l0.5 0.3 l1.1 -0.0 l-0.3 0.2 M63.6 93.3 l-1.1 1.2 l0.6 0.9 l-1.0 -0.2 M42.5 78.0 l0.4 0.5 l0.8 -0.8 l0.2 0.9 M72.7 89.6 l-1.0 1.0 l0.8 1.2 l0.1 -1.2 M50.0 83.6 l0.5 0.7 l0.2 0.2 l-1.1 -0.5 M86.1 97.6 l-0.0 -0.9 l-1.2 -1.2 l0.5 -0.5 M76.7 90.0 l1.2 1.2 l-0.2 -1.0 l-0.5 -1.0 M73.7 75.6 l0.1 -0.6 l0.0 -0.4 l-0.7 -0.4 M82.4 67.3 l-0.0 -0.5 l-0.5 -0.7 l-0.8 0.5 M85.1 82.0 l-1.2 -1.1 l1.2 -1.2 l0.1 0.1 M40.2 84.7 l0.4 -0.8 l-0.8 -0.7 l-0.3 1.0 M56.0 68.5 l-0.3 -0.7 l-0.6 0.6 l-0.4 0.8 M85.9 86.7 l-1.0 1.0 l0.1 -0.6 l-0.5 0.1 M48.9 64.8 l0.8 -0.0 l1.0 1.0 l0.2 -0.3 M54.2 65.9 l-1.0 -0.4 l1.2 -0.1 l-0.9 -0.6 M49.7 85.7 l-1.1 1.2 l-0.5 0.1 l1.0 1.2 M43.5 81.2 l-0.1 -0.2 l0.9 -0.8 l-0.9 1.2 M48.3 81.4 l0.1 0.9 l0.4 0.4 l-0.6 0.2 M52.3 90.2 l1.1 -0.4 l-0.8 0.2 l-0.0 0.6 M57.3 72.2 l-0.6 0.0 l-0.0 1.2 l-0.3 0.8 M41.6 66.0 l-0.1 1.2 l0.6 0.8 l-0.5 -0.4 M51.7 86.6 l0.1 -0.6 l0.9 -0.7 l-0.5 -1.1 M42.3 68.3 l-1.1 1.1 l-0.7 -0.7 l0.4 0.0 M56.5 84.1 l-0.9 -0.3 l1.2 -0.4 l-0.9 0.5 M83.4 85.7 l-0.7 1.2 l-1.2 0.6 l0.5 -0.8 M78.5 86.4 l-0.8 -0.3 l1.0 0.5 l-0.6 0.4 M62.2 98.9 l-0.8 1.1 l-1.0 -1.0 l0.5 -1.1 M65.6 72.1 l-0.1 0.9 l-0.5 -0.2 l0.8 0.8 M80.7 81.3 l0.8 -1.1 l0.8 -0.6 l0.6 -0.8 M48.3 75.0 l-1.2 1.0 l0.4 0.4 l1.0 1.2 M56.0 85.1 l0.9 -0.2 l-0.5 0.2 l-0.1 0.1 M87.3 88.7 l0.3 -0.7 l-1.0 0.5 l1.0 0.1 M75.5 84.7 l-0.8 0.7 l-0.3 0.7 l0.8 0.2 M96.9 75.3 l0.2 1.2 l0.3 -1.0 l0.1 -0.5 M91.7 86.3 l0.2 -0.9 l0.5 1.1 l-0.9 -0.3 M78.0 92.7 l-0.9 -0.5 l-1.0 -0.9 l-0.1 0.5 M49.3 77.5 l-0.7 -1.2 l-0.7 0.1 l-1.2 0.6 M96.8 77.2 l0.7 -1.2 l0.4 -0.4 l1.0 0.6 M40.3 76.9 l-1.1 0.1 l1.1 0.3 l-1.0 0.2 M94.8 76.7 l0.8 0.8 l-0.2 0.9 l0.7 0.5 M66.6 62.9 l0.5 -0.0 l0.6 -1.2 l0.0 -0.2 M74.1 78.1 l-0.4 -0.6 l-0.2 -0.4 l-0.2 -0.2 M88.6 76.9 l-0.8 -1.0 l0.3 -0.3 l1.2 -0.8 M91.5 75.0 l-0.1 1.2 l0.5 0.7 l-1.1 -1.0 M54.7 75.9 l0.2 -1.0 l-0.4 0.5 l-0.5 0.1 M93.5 83.8 l1.0 0.9 l1.1 0.9 l0.7 -0.6 M56.5 84.6 l-0.2 -0.3 l-0.8 -1.0 l0.6 0.9 M77.9 74.7 l-0.8 -0.5 l-0.2 0.3 l0.7 -1.0 M51.9 75.5 l0.3 0.5 l1.2 0.1 l0.9 1.1 M45.3 68.7 l1.2 0.3 l0.4 0.5 l1.0 0.7 M71.5 79.6 l0.5 -0.1 l-0.8 0.6 l-1.2 0.8 M44.0 76.4 l1.1 -0.3 l0.3 -0.6 l-0.4 -0.6 M92.3 83.9 l0.1 0.8 l0.6 -0.2 l0.6 1.0 M61.1 83.5 l0.6 1.1 l-1.1 -0.4 l1.2 1.2 M54.2 82.3 l-1.1 -0.5 l-0.8 1.1 l-0.0 -0.0 M40.3 65.0 l-0.1 1.0 l1.2 0.1 l-1.2 1.2 M76.9 77.6 l0.9 -0.8 l-0.1 -1.1 l-0.5 0.4 M55.1 73.5 l-1.1 -0.1 l0.9 -0.0 l-0.9 -0.2 M82.4 95.5 l1.0 0.1 l-0.1 0.9 l0.8 1.2 M59.0 92.7 l-0.8 -0.7 l0.8 0.1 l-0.8 1.0 M75.3 67.0 l-0.0 -0.7 l0.4 -0.8 l0.5 -1.2 M90.0 66.1 l0.6 -0.5 l-0.4 -0.9 l-0.3 -0.2 M52.0 67.3 l-0.7 -0.1 l-0.8 0.4 l0.4 -0.5 M46.3 64.7 l-0.1 0.8 l-0.9 1.2 l-0.7 0.3 M71.4 81.6 l0.6 0.3 l1.1 -0.7 l-1.1 -0.7 M69.7 68.7 l-1.0 0.2 l-0.3 0.2 l1.2 1.2 M50.0 87.8 l-0.5 0.9 l0.9 0.6 l0.4 1.2 M83.2 70.0 l0.4 -1.0 l0.2 -1.1 l0.8 1.2 M59.3 87.5 l-0.3 -0.8 l-0.4 0.1 l-1.0 -0.8 M89.2 67.0 l0.1 -0.7 l0.9 0.6 l-0.7 -0.5 M46.8 76.8 l0.9 -0.2 l-0.5 -0.0 l-0.4 -0.6 M47.5 64.8 l1.2 0.2 l0.8 1.0 l-1.0 -0.2 M57.1 85.9 l1.1 -0.7 l0.1 -1.2 l-0.4 0.5 M71.6 87.9 l0.7 -0.1 l-0.1 -0.9 l-0.1 0.9 M94.1 75.8 l0.7 -1.0 l-0.6 -0.8 l-0.6 -0.8 M58.5 70.7 l-0.9 0.5 l-0.6 0.7 l-0.7 1.0 M46.4 70.4 l0.5 0.3 l-0.2 1.1 l-0.2 0.9 M45.9 84.1 l1.0 -1.0 l-0.1 -0.5 l-0.0 0.7 M52.1 67.6 l-0.4 -0.3 l-0.5 -1.0 l-0.4 -0.0 M48.7 85.6 l-0.5 -0.1 l0.6 -0.5 l0.2 1.1 M46.1 66.0 l0.4 -0.0 l-0.1 -0.0 l-0.0 -1.1 M82.2 74.5 l1.1 -0.8 l-0.4 0.3 l0.2 1.2 M76.7 73.8 l-0.8 1.1 l-0.5 -0.6 l1.2 -0.1 M48.2 87.1 l0.5 1.1 l0.8 -0.5 l0.2 0.1 M61.8 69.2 l0.9 0.9 l-0.7 0.6 l-0.1 0.3 M80.6 72.0 l-1.1 -0.4 l1.2 -0.2 l-0.7 0.1 M88.4 83.1 l0.1 0.5 l-0.1 -0.6 l0.3 -1.1 M57.5 79.8 l0.3 0.8 l-0.9 -0.7 l1.1 0.4 M64.4 95.8 l1.2 0.5 l0.8 -0.3 l0.7 -0.0 M94.4 75.7 l-1.2 -1.1 l-0.6 -0.3 l-0.6 0.3 M96.3 65.7 l-0.8 -0.3 l0.0 0.8 l-0.7 -1.0 M96.7 67.1 l1.2 -0.3 l-1.1 0.6 l-1.0 -0.5 M52.6 63.5 l-0.2 0.2 l-0.2 -1.1 l0.1 -0.1 M52.8 73.4 l0.4 -1.2 l-0.5 1.2 l-1.2 -0.9 M54.4 68.4 l1.0 1.2 l-0.7 0.9 l0.3 0.6 M95.8 70.0 l-0.0 0.4 l0.2 0.2 l-1.0 0.5 M59.9 85.1 l-1.0 -0.4 l-1.0 0.7 l0.8 -1.2 M91.0 80.1 l1.2 -0.8 l0.2 -0.3 l0.7 0.3 M69.6 106.4 l0.3 1.3 M67.7 102.2 l-0.5 2.1 M66.3 94.9 l-0.1 2.1 M69.5 91.0 l-0.1 2.3 M70.9 103.1 l-0.1 1.7 M67.4 103.3 l0.4 2.5 M64.7 115.8 l0.2 1.7 M71.7 96.6 l0.1 1.5 M65.7 99.4 l0.3 1.6 M67.9 92.4 l0.1 2.2 M66.8 96.7 l-0.2 2.0 M72.2 104.9 l0.2 1.4 M65.5 109.6 l0.5 2.0 M68.4 102.2 l-0.3 1.9 M70.5 116.3 l-0.0 2.4 M66.4 98.1 l0.1 2.0 M66.2 96.3 l-0.2 2.1 M67.4 108.0 l0.4 2.2 M66.7 95.7 l-0.3 1.3 M67.8 106.6 l0.1 1.4 M67.0 103.1 l0.4 1.6 M70.8 88.1 l-0.0 1.4 M69.0 91.9 l-0.3 1.6 M68.5 93.8 l0.5 2.5 M65.6 117.6 l0.2 1.4 M66.9 95.4 l0.2 2.4 M66.0 96.4 l-0.1 1.5 M51.5 86.7 l0.2 1.0 l-0.7 -0.7 M56.3 85.6 l0.7 -0.0 l0.2 0.6 M48.2 93.2 l-0.5 0.8 l1.0 -0.4 M52.1 87.6 l0.9 0.5 l-0.6 0.1 M54.9 86.2 l-0.5 0.5 l-0.7 0.8 M56.8 87.1 l0.2 0.4 l-0.6 -0.7 M47.7 92.3 l0.5 1.1 l0.1 0.4 M58.5 87.8 l1.0 -0.5 l0.1 0.2 M54.9 85.1 l-0.8 1.0 l0.5 -0.7 M44.1 101.6 l-1.1 -0.1 l0.6 0.2 M52.8 86.8 l-0.7 0.8 l0.8 0.6 M42.2 101.5 l-0.8 0.6 l1.0 -0.9 M56.7 86.1 l0.1 -0.2 l-1.0 0.6 M49.7 89.0 l0.9 0.1 l-0.1 -1.0 M38.0 100.1 l-0.8 -0.5 l0.5 -0.5 M43.6 100.4 l-0.9 0.4 l-0.0 -0.6 M55.0 85.4 l-0.4 -1.1 l-0.6 -0.8 M49.5 91.2 l0.6 0.1 l-0.6 0.4 M39.3 100.8 l0.8 0.2 l0.9 -0.9 M45.4 98.1 l0.8 -0.0 l0.7 -0.2 M55.7 86.8 l-0.2 0.7 l-0.8 1.0 M54.7 85.6 l0.6 0.3 l0.5 0.1 M53.4 84.5 l1.1 0.4 l0.9 1.0 M56.0 85.8 l0.6 0.5 l-0.6 -1.0 M38.7 99.1 l-0.2 0.4 l-0.9 0.2 M40.8 101.3 l-1.0 0.3 l0.4 -0.8 M45.4 97.0 l0.1 1.0 l0.9 -0.8 M50.6 91.0 l-0.1 0.6 l-0.1 -0.9 M53.1 87.3 l0.4 0.7 l1.1 0.7 M46.8 97.0 l0.2 -0.6 l0.0 -0.7 M37.7 99.9 l0.6 -0.8 l0.1 -0.9 M41.5 101.9 l-0.8 -0.3 l-1.1 0.7 M45.1 99.1 l-0.9 0.5 l-1.1 -0.0 M39.7 100.9 l-0.0 0.9 l-0.8 0.4 M50.8 89.6 l-0.4 -1.0 l-0.5 -0.2 M50.6 89.9 l-0.1 -0.9 l0.6 -0.2 M47.5 95.7 l-0.2 -0.5 l0.3 -0.3 M40.3 100.5 l-0.3 -0.2 l0.6 0.9 M55.5 85.9 l-0.8 -0.7 l-0.5 -0.3 M55.9 86.0 l1.0 -0.4 l0.9 -0.2 M47.2 96.7 l0.6 0.9 l0.1 -0.4 M50.1 90.0 l-0.6 -0.6 l1.0 0.9 M43.9 100.2 l0.5 1.1 l-0.4 1.1 M53.0 86.1 l0.6 0.7 l-0.3 -0.3 M61.6 117.3 l0.5 -1.8 M53.9 117.8 l-0.6 -0.7 M59.7 116.4 l0.4 -1.6 M40.6 115.2 l0.4 -1.4 M86.0 115.9 l0.5 -1.3 M64.5 116.8 l-0.2 -1.5 M58.4 116.6 l0.2 -1.5 M88.8 116.3 l-0.7 -1.7 M80.3 116.1 l-0.5 -0.6 M96.7 115.3 l-0.7 -1.3 M48.0 117.2 l-0.3 -1.7 M42.4 115.1 l-0.7 -1.0 M80.9 118.2 l-0.5 -1.2 M89.2 117.1 l-0.4 -1.4 M44.1 116.1 l-0.4 -0.8 M64.7 117.9 l-0.6 -0.6 M57.1 117.7 l-0.4 -0.8 M89.6 117.9 l0.6 -1.3 M46.2 115.5 l-0.5 -1.4 M42.2 117.5 l0.6 -1.3 M54.8 117.6 l0.7 -1.0 M57.0 115.0 l-0.3 -1.0 M76.0 114.6 l0.7 -0.6 M84.1 117.3 l0.7 -1.2 M81.4 115.9 l0.6 -0.5 M64.2 115.6 l-0.4 -1.2 M59.0 115.2 l-0.1 -0.8 M69.7 117.1 l0.3 -1.5 M61.5 115.2 l0.2 -0.6 M68.2 118.0 l-0.4 -1.4 M73.3 117.7 l-0.0 -0.5 M50.5 118.3 l-0.1 -0.6 M52.6 115.9 l-0.1 -1.2" fill="none" stroke="#a9a9a9" stroke-width="0.55" stroke-linecap="round"/>
<path d="M81.1 92.9 l0.4 1.1 M83.0 96.5 l-0.2 2.4 M81.7 96.1 l0.3 2.2 M80.9 97.3 l0.3 1.1 M84.0 102.1 l0.1 1.7 M78.9 99.9 l-0.3 2.0 M83.8 99.8 l-0.3 1.1 M82.0 104.0 l0.0 1.2 M82.4 99.3 l-0.0 1.7 M82.7 110.5 l-0.1 1.8 M81.6 92.2 l0.2 2.4 M83.0 97.6 l-0.2 1.2 M78.8 107.1 l0.1 1.3 M78.5 108.1 l0.2 2.0 M81.3 102.7 l-0.3 1.2 M79.6 105.5 l-0.1 2.2 M79.6 98.6 l0.2 1.6 M83.5 99.5 l0.1 2.3 M84.0 107.8 l0.2 1.9 M84.3 100.9 l-0.2 1.0 M82.6 99.9 l-0.3 1.3 M83.3 99.3 l-0.1 2.3 M84.4 111.1 l-0.2 2.0 M77.7 113.7 l-0.2 2.3 M82.9 97.3 l0.1 2.3 M84.1 111.6 l-0.3 1.7 M83.3 115.2 l0.4 1.5 M83.1 113.5 l0.4 1.9 M83.8 113.8 l0.2 1.1 M79.4 110.2 l0.4 1.8 M78.2 107.2 l-0.1 1.6 M82.3 113.3 l0.0 2.4 M83.7 109.8 l-0.2 1.2 M79.0 109.2 l-0.2 1.3 M83.0 101.1 l-0.1 1.5 M82.2 98.5 l-0.3 1.2 M81.8 103.1 l-0.0 1.5 M84.8 104.6 l0.1 2.1 M80.7 94.3 l0.3 1.2 M85.4 114.4 l-0.0 1.7 M81.1 108.2 l-0.4 2.2 M80.8 92.2 l-0.2 1.5 M80.6 104.7 l-0.3 1.7 M82.0 104.2 l-0.3 1.8 M81.7 99.5 l0.3 1.3 M80.8 105.7 l-0.3 1.5 M83.1 92.7 l0.0 2.2 M82.9 97.8 l0.4 1.6 M79.5 94.7 l-0.2 1.1 M80.4 100.6 l-0.1 1.4 M81.7 108.4 l0.2 1.5 M84.0 118.3 l1.2 -0.2 M83.1 115.7 l1.3 -0.4 M75.1 116.7 l0.6 -0.2 M93.3 117.7 l1.0 -0.0 M92.2 117.1 l1.1 -0.1 M89.6 115.1 l0.9 0.1 M90.3 115.8 l0.7 0.1 M85.5 118.0 l0.8 0.0 M77.7 115.4 l0.8 -0.3 M84.2 113.9 l1.1 0.1 M77.8 117.6 l1.7 -0.1 M85.3 114.8 l1.5 -0.1 M89.3 115.6 l1.0 -0.2 M86.0 114.3 l0.9 -0.4 M83.2 117.0 l1.8 -0.2 M76.1 117.5 l1.8 0.2 M87.4 117.4 l0.9 0.1 M77.4 118.1 l0.8 -0.4 M94.0 118.0 l1.7 0.3 M86.4 113.9 l0.9 0.0 M78.3 115.5 l1.2 -0.1 M91.7 117.8 l1.5 0.1 M87.4 115.7 l1.3 -0.1 M89.0 117.3 l1.5 -0.3 M86.2 116.2 l0.9 0.0 M72.8 118.3 l0.9 0.0 M84.0 114.3 l0.9 0.1 M89.4 115.1 l1.3 0.1 M73.3 117.6 l0.6 0.2 M79.4 118.1 l1.3 -0.3" fill="none" stroke="#555" stroke-width="0.55" stroke-linecap="round"/>
<path d="M37 118.7 H98.3" stroke="#444" stroke-width="0.9"/>
<path d="M38 119.8 H97" stroke="#999" stroke-width="0.4"/>
<text x="36.3" y="132.6" font-family="'Liberation Serif', serif" font-size="14.2" fill="#d98622" stroke="#d98622" stroke-width="0.22" textLength="61.8" lengthAdjust="spacingAndGlyphs">ELSEVIER</text></g>
<g><defs><linearGradient id="cvg" x1="1" y1="0" x2="0.15" y2="1"><stop offset="0" stop-color="#2f5228"/><stop offset="0.28" stop-color="#4d8a36"/><stop offset="0.62" stop-color="#6db53c"/><stop offset="1" stop-color="#58a034"/></linearGradient><linearGradient id="cvs" x1="0" y1="0" x2="1" y2="1"><stop offset="0" stop-color="#3f7a30" stop-opacity="0.55"/><stop offset="0.3" stop-color="#3f7a30" stop-opacity="0"/><stop offset="1" stop-color="#3f7a30" stop-opacity="0"/></linearGradient></defs>
<rect x="530.3" y="56" width="60.7" height="76.8" fill="url(#cvg)"/>
<rect x="530.3" y="56" width="60.7" height="76.8" fill="url(#cvs)"/>
<rect x="530.5" y="56.2" width="60.3" height="76.4" fill="none" stroke="#2c5a22" stroke-width="0.5"/>
<rect x="533.6" y="58.6" width="6.2" height="5.2" fill="#28401f" opacity="0.6"/><rect x="534" y="64.2" width="5.6" height="1.6" fill="#28401f" opacity="0.75"/>
<rect x="560.5" y="58.7" width="7" height="0.6" fill="#2d4a25" opacity="0.5"/>
<text x="560.5" y="69.9" font-size="3.2" fill="#e9f3e2" text-anchor="middle" textLength="17.5" lengthAdjust="spacingAndGlyphs">JOURNAL OF</text>
<text x="537" y="80.7" font-size="12.4" fill="#fff" stroke="#fff" stroke-width="0.4" textLength="45.2" lengthAdjust="spacingAndGlyphs">POWER</text>
<rect x="547.7" y="70.6" width="3.4" height="3.4" fill="#4f8f37"/>
<rect x="548.75" y="69.4" width="1.3" height="6.0" fill="#fff"/>
<text x="537" y="89.8" font-size="10.9" fill="#fff" stroke="#fff" stroke-width="0.35" textLength="46.4" lengthAdjust="spacingAndGlyphs">SOURCES</text>
<rect x="551.3" y="92.3" width="18.5" height="0.6" fill="#dcebd2" opacity="0.45"/>
<rect x="545" y="93.8" width="32" height="0.6" fill="#dcebd2" opacity="0.45"/>
<rect x="552.5" y="127.4" width="15" height="0.5" fill="#2a4a22" opacity="0.5"/>
<rect x="556.5" y="128.8" width="8.6" height="0.9" fill="#1f3519" opacity="0.85"/></g>
<g><defs><linearGradient id="bdg" x1="0" y1="0" x2="0.6" y2="1"><stop offset="0" stop-color="#fdfdfd"/><stop offset="0.55" stop-color="#ececec"/><stop offset="1" stop-color="#d4d4d4"/></linearGradient></defs>
<rect x="530.4" y="155.4" width="30.2" height="30.2" rx="0.8" fill="url(#bdg)" stroke="#a9a9a9" stroke-width="0.6"/>
<path d="M539.15 162.91 A6.5 6.5 0 1 1 550.52 168.70" fill="none" stroke="#5aa7c6" stroke-width="2.1"/>
<path d="M549.92 169.38 A6.5 6.5 0 0 1 539.00 163.57" fill="none" stroke="#e6c03a" stroke-width="2.1"/>
<path d="M542 159.9 H548.8 V168.9 L545.4 166.9 L542 168.9 Z" fill="#c02a38"/>
<path d="M542 159.9 H545.4 V166.9 L542 168.9 Z" fill="#a81f2c"/>
<text x="545.5" y="177.8" font-size="4.0" fill="#333" stroke="#333" stroke-width="0.12" text-anchor="middle" textLength="21" lengthAdjust="spacingAndGlyphs">Check for</text>
<text x="545.5" y="182.4" font-size="4.0" fill="#333" stroke="#333" stroke-width="0.12" text-anchor="middle" textLength="17" lengthAdjust="spacingAndGlyphs">updates</text></g>
<g><circle cx="189.0" cy="226.3" r="4.7" fill="#a2c03a"/><text x="189.1" y="228.0" font-size="4.8" font-weight="bold" fill="#dcebb0" text-anchor="middle">iD</text><circle cx="347.9" cy="226.3" r="4.7" fill="#a2c03a"/><text x="348.0" y="228.0" font-size="4.8" font-weight="bold" fill="#dcebb0" text-anchor="middle">iD</text><circle cx="465.7" cy="226.3" r="4.7" fill="#a2c03a"/><text x="465.8" y="228.0" font-size="4.8" font-weight="bold" fill="#dcebb0" text-anchor="middle">iD</text></g>
<g><circle cx="38.0" cy="319.7" r="1.45" fill="#111"/><circle cx="38.0" cy="351.7" r="1.45" fill="#111"/><circle cx="38.0" cy="372.7" r="1.45" fill="#111"/></g>
</svg>
<div class="l" id="t0" style="left:236.00px;top:36.00px;font-size:7.4px;line-height:7.4px;color:#217dbb;letter-spacing:0.470px;">Journal of Power Sources 661 (2026) 238687</div>
<div class="l" id="t1" style="left:239.60px;top:64.00px;font-size:8.0px;line-height:8.0px;letter-spacing:0.529px;">Contents lists available at <span style="color:#217dbb">ScienceDirect</span></div>
<div class="l" id="t2" style="left:230.10px;top:87.00px;font-size:15.3px;line-height:15.3px;letter-spacing:0.532px;-webkit-text-stroke:0.25px;">Journal of Power Sources</div>
<div class="l n" id="t3" style="left:204.50px;top:123.00px;font-size:8.0px;line-height:8.0px;letter-spacing:0.619px;-webkit-text-stroke:0.05px;">journal homepage: <span style="color:#217dbb">www.elsevier.com/locate/jpowsour</span></div>
<div class="l" id="t4" style="left:36.00px;top:174.00px;font-size:14.6px;line-height:14.6px;letter-spacing:0.536px;">Enhancing cycling performance of all-solid-state lithium batteries using</div>
<div class="l" id="t5" style="left:36.00px;top:191.00px;font-size:14.6px;line-height:14.6px;letter-spacing:0.321px;">Li<span style="font-size:0.8em;position:relative;top:0.27em">6.4</span>La<span style="font-size:0.8em;position:relative;top:0.27em">3.0</span>Zr<span style="font-size:0.8em;position:relative;top:0.27em">2.0</span>Al<span style="font-size:0.8em;position:relative;top:0.27em">0.2</span>O<span style="font-size:0.8em;position:relative;top:0.27em">12</span>-reinforced hybrid solid electrolyte</div>
<div class="l" id="t6" style="left:36.40px;top:221.00px;font-size:12.0px;line-height:12.0px;letter-spacing:0.032px;-webkit-text-stroke:0.14px;">Lei Wu Tian</div>
<div class="l" id="t7" style="left:112.00px;top:221.00px;font-size:12.0px;line-height:12.0px;letter-spacing:0.208px;-webkit-text-stroke:0.14px;">, Ji Wan Kim</div>
<div class="l" id="t8" style="left:194.50px;top:221.00px;font-size:12.0px;line-height:12.0px;letter-spacing:-0.125px;-webkit-text-stroke:0.14px;">, Dongmei Xie</div>
<div class="l" id="t9" style="left:272.10px;top:221.00px;font-size:12.0px;line-height:12.0px;letter-spacing:0.059px;-webkit-text-stroke:0.14px;">, Weihan Li</div>
<div class="l" id="t10" style="left:353.60px;top:221.00px;font-size:12.0px;line-height:12.0px;letter-spacing:-0.152px;-webkit-text-stroke:0.14px;">, Dong-Won Kim</div>
<div class="l" id="t11" style="left:100.00px;top:221.00px;font-size:8.3px;line-height:8.3px;color:#217dbb;letter-spacing:0.497px;-webkit-text-stroke:0;">a,b</div>
<div class="l" id="t12" style="left:179.60px;top:221.00px;font-size:8.3px;line-height:8.3px;color:#217dbb;-webkit-text-stroke:0;">a</div>
<div class="l" id="t13" style="left:267.00px;top:221.00px;font-size:8.3px;line-height:8.3px;color:#217dbb;-webkit-text-stroke:0;">a</div>
<div class="l" id="t14" style="left:332.00px;top:221.00px;font-size:8.3px;line-height:8.3px;color:#217dbb;letter-spacing:-0.137px;-webkit-text-stroke:0;">b,*</div>
<div class="l" id="t15" style="left:438.30px;top:221.00px;font-size:8.3px;line-height:8.3px;color:#217dbb;letter-spacing:0.377px;-webkit-text-stroke:0;">a,c,**</div>
<div class="l" id="t16" style="left:36.00px;top:244.00px;font-size:7.2px;line-height:7.2px;font-style:italic;letter-spacing:0.239px;transform:scaleX(0.92);transform-origin:0 0;-webkit-text-stroke:0.05px;"><span style="font-size:0.7em;position:relative;top:-0.6em;font-style:normal">a</span> Department of Chemical Engineering, Hanyang University, Seoul, 04763, South Korea</div>
<div class="l" id="t17" style="left:36.00px;top:253.00px;font-size:7.2px;line-height:7.2px;font-style:italic;letter-spacing:0.248px;transform:scaleX(0.92);transform-origin:0 0;-webkit-text-stroke:0.05px;"><span style="font-size:0.7em;position:relative;top:-0.6em;font-style:normal">b</span> Ningbo Key Laboratory of All-Solid-State Battery, Eastern Institute for Advanced Study, Eastern Institute of Technology, Ningbo, Zhejiang, 315201, China</div>
<div class="l" id="t18" style="left:36.00px;top:262.00px;font-size:7.2px;line-height:7.2px;font-style:italic;letter-spacing:0.241px;transform:scaleX(0.92);transform-origin:0 0;-webkit-text-stroke:0.05px;"><span style="font-size:0.7em;position:relative;top:-0.6em;font-style:normal">c</span> Department of Battery Engineering, Hanyang University, Seoul, 04763, South Korea</div>
<div class="l" id="t19" style="left:36.00px;top:296.00px;font-size:7.3px;line-height:7.3px;letter-spacing:3.424px;-webkit-text-stroke:0.22px;">HIGHLIGHTS</div>
<div class="l" id="t20" style="left:211.40px;top:296.00px;font-size:7.3px;line-height:7.3px;letter-spacing:3.269px;-webkit-text-stroke:0.22px;">GRAPHICAL ABSTRACT</div>
<div class="l" id="t21" style="left:36.00px;top:548.00px;font-size:7.3px;line-height:7.3px;letter-spacing:3.126px;-webkit-text-stroke:0.22px;">ARTICLE INFO</div>
<div class="l" id="t22" style="left:211.40px;top:548.00px;font-size:7.3px;line-height:7.3px;letter-spacing:3.268px;-webkit-text-stroke:0.22px;">ABSTRACT</div>
<div class="l" id="t23" style="left:42.00px;top:316.00px;font-size:7.9px;line-height:7.9px;letter-spacing:0.200px;word-spacing:0.397px;">A hybrid electrolyte with LLZAO mem-</div>
<div class="l" id="t24" style="left:42.00px;top:327.00px;font-size:7.9px;line-height:7.9px;letter-spacing:0.200px;word-spacing:2.035px;">brane enhances ionic conductivity and</div>
<div class="l" id="t25" style="left:42.00px;top:337.00px;font-size:7.9px;line-height:7.9px;letter-spacing:0.220px;">robustness.</div>
<div class="l" id="t26" style="left:42.00px;top:348.00px;font-size:7.9px;line-height:7.9px;letter-spacing:0.200px;word-spacing:0.013px;">The Li/NCM cell with hybrid electrolyte</div>
<div class="l" id="t27" style="left:42.00px;top:358.00px;font-size:7.9px;line-height:7.9px;letter-spacing:0.261px;">showed excellent cycling stability.</div>
<div class="l" id="t28" style="left:42.00px;top:369.00px;font-size:7.9px;line-height:7.9px;letter-spacing:0.200px;word-spacing:2.630px;">The LLZAO-based hybrid electrolytes</div>
<div class="l" id="t29" style="left:42.00px;top:379.00px;font-size:7.9px;line-height:7.9px;letter-spacing:0.200px;word-spacing:2.144px;">offer high safety and performance for</div>
<div class="l" id="t30" style="left:42.00px;top:389.00px;font-size:7.9px;line-height:7.9px;letter-spacing:-0.435px;">ASSLBs.</div>
<div class="l" id="t31" style="left:36.00px;top:568.00px;font-size:7.3px;line-height:7.3px;font-style:italic;letter-spacing:0.122px;transform:scaleX(0.9);transform-origin:0 0;-webkit-text-stroke:0.12px;">Keywords:</div>
<div class="l" id="t32" style="left:36.00px;top:577.00px;font-size:7.3px;line-height:7.3px;font-style:italic;letter-spacing:0.187px;transform:scaleX(0.9);transform-origin:0 0;-webkit-text-stroke:0.12px;">Solid hybrid electrolytes</div>
<div class="l" id="t33" style="left:36.00px;top:586.00px;font-size:7.3px;line-height:7.3px;font-style:italic;letter-spacing:0.250px;transform:scaleX(0.9);transform-origin:0 0;-webkit-text-stroke:0.12px;">LLZAO membrane</div>
<div class="l" id="t34" style="left:36.00px;top:595.00px;font-size:7.3px;line-height:7.3px;font-style:italic;letter-spacing:0.132px;transform:scaleX(0.9);transform-origin:0 0;-webkit-text-stroke:0.12px;">All-solid-state batteries</div>
<div class="l" id="t35" style="left:36.00px;top:605.00px;font-size:7.3px;line-height:7.3px;font-style:italic;letter-spacing:0.213px;transform:scaleX(0.9);transform-origin:0 0;-webkit-text-stroke:0.12px;">Ionic conductivity</div>
<div class="l" id="t36" style="left:36.00px;top:614.00px;font-size:7.3px;line-height:7.3px;font-style:italic;letter-spacing:0.197px;transform:scaleX(0.9);transform-origin:0 0;-webkit-text-stroke:0.12px;">Cycle performance</div>
<div class="l" id="t37" style="left:211.40px;top:569.00px;font-size:7.9px;line-height:7.9px;letter-spacing:0.200px;word-spacing:-0.160px;">All-solid-state lithium batteries (ASSLBs) utilizing solid electrolytes are regarded as highly promising candidates</div>
<div class="l" id="t38" style="left:211.40px;top:579.00px;font-size:7.9px;line-height:7.9px;letter-spacing:0.200px;word-spacing:1.321px;">for next-generation batteries due to their high energy density and enhanced safety. However, technical chal-</div>
<div class="l" id="t39" style="left:211.40px;top:589.00px;font-size:7.9px;line-height:7.9px;letter-spacing:0.200px;word-spacing:0.737px;">lenges such as low ionic conductivity and interfacial issues of solid electrolytes currently restrict the practical</div>
<div class="l" id="t40" style="left:211.40px;top:599.00px;font-size:7.9px;line-height:7.9px;letter-spacing:0.200px;word-spacing:0.500px;">applications of ASSLBs. In this study, solid hybrid electrolytes are developed by incorporating a polymer elec-</div>
<div class="l" id="t41" style="left:211.40px;top:610.00px;font-size:7.9px;line-height:7.9px;letter-spacing:0.200px;word-spacing:0.032px;">trolyte composed of poly(vinylidene fluoride-co-hexafluoropropylene), poly(&#949;-caprolactone), 1-propyl-1-methyl-</div>
<div class="l" id="t42" style="left:211.40px;top:620.00px;font-size:7.9px;line-height:7.9px;letter-spacing:0.200px;word-spacing:0.706px;">pyrrolidinium bis(trifluoromethylsulfonyl)imide, and lithium bis (trifluoromethanesulfonyl)imide into a fibrous</div>
<div class="l" id="t43" style="left:211.40px;top:630.00px;font-size:7.9px;line-height:7.9px;letter-spacing:0.200px;word-spacing:0.293px;">Li<span style="font-size:0.76em;position:relative;top:0.2em">6.4</span>La<span style="font-size:0.76em;position:relative;top:0.2em">3.0</span>Zr<span style="font-size:0.76em;position:relative;top:0.2em">2.0</span>Al<span style="font-size:0.76em;position:relative;top:0.2em">0.2</span>O<span style="font-size:0.76em;position:relative;top:0.2em">12</span> (LLZAO) membrane. The incorporation of an ion-conductive fibrous LLZAO membrane</div>
<div class="l" id="t44" style="left:211.40px;top:640.00px;font-size:7.9px;line-height:7.9px;letter-spacing:0.200px;word-spacing:1.109px;">with the polymer electrolyte significantly enhances mechanical robustness and achieves a high ionic conduc-</div>
<div class="l" id="t45" style="left:211.40px;top:650.00px;font-size:7.9px;line-height:7.9px;letter-spacing:0.200px;word-spacing:0.672px;">tivity. The Li/LiNi<span style="font-size:0.76em;position:relative;top:0.2em">0.78</span>Co<span style="font-size:0.76em;position:relative;top:0.2em">0.10</span>Mn<span style="font-size:0.76em;position:relative;top:0.2em">0.12</span>O<span style="font-size:0.76em;position:relative;top:0.2em">2</span> cell employing this solid hybrid electrolyte delivers a high discharge ca-</div>
<div class="l" id="t46" style="left:211.40px;top:660.00px;font-size:7.9px;line-height:7.9px;letter-spacing:0.200px;word-spacing:0.595px;">pacity of 198.3 mAh g<span style="font-size:0.7em;position:relative;top:-0.4em">&#8722;1</span> at 0.1C and 55 <span style="font-size:0.7em;position:relative;top:-0.3em">&#9702;</span>C, exhibits an excellent cycling retention of 89.0 % at 400th cycle at</div>
<div class="l" id="t47" style="left:41.60px;top:705.00px;font-size:7.6px;line-height:7.6px;color:#333;-webkit-text-stroke:0;">*</div>
<div class="l" id="t48" style="left:49.00px;top:704.00px;font-size:7.9px;line-height:7.9px;letter-spacing:0.271px;">Corresponding author.</div>
<div class="l" id="t49" style="left:41.60px;top:715.00px;font-size:7.6px;line-height:7.6px;color:#333;letter-spacing:-0.594px;-webkit-text-stroke:0;">**</div>
<div class="l" id="t50" style="left:52.90px;top:714.00px;font-size:7.9px;line-height:7.9px;letter-spacing:0.261px;">Corresponding author. Department of Chemical Engineering, Hanyang University, Seoul, 04763, South Korea.</div>
<div class="l" id="t51" style="left:49.00px;top:724.00px;font-size:7.9px;line-height:7.9px;font-style:italic;letter-spacing:0.062px;transform:scaleX(0.95);transform-origin:0 0;-webkit-text-stroke:0.08px;">E-mail addresses:</div>
<div class="l" id="t52" style="left:106.70px;top:724.00px;font-size:7.9px;line-height:7.9px;letter-spacing:0.232px;"><span style="color:#217dbb">whli@eitech.edu.cn</span> (W. Li), <span style="color:#217dbb">dongwonkim@hanyang.ac.kr</span> (D.-W. Kim).</div>
<div class="l" id="t53" style="left:36.00px;top:743.00px;font-size:7.9px;line-height:7.9px;color:#217dbb;letter-spacing:0.414px;">https://doi.org/10.1016/j.jpowsour.2025.238687</div>
<div class="l" id="t54" style="left:36.00px;top:753.00px;font-size:7.9px;line-height:7.9px;letter-spacing:0.289px;">Received 22 July 2025; Received in revised form 8 October 2025; Accepted 24 October 2025</div>
<div class="l" id="t55" style="left:36.00px;top:763.00px;font-size:7.9px;line-height:7.9px;letter-spacing:0.243px;">0378-7753/&#169; 2025 Elsevier B.V. All rights are reserved, including those for text and data mining, AI training, and similar technologies.</div>
</body>
</html>
